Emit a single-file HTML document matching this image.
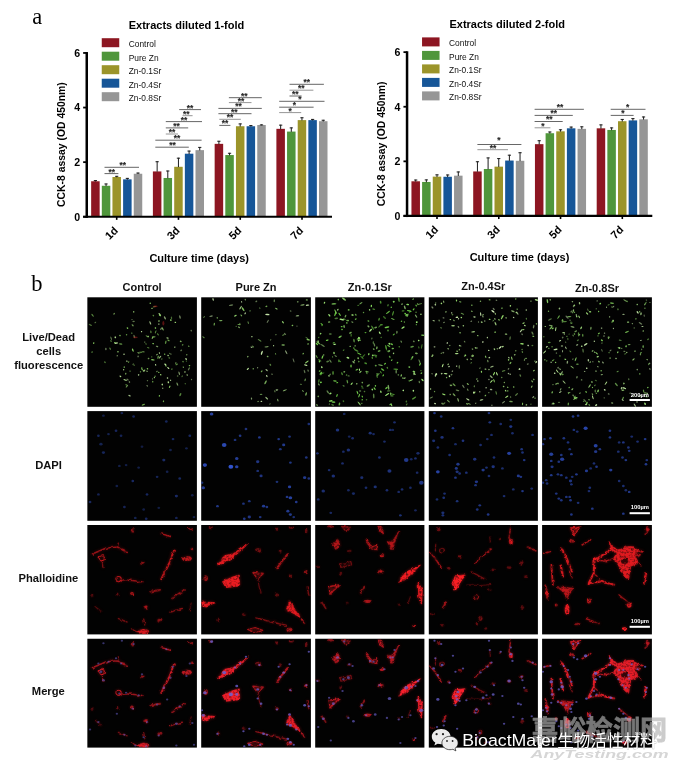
<!DOCTYPE html>
<html lang="en"><head><meta charset="utf-8"><title>Figure</title>
<style>html,body{margin:0;padding:0;background:#fff;}body{width:680px;height:771px;overflow:hidden;}svg{display:block;}</style>
</head><body>
<svg width="680" height="771" viewBox="0 0 680 771">
<defs><filter id="soft" x="-5%" y="-5%" width="110%" height="110%"><feGaussianBlur stdDeviation="0.45"/></filter>
<filter id="cell" x="-5%" y="-5%" width="110%" height="110%" color-interpolation-filters="sRGB"><feTurbulence type="fractalNoise" baseFrequency="0.22" numOctaves="2" seed="7" result="n"/><feDisplacementMap in="SourceGraphic" in2="n" scale="3.2" xChannelSelector="R" yChannelSelector="G" result="d"/><feGaussianBlur in="d" stdDeviation="0.45" result="b"/><feTurbulence type="fractalNoise" baseFrequency="0.45" numOctaves="2" seed="11" result="n2"/><feColorMatrix in="n2" type="matrix" values="0 0 0 0 1  0 0 0 0 1  0 0 0 0 1  2.7 0 0 0 -0.42" result="na"/><feComposite in="b" in2="na" operator="in" result="tex"/><feGaussianBlur in="d" stdDeviation="1.4" result="g0"/><feComponentTransfer in="g0" result="g"><feFuncA type="linear" slope="0.5"/></feComponentTransfer><feMerge><feMergeNode in="g"/><feMergeNode in="tex"/></feMerge></filter>
<filter id="soft3" x="-5%" y="-5%" width="110%" height="110%"><feGaussianBlur stdDeviation="0.75"/></filter>
<filter id="soft2" x="-5%" y="-5%" width="110%" height="110%"><feGaussianBlur stdDeviation="0.35"/></filter>
<clipPath id="cp00"><rect x="0" y="0" width="109.55" height="109.5"/></clipPath>
<clipPath id="cp01"><rect x="0" y="0" width="109.7" height="109.5"/></clipPath>
<clipPath id="cp02"><rect x="0" y="0" width="109.2" height="109.5"/></clipPath>
<clipPath id="cp03"><rect x="0" y="0" width="109.1" height="109.5"/></clipPath>
<clipPath id="cp04"><rect x="0" y="0" width="109.8" height="109.5"/></clipPath>
<clipPath id="cp10"><rect x="0" y="0" width="109.55" height="109.7"/></clipPath>
<clipPath id="cp11"><rect x="0" y="0" width="109.7" height="109.7"/></clipPath>
<clipPath id="cp12"><rect x="0" y="0" width="109.2" height="109.7"/></clipPath>
<clipPath id="cp13"><rect x="0" y="0" width="109.1" height="109.7"/></clipPath>
<clipPath id="cp14"><rect x="0" y="0" width="109.8" height="109.7"/></clipPath>
<clipPath id="cp20"><rect x="0" y="0" width="109.55" height="109.4"/></clipPath>
<clipPath id="cp21"><rect x="0" y="0" width="109.7" height="109.4"/></clipPath>
<clipPath id="cp22"><rect x="0" y="0" width="109.2" height="109.4"/></clipPath>
<clipPath id="cp23"><rect x="0" y="0" width="109.1" height="109.4"/></clipPath>
<clipPath id="cp24"><rect x="0" y="0" width="109.8" height="109.4"/></clipPath>
<clipPath id="cp30"><rect x="0" y="0" width="109.55" height="108.85"/></clipPath>
<clipPath id="cp31"><rect x="0" y="0" width="109.7" height="108.85"/></clipPath>
<clipPath id="cp32"><rect x="0" y="0" width="109.2" height="108.85"/></clipPath>
<clipPath id="cp33"><rect x="0" y="0" width="109.1" height="108.85"/></clipPath>
<clipPath id="cp34"><rect x="0" y="0" width="109.8" height="108.85"/></clipPath>
</defs>
<rect width="680" height="771" fill="#fff"/>
<text x="32.3" y="23.8" font-family="'Liberation Serif','Noto Serif CJK SC',serif" font-size="22.4">a</text>
<text x="31.2" y="290.6" font-family="'Liberation Serif','Noto Serif CJK SC',serif" font-size="22.5">b</text>
<g filter="url(#soft2)">
<g>
<text x="128.75" y="28.9" font-family="'Liberation Sans','Noto Sans CJK SC',sans-serif" font-weight="bold" font-size="11">Extracts diluted 1-fold</text>
<rect x="101.75" y="38.2" width="17.5" height="9" fill="#8d1820"/>
<text x="128.75" y="47" font-family="'Liberation Sans','Noto Sans CJK SC',sans-serif" font-size="8.4" fill="#111">Control</text>
<rect x="101.75" y="51.7" width="17.5" height="9" fill="#4f963a"/>
<text x="128.75" y="60.5" font-family="'Liberation Sans','Noto Sans CJK SC',sans-serif" font-size="8.4" fill="#111">Pure Zn</text>
<rect x="101.75" y="65.2" width="17.5" height="9" fill="#9b942a"/>
<text x="128.75" y="74" font-family="'Liberation Sans','Noto Sans CJK SC',sans-serif" font-size="8.4" fill="#111">Zn-0.1Sr</text>
<rect x="101.75" y="78.7" width="17.5" height="9" fill="#175698"/>
<text x="128.75" y="87.5" font-family="'Liberation Sans','Noto Sans CJK SC',sans-serif" font-size="8.4" fill="#111">Zn-0.4Sr</text>
<rect x="101.75" y="92.2" width="17.5" height="9" fill="#969696"/>
<text x="128.75" y="101" font-family="'Liberation Sans','Noto Sans CJK SC',sans-serif" font-size="8.4" fill="#111">Zn-0.8Sr</text>
<rect x="91.15" y="181.26" width="8.5" height="35.49" fill="#8d1820"/>
<path d="M95.4 181.56V180.17M93.8 180.57H97" stroke="#1c1c1c" stroke-width="1" fill="none"/>
<rect x="101.8" y="185.76" width="8.5" height="30.99" fill="#4f963a"/>
<path d="M106.05 186.06V183.58M104.45 183.98H107.65" stroke="#1c1c1c" stroke-width="1" fill="none"/>
<rect x="112.45" y="177" width="8.5" height="39.75" fill="#9b942a"/>
<path d="M116.7 177.3V175.91M115.1 176.31H118.3" stroke="#1c1c1c" stroke-width="1" fill="none"/>
<rect x="123.1" y="179.35" width="8.5" height="37.4" fill="#175698"/>
<path d="M127.35 179.65V177.98M125.75 178.38H128.95" stroke="#1c1c1c" stroke-width="1" fill="none"/>
<rect x="133.75" y="173.75" width="8.5" height="43" fill="#969696"/>
<path d="M138 174.05V172.66M136.4 173.06H139.6" stroke="#1c1c1c" stroke-width="1" fill="none"/>
<rect x="152.9" y="171.43" width="8.5" height="45.32" fill="#8d1820"/>
<path d="M157.15 171.73V161.33M155.55 161.73H158.75" stroke="#1c1c1c" stroke-width="1" fill="none"/>
<rect x="163.55" y="177.98" width="8.5" height="38.77" fill="#4f963a"/>
<path d="M167.8 178.28V170.61M166.2 171.01H169.4" stroke="#1c1c1c" stroke-width="1" fill="none"/>
<rect x="174.2" y="166.79" width="8.5" height="49.96" fill="#9b942a"/>
<path d="M178.45 167.09V157.78M176.85 158.18H180.05" stroke="#1c1c1c" stroke-width="1" fill="none"/>
<rect x="184.85" y="153.69" width="8.5" height="63.06" fill="#175698"/>
<path d="M189.1 153.99V150.68M187.5 151.08H190.7" stroke="#1c1c1c" stroke-width="1" fill="none"/>
<rect x="195.5" y="150.14" width="8.5" height="66.61" fill="#969696"/>
<path d="M199.75 150.44V147M198.15 147.4H201.35" stroke="#1c1c1c" stroke-width="1" fill="none"/>
<rect x="214.65" y="143.86" width="8.5" height="72.89" fill="#8d1820"/>
<path d="M218.9 144.16V140.86M217.3 141.26H220.5" stroke="#1c1c1c" stroke-width="1" fill="none"/>
<rect x="225.3" y="155.05" width="8.5" height="61.7" fill="#4f963a"/>
<path d="M229.55 155.35V152.87M227.95 153.27H231.15" stroke="#1c1c1c" stroke-width="1" fill="none"/>
<rect x="235.95" y="126.25" width="8.5" height="90.5" fill="#9b942a"/>
<path d="M240.2 126.55V123.52M238.6 123.92H241.8" stroke="#1c1c1c" stroke-width="1" fill="none"/>
<rect x="246.6" y="126.25" width="8.5" height="90.5" fill="#175698"/>
<path d="M250.85 126.55V125.16M249.25 125.56H252.45" stroke="#1c1c1c" stroke-width="1" fill="none"/>
<rect x="257.25" y="125.02" width="8.5" height="91.73" fill="#969696"/>
<path d="M261.5 125.32V124.48M259.9 124.88H263.1" stroke="#1c1c1c" stroke-width="1" fill="none"/>
<rect x="276.4" y="128.84" width="8.5" height="87.91" fill="#8d1820"/>
<path d="M280.65 129.14V124.75M279.05 125.15H282.25" stroke="#1c1c1c" stroke-width="1" fill="none"/>
<rect x="287.05" y="131.57" width="8.5" height="85.18" fill="#4f963a"/>
<path d="M291.3 131.87V127.48M289.7 127.88H292.9" stroke="#1c1c1c" stroke-width="1" fill="none"/>
<rect x="297.7" y="120.11" width="8.5" height="96.64" fill="#9b942a"/>
<path d="M301.95 120.41V117.38M300.35 117.78H303.55" stroke="#1c1c1c" stroke-width="1" fill="none"/>
<rect x="308.35" y="120.11" width="8.5" height="96.64" fill="#175698"/>
<path d="M312.6 120.41V119.02M311 119.42H314.2" stroke="#1c1c1c" stroke-width="1" fill="none"/>
<rect x="319" y="121.2" width="8.5" height="95.55" fill="#969696"/>
<path d="M323.25 121.5V119.84M321.65 120.24H324.85" stroke="#1c1c1c" stroke-width="1" fill="none"/>
<path d="M86.75 52.05V217.85" stroke="#000" stroke-width="2.5" fill="none"/>
<path d="M83.15 216.75H332" stroke="#000" stroke-width="2.2" fill="none"/>
<path d="M83.15 216.75H86.75" stroke="#000" stroke-width="1.8" fill="none"/>
<text x="80.15" y="220.65" text-anchor="end" font-family="'Liberation Sans','Noto Sans CJK SC',sans-serif" font-weight="bold" font-size="10.6">0</text>
<path d="M83.15 162.15H86.75" stroke="#000" stroke-width="1.8" fill="none"/>
<text x="80.15" y="166.05" text-anchor="end" font-family="'Liberation Sans','Noto Sans CJK SC',sans-serif" font-weight="bold" font-size="10.6">2</text>
<path d="M83.15 107.55H86.75" stroke="#000" stroke-width="1.8" fill="none"/>
<text x="80.15" y="111.45" text-anchor="end" font-family="'Liberation Sans','Noto Sans CJK SC',sans-serif" font-weight="bold" font-size="10.6">4</text>
<path d="M83.15 52.95H86.75" stroke="#000" stroke-width="1.8" fill="none"/>
<text x="80.15" y="56.85" text-anchor="end" font-family="'Liberation Sans','Noto Sans CJK SC',sans-serif" font-weight="bold" font-size="10.6">6</text>
<path d="M116.7 216.75V219.85" stroke="#000" stroke-width="1.6" fill="none"/>
<text transform="translate(118.7 231.15) rotate(-45)" text-anchor="end" font-family="'Liberation Sans','Noto Sans CJK SC',sans-serif" font-weight="bold" font-size="11">1d</text>
<path d="M178.47 216.75V219.85" stroke="#000" stroke-width="1.6" fill="none"/>
<text transform="translate(180.47 231.15) rotate(-45)" text-anchor="end" font-family="'Liberation Sans','Noto Sans CJK SC',sans-serif" font-weight="bold" font-size="11">3d</text>
<path d="M240.24 216.75V219.85" stroke="#000" stroke-width="1.6" fill="none"/>
<text transform="translate(242.24 231.15) rotate(-45)" text-anchor="end" font-family="'Liberation Sans','Noto Sans CJK SC',sans-serif" font-weight="bold" font-size="11">5d</text>
<path d="M302.01 216.75V219.85" stroke="#000" stroke-width="1.6" fill="none"/>
<text transform="translate(304.01 231.15) rotate(-45)" text-anchor="end" font-family="'Liberation Sans','Noto Sans CJK SC',sans-serif" font-weight="bold" font-size="11">7d</text>
<text x="199.2" y="261.8" text-anchor="middle" font-family="'Liberation Sans','Noto Sans CJK SC',sans-serif" font-weight="bold" font-size="11">Culture time (days)</text>
<text transform="translate(64.6 144.6) rotate(-90)" text-anchor="middle" font-family="'Liberation Sans','Noto Sans CJK SC',sans-serif" font-weight="bold" font-size="10.4">CCK-8 assay (OD 450nm)</text>
<path d="M104.5 173.6H118.4" stroke="#555" stroke-width="0.9" fill="none"/>
<text x="111.7" y="174.5" text-anchor="middle" font-family="'Liberation Sans','Noto Sans CJK SC',sans-serif" font-weight="bold" font-size="8.4" fill="#222" stroke="#222" stroke-width="0.12">**</text>
<path d="M104.5 167.3H139" stroke="#555" stroke-width="0.9" fill="none"/>
<text x="122.8" y="168.2" text-anchor="middle" font-family="'Liberation Sans','Noto Sans CJK SC',sans-serif" font-weight="bold" font-size="8.4" fill="#222" stroke="#222" stroke-width="0.12">**</text>
<path d="M155.3 147.2H188.8" stroke="#555" stroke-width="0.9" fill="none"/>
<text x="172.4" y="148.1" text-anchor="middle" font-family="'Liberation Sans','Noto Sans CJK SC',sans-serif" font-weight="bold" font-size="8.4" fill="#222" stroke="#222" stroke-width="0.12">**</text>
<path d="M155.3 140.2H201.6" stroke="#555" stroke-width="0.9" fill="none"/>
<text x="177" y="141.1" text-anchor="middle" font-family="'Liberation Sans','Noto Sans CJK SC',sans-serif" font-weight="bold" font-size="8.4" fill="#222" stroke="#222" stroke-width="0.12">**</text>
<path d="M165.8 134H178" stroke="#8a8a8a" stroke-width="0.9" fill="none"/>
<text x="172" y="134.9" text-anchor="middle" font-family="'Liberation Sans','Noto Sans CJK SC',sans-serif" font-weight="bold" font-size="8.4" fill="#222" stroke="#222" stroke-width="0.12">**</text>
<path d="M165.8 127.9H188.2" stroke="#555" stroke-width="0.9" fill="none"/>
<text x="176.4" y="128.8" text-anchor="middle" font-family="'Liberation Sans','Noto Sans CJK SC',sans-serif" font-weight="bold" font-size="8.4" fill="#222" stroke="#222" stroke-width="0.12">**</text>
<path d="M165.8 121.6H202" stroke="#555" stroke-width="0.9" fill="none"/>
<text x="184" y="122.5" text-anchor="middle" font-family="'Liberation Sans','Noto Sans CJK SC',sans-serif" font-weight="bold" font-size="8.4" fill="#222" stroke="#222" stroke-width="0.12">**</text>
<path d="M182.5 115.7H192.6" stroke="#8a8a8a" stroke-width="0.9" fill="none"/>
<text x="186.3" y="116.6" text-anchor="middle" font-family="'Liberation Sans','Noto Sans CJK SC',sans-serif" font-weight="bold" font-size="8.4" fill="#222" stroke="#222" stroke-width="0.12">**</text>
<path d="M179.2 109.6H201" stroke="#555" stroke-width="0.9" fill="none"/>
<text x="190.1" y="110.5" text-anchor="middle" font-family="'Liberation Sans','Noto Sans CJK SC',sans-serif" font-weight="bold" font-size="8.4" fill="#222" stroke="#222" stroke-width="0.12">**</text>
<path d="M219.3 125.4H230.4" stroke="#555" stroke-width="0.9" fill="none"/>
<text x="225.1" y="126.3" text-anchor="middle" font-family="'Liberation Sans','Noto Sans CJK SC',sans-serif" font-weight="bold" font-size="8.4" fill="#222" stroke="#222" stroke-width="0.12">**</text>
<path d="M219.3 119.3H240.8" stroke="#8a8a8a" stroke-width="0.9" fill="none"/>
<text x="229.9" y="120.2" text-anchor="middle" font-family="'Liberation Sans','Noto Sans CJK SC',sans-serif" font-weight="bold" font-size="8.4" fill="#222" stroke="#222" stroke-width="0.12">**</text>
<path d="M218.4 113.7H251.5" stroke="#555" stroke-width="0.9" fill="none"/>
<text x="234.3" y="114.6" text-anchor="middle" font-family="'Liberation Sans','Noto Sans CJK SC',sans-serif" font-weight="bold" font-size="8.4" fill="#222" stroke="#222" stroke-width="0.12">**</text>
<path d="M218.4 108.4H261.8" stroke="#555" stroke-width="0.9" fill="none"/>
<text x="238.5" y="109.3" text-anchor="middle" font-family="'Liberation Sans','Noto Sans CJK SC',sans-serif" font-weight="bold" font-size="8.4" fill="#222" stroke="#222" stroke-width="0.12">**</text>
<path d="M228.9 102.6H251.5" stroke="#8a8a8a" stroke-width="0.9" fill="none"/>
<text x="241" y="103.5" text-anchor="middle" font-family="'Liberation Sans','Noto Sans CJK SC',sans-serif" font-weight="bold" font-size="8.4" fill="#222" stroke="#222" stroke-width="0.12">**</text>
<path d="M228.9 97.7H261.8" stroke="#555" stroke-width="0.9" fill="none"/>
<text x="244.2" y="98.6" text-anchor="middle" font-family="'Liberation Sans','Noto Sans CJK SC',sans-serif" font-weight="bold" font-size="8.4" fill="#222" stroke="#222" stroke-width="0.12">**</text>
<path d="M279.2 112.6H301.2" stroke="#8a8a8a" stroke-width="0.9" fill="none"/>
<text x="290.1" y="113.5" text-anchor="middle" font-family="'Liberation Sans','Noto Sans CJK SC',sans-serif" font-weight="bold" font-size="8.4" fill="#222" stroke="#222" stroke-width="0.12">*</text>
<path d="M279.2 107.2H313.6" stroke="#555" stroke-width="0.9" fill="none"/>
<text x="294.5" y="108.1" text-anchor="middle" font-family="'Liberation Sans','Noto Sans CJK SC',sans-serif" font-weight="bold" font-size="8.4" fill="#222" stroke="#222" stroke-width="0.12">*</text>
<path d="M279.2 101.3H324.5" stroke="#555" stroke-width="0.9" fill="none"/>
<text x="300" y="102.2" text-anchor="middle" font-family="'Liberation Sans','Noto Sans CJK SC',sans-serif" font-weight="bold" font-size="8.4" fill="#222" stroke="#222" stroke-width="0.12">*</text>
<path d="M289.5 96H301.6" stroke="#555" stroke-width="0.9" fill="none"/>
<text x="295.2" y="96.9" text-anchor="middle" font-family="'Liberation Sans','Noto Sans CJK SC',sans-serif" font-weight="bold" font-size="8.4" fill="#222" stroke="#222" stroke-width="0.12">**</text>
<path d="M289.5 90.2H313.4" stroke="#8a8a8a" stroke-width="0.9" fill="none"/>
<text x="301.2" y="91.1" text-anchor="middle" font-family="'Liberation Sans','Noto Sans CJK SC',sans-serif" font-weight="bold" font-size="8.4" fill="#222" stroke="#222" stroke-width="0.12">**</text>
<path d="M289.5 84.3H323.9" stroke="#555" stroke-width="0.9" fill="none"/>
<text x="306.7" y="85.2" text-anchor="middle" font-family="'Liberation Sans','Noto Sans CJK SC',sans-serif" font-weight="bold" font-size="8.4" fill="#222" stroke="#222" stroke-width="0.12">**</text>
</g>
<g>
<text x="449.45" y="27.5" font-family="'Liberation Sans','Noto Sans CJK SC',sans-serif" font-weight="bold" font-size="11">Extracts diluted 2-fold</text>
<rect x="422.05" y="37.4" width="17.5" height="9" fill="#8d1820"/>
<text x="449.05" y="46.2" font-family="'Liberation Sans','Noto Sans CJK SC',sans-serif" font-size="8.4" fill="#111">Control</text>
<rect x="422.05" y="50.9" width="17.5" height="9" fill="#4f963a"/>
<text x="449.05" y="59.7" font-family="'Liberation Sans','Noto Sans CJK SC',sans-serif" font-size="8.4" fill="#111">Pure Zn</text>
<rect x="422.05" y="64.4" width="17.5" height="9" fill="#9b942a"/>
<text x="449.05" y="73.2" font-family="'Liberation Sans','Noto Sans CJK SC',sans-serif" font-size="8.4" fill="#111">Zn-0.1Sr</text>
<rect x="422.05" y="77.9" width="17.5" height="9" fill="#175698"/>
<text x="449.05" y="86.7" font-family="'Liberation Sans','Noto Sans CJK SC',sans-serif" font-size="8.4" fill="#111">Zn-0.4Sr</text>
<rect x="422.05" y="91.4" width="17.5" height="9" fill="#969696"/>
<text x="449.05" y="100.2" font-family="'Liberation Sans','Noto Sans CJK SC',sans-serif" font-size="8.4" fill="#111">Zn-0.8Sr</text>
<rect x="411.45" y="181.28" width="8.5" height="34.67" fill="#8d1820"/>
<path d="M415.7 181.58V179.64M414.1 180.04H417.3" stroke="#1c1c1c" stroke-width="1" fill="none"/>
<rect x="422.1" y="181.96" width="8.5" height="33.99" fill="#4f963a"/>
<path d="M426.35 182.26V179.5M424.75 179.9H427.95" stroke="#1c1c1c" stroke-width="1" fill="none"/>
<rect x="432.75" y="176.64" width="8.5" height="39.31" fill="#9b942a"/>
<path d="M437 176.94V174.45M435.4 174.85H438.6" stroke="#1c1c1c" stroke-width="1" fill="none"/>
<rect x="443.4" y="176.77" width="8.5" height="39.18" fill="#175698"/>
<path d="M447.65 177.07V174.59M446.05 174.99H449.25" stroke="#1c1c1c" stroke-width="1" fill="none"/>
<rect x="454.05" y="175.66" width="8.5" height="40.29" fill="#969696"/>
<path d="M458.3 175.96V171.56M456.7 171.96H459.9" stroke="#1c1c1c" stroke-width="1" fill="none"/>
<rect x="473.2" y="171.45" width="8.5" height="44.5" fill="#8d1820"/>
<path d="M477.45 171.75V161.35M475.85 161.75H479.05" stroke="#1c1c1c" stroke-width="1" fill="none"/>
<rect x="483.85" y="168.99" width="8.5" height="46.96" fill="#4f963a"/>
<path d="M488.1 169.29V157.53M486.5 157.93H489.7" stroke="#1c1c1c" stroke-width="1" fill="none"/>
<rect x="494.5" y="166.65" width="8.5" height="49.3" fill="#9b942a"/>
<path d="M498.75 166.95V158.18M497.15 158.58H500.35" stroke="#1c1c1c" stroke-width="1" fill="none"/>
<rect x="505.15" y="160.53" width="8.5" height="55.42" fill="#175698"/>
<path d="M509.4 160.83V154.8M507.8 155.2H511" stroke="#1c1c1c" stroke-width="1" fill="none"/>
<rect x="515.8" y="160.8" width="8.5" height="55.15" fill="#969696"/>
<path d="M520.05 161.1V152.34M518.45 152.74H521.65" stroke="#1c1c1c" stroke-width="1" fill="none"/>
<rect x="534.95" y="144.15" width="8.5" height="71.8" fill="#8d1820"/>
<path d="M539.2 144.45V140.33M537.6 140.73H540.8" stroke="#1c1c1c" stroke-width="1" fill="none"/>
<rect x="545.6" y="133.23" width="8.5" height="82.72" fill="#4f963a"/>
<path d="M549.85 133.53V131.59M548.25 131.99H551.45" stroke="#1c1c1c" stroke-width="1" fill="none"/>
<rect x="556.25" y="131.32" width="8.5" height="84.63" fill="#9b942a"/>
<path d="M560.5 131.62V129.41M558.9 129.81H562.1" stroke="#1c1c1c" stroke-width="1" fill="none"/>
<rect x="566.9" y="128.32" width="8.5" height="87.63" fill="#175698"/>
<path d="M571.15 128.62V126.68M569.55 127.08H572.75" stroke="#1c1c1c" stroke-width="1" fill="none"/>
<rect x="577.55" y="128.86" width="8.5" height="87.09" fill="#969696"/>
<path d="M581.8 129.16V126.41M580.2 126.81H583.4" stroke="#1c1c1c" stroke-width="1" fill="none"/>
<rect x="596.7" y="128.32" width="8.5" height="87.63" fill="#8d1820"/>
<path d="M600.95 128.62V124.49M599.35 124.89H602.55" stroke="#1c1c1c" stroke-width="1" fill="none"/>
<rect x="607.35" y="129.95" width="8.5" height="86" fill="#4f963a"/>
<path d="M611.6 130.25V127.5M610 127.9H613.2" stroke="#1c1c1c" stroke-width="1" fill="none"/>
<rect x="618" y="121.22" width="8.5" height="94.73" fill="#9b942a"/>
<path d="M622.25 121.52V119.03M620.65 119.43H623.85" stroke="#1c1c1c" stroke-width="1" fill="none"/>
<rect x="628.65" y="120.4" width="8.5" height="95.55" fill="#175698"/>
<path d="M632.9 120.7V118.22M631.3 118.62H634.5" stroke="#1c1c1c" stroke-width="1" fill="none"/>
<rect x="639.3" y="119.31" width="8.5" height="96.64" fill="#969696"/>
<path d="M643.55 119.61V116.58M641.95 116.98H645.15" stroke="#1c1c1c" stroke-width="1" fill="none"/>
<path d="M407.05 51.25V217.05" stroke="#000" stroke-width="2.5" fill="none"/>
<path d="M403.45 215.95H652.3" stroke="#000" stroke-width="2.2" fill="none"/>
<path d="M403.45 215.95H407.05" stroke="#000" stroke-width="1.8" fill="none"/>
<text x="400.45" y="219.85" text-anchor="end" font-family="'Liberation Sans','Noto Sans CJK SC',sans-serif" font-weight="bold" font-size="10.6">0</text>
<path d="M403.45 161.35H407.05" stroke="#000" stroke-width="1.8" fill="none"/>
<text x="400.45" y="165.25" text-anchor="end" font-family="'Liberation Sans','Noto Sans CJK SC',sans-serif" font-weight="bold" font-size="10.6">2</text>
<path d="M403.45 106.75H407.05" stroke="#000" stroke-width="1.8" fill="none"/>
<text x="400.45" y="110.65" text-anchor="end" font-family="'Liberation Sans','Noto Sans CJK SC',sans-serif" font-weight="bold" font-size="10.6">4</text>
<path d="M403.45 52.15H407.05" stroke="#000" stroke-width="1.8" fill="none"/>
<text x="400.45" y="56.05" text-anchor="end" font-family="'Liberation Sans','Noto Sans CJK SC',sans-serif" font-weight="bold" font-size="10.6">6</text>
<path d="M437 215.95V219.05" stroke="#000" stroke-width="1.6" fill="none"/>
<text transform="translate(439 230.35) rotate(-45)" text-anchor="end" font-family="'Liberation Sans','Noto Sans CJK SC',sans-serif" font-weight="bold" font-size="11">1d</text>
<path d="M498.77 215.95V219.05" stroke="#000" stroke-width="1.6" fill="none"/>
<text transform="translate(500.77 230.35) rotate(-45)" text-anchor="end" font-family="'Liberation Sans','Noto Sans CJK SC',sans-serif" font-weight="bold" font-size="11">3d</text>
<path d="M560.54 215.95V219.05" stroke="#000" stroke-width="1.6" fill="none"/>
<text transform="translate(562.54 230.35) rotate(-45)" text-anchor="end" font-family="'Liberation Sans','Noto Sans CJK SC',sans-serif" font-weight="bold" font-size="11">5d</text>
<path d="M622.31 215.95V219.05" stroke="#000" stroke-width="1.6" fill="none"/>
<text transform="translate(624.31 230.35) rotate(-45)" text-anchor="end" font-family="'Liberation Sans','Noto Sans CJK SC',sans-serif" font-weight="bold" font-size="11">7d</text>
<text x="519.5" y="261" text-anchor="middle" font-family="'Liberation Sans','Noto Sans CJK SC',sans-serif" font-weight="bold" font-size="11">Culture time (days)</text>
<text transform="translate(384.9 143.8) rotate(-90)" text-anchor="middle" font-family="'Liberation Sans','Noto Sans CJK SC',sans-serif" font-weight="bold" font-size="10.4">CCK-8 assay (OD 450nm)</text>
<path d="M477.4 149.7H508" stroke="#8a8a8a" stroke-width="0.9" fill="none"/>
<text x="493.1" y="150.6" text-anchor="middle" font-family="'Liberation Sans','Noto Sans CJK SC',sans-serif" font-weight="bold" font-size="8.4" fill="#222" stroke="#222" stroke-width="0.12">**</text>
<path d="M477.4 144.5H521.4" stroke="#555" stroke-width="0.9" fill="none"/>
<text x="499" y="143.2" text-anchor="middle" font-family="'Liberation Sans','Noto Sans CJK SC',sans-serif" font-weight="bold" font-size="8.4" fill="#222" stroke="#222" stroke-width="0.12">*</text>
<path d="M534.6 127.8H550.4" stroke="#8a8a8a" stroke-width="0.9" fill="none"/>
<text x="542.8" y="128.7" text-anchor="middle" font-family="'Liberation Sans','Noto Sans CJK SC',sans-serif" font-weight="bold" font-size="8.4" fill="#222" stroke="#222" stroke-width="0.12">*</text>
<path d="M534.6 121.5H562.7" stroke="#555" stroke-width="0.9" fill="none"/>
<text x="549.3" y="122.4" text-anchor="middle" font-family="'Liberation Sans','Noto Sans CJK SC',sans-serif" font-weight="bold" font-size="8.4" fill="#222" stroke="#222" stroke-width="0.12">**</text>
<path d="M534.6 115.4H572.8" stroke="#555" stroke-width="0.9" fill="none"/>
<text x="553.7" y="116.3" text-anchor="middle" font-family="'Liberation Sans','Noto Sans CJK SC',sans-serif" font-weight="bold" font-size="8.4" fill="#222" stroke="#222" stroke-width="0.12">**</text>
<path d="M534.6 109.3H583.9" stroke="#555" stroke-width="0.9" fill="none"/>
<text x="560" y="110.2" text-anchor="middle" font-family="'Liberation Sans','Noto Sans CJK SC',sans-serif" font-weight="bold" font-size="8.4" fill="#222" stroke="#222" stroke-width="0.12">**</text>
<path d="M610.7 115.4H633.6" stroke="#555" stroke-width="0.9" fill="none"/>
<text x="622.9" y="116.3" text-anchor="middle" font-family="'Liberation Sans','Noto Sans CJK SC',sans-serif" font-weight="bold" font-size="8.4" fill="#222" stroke="#222" stroke-width="0.12">*</text>
<path d="M610.7 109.3H645.5" stroke="#555" stroke-width="0.9" fill="none"/>
<text x="627.7" y="110.2" text-anchor="middle" font-family="'Liberation Sans','Noto Sans CJK SC',sans-serif" font-weight="bold" font-size="8.4" fill="#222" stroke="#222" stroke-width="0.12">*</text>
</g>
</g>
<g font-family="'Liberation Sans','Noto Sans CJK SC',sans-serif" font-weight="bold" font-size="11" text-anchor="middle" fill="#111">
<text x="142.12" y="291">Control</text>
<text x="256.05" y="291">Pure Zn</text>
<text x="369.8" y="291">Zn-0.1Sr</text>
<text x="483.35" y="290.4">Zn-0.4Sr</text>
<text x="597" y="292">Zn-0.8Sr</text>
<g font-size="11.2">
<text x="48.7" y="341.3">Live/Dead</text>
<text x="48.7" y="355">cells</text>
<text x="48.7" y="368.8">fluorescence</text>
<text x="48.5" y="468.6">DAPI</text>
<text x="48.4" y="582.4">Phalloidine</text>
<text x="48.3" y="695.2">Merge</text>
</g>
</g>
<g transform="translate(87.35 297.3)">
<rect x="0" y="0" width="109.55" height="109.5" fill="#020202"/>
<g clip-path="url(#cp00)" filter="url(#soft)">
<ellipse cx="51.09" cy="55.59" rx="1.3" ry="0.65" fill="#a0dc78" opacity="0.65" transform="rotate(33 51.09 55.59)"/>
<ellipse cx="65.36" cy="84.37" rx="0.8" ry="0.75" fill="#8cd464" opacity="0.65" transform="rotate(106 65.36 84.37)"/>
<ellipse cx="54.73" cy="72.05" rx="1.3" ry="0.6" fill="#8cd464" opacity="0.8" transform="rotate(50 54.73 72.05)"/>
<ellipse cx="82.23" cy="56.12" rx="0.7" ry="0.65" fill="#8cd464" opacity="0.5" transform="rotate(101 82.23 56.12)"/>
<ellipse cx="104.17" cy="82.23" rx="0.7" ry="0.6" fill="#c4eaa4" opacity="0.5" transform="rotate(44 104.17 82.23)"/>
<ellipse cx="46.31" cy="24.17" rx="1.3" ry="0.65" fill="#b6e492" opacity="0.5" transform="rotate(174 46.31 24.17)"/>
<ellipse cx="62.95" cy="5.98" rx="0.7" ry="0.75" fill="#8cd464" opacity="0.8" transform="rotate(79 62.95 5.98)"/>
<ellipse cx="68.3" cy="34.6" rx="1.8" ry="0.6" fill="#84cc5c" opacity="0.65" transform="rotate(109 68.3 34.6)"/>
<ellipse cx="65.78" cy="46.39" rx="0.9" ry="0.6" fill="#8cd464" opacity="0.95" transform="rotate(6 65.78 46.39)"/>
<ellipse cx="67.09" cy="9.4" rx="1.8" ry="0.6" fill="#8cd464" opacity="0.5" transform="rotate(164 67.09 9.4)"/>
<ellipse cx="45.32" cy="28.03" rx="1.3" ry="0.75" fill="#a0dc78" opacity="0.65" transform="rotate(50 45.32 28.03)"/>
<ellipse cx="71.46" cy="75.12" rx="0.7" ry="0.6" fill="#8cd464" opacity="0.95" transform="rotate(25 71.46 75.12)"/>
<ellipse cx="76.15" cy="104.04" rx="1" ry="0.6" fill="#8cd464" opacity="0.8" transform="rotate(114 76.15 104.04)"/>
<ellipse cx="4.72" cy="54.74" rx="1" ry="0.75" fill="#84cc5c" opacity="0.5" transform="rotate(119 4.72 54.74)"/>
<ellipse cx="28.89" cy="45.83" rx="1.8" ry="0.75" fill="#c4eaa4" opacity="0.95" transform="rotate(168 28.89 45.83)"/>
<ellipse cx="50.77" cy="59.14" rx="0.9" ry="0.75" fill="#c4eaa4" opacity="0.5" transform="rotate(92 50.77 59.14)"/>
<ellipse cx="84.56" cy="71.8" rx="0.9" ry="0.65" fill="#84cc5c" opacity="0.65" transform="rotate(161 84.56 71.8)"/>
<ellipse cx="36.32" cy="72.42" rx="0.8" ry="0.6" fill="#b6e492" opacity="0.95" transform="rotate(77 36.32 72.42)"/>
<ellipse cx="63.6" cy="35.21" rx="0.7" ry="0.75" fill="#8cd464" opacity="0.5" transform="rotate(89 63.6 35.21)"/>
<ellipse cx="56.88" cy="73.08" rx="1.3" ry="0.65" fill="#a0dc78" opacity="0.8" transform="rotate(151 56.88 73.08)"/>
<ellipse cx="73.73" cy="31.43" rx="1.3" ry="0.6" fill="#c4eaa4" opacity="0.65" transform="rotate(116 73.73 31.43)"/>
<ellipse cx="26.78" cy="16.5" rx="1" ry="0.6" fill="#a0dc78" opacity="0.8" transform="rotate(113 26.78 16.5)"/>
<ellipse cx="77.56" cy="20.57" rx="1.8" ry="0.75" fill="#c4eaa4" opacity="0.65" transform="rotate(62 77.56 20.57)"/>
<ellipse cx="91.89" cy="76.03" rx="1.8" ry="0.65" fill="#c4eaa4" opacity="0.65" transform="rotate(73 91.89 76.03)"/>
<ellipse cx="60.11" cy="83.32" rx="0.7" ry="0.65" fill="#b6e492" opacity="0.5" transform="rotate(5 60.11 83.32)"/>
<ellipse cx="56.69" cy="73.69" rx="1.3" ry="0.75" fill="#b6e492" opacity="0.5" transform="rotate(158 56.69 73.69)"/>
<ellipse cx="30.57" cy="54.5" rx="0.7" ry="0.75" fill="#a0dc78" opacity="0.95" transform="rotate(20 30.57 54.5)"/>
<ellipse cx="99.48" cy="57.41" rx="0.7" ry="0.65" fill="#a0dc78" opacity="0.65" transform="rotate(75 99.48 57.41)"/>
<ellipse cx="5.29" cy="18.06" rx="1.8" ry="0.65" fill="#84cc5c" opacity="0.65" transform="rotate(51 5.29 18.06)"/>
<ellipse cx="54.62" cy="54.72" rx="1.3" ry="0.65" fill="#84cc5c" opacity="0.65" transform="rotate(153 54.62 54.72)"/>
<ellipse cx="89.38" cy="67.08" rx="1.3" ry="0.75" fill="#84cc5c" opacity="0.65" transform="rotate(155 89.38 67.08)"/>
<ellipse cx="39.58" cy="88.93" rx="1.8" ry="0.65" fill="#a0dc78" opacity="0.65" transform="rotate(126 39.58 88.93)"/>
<ellipse cx="46.92" cy="39.26" rx="1.8" ry="0.75" fill="#b6e492" opacity="0.5" transform="rotate(67 46.92 39.26)"/>
<ellipse cx="44.66" cy="22.28" rx="0.7" ry="0.65" fill="#c4eaa4" opacity="0.5" transform="rotate(92 44.66 22.28)"/>
<ellipse cx="37.81" cy="82.7" rx="1.8" ry="0.6" fill="#b6e492" opacity="0.95" transform="rotate(20 37.81 82.7)"/>
<ellipse cx="83.21" cy="83" rx="0.7" ry="0.65" fill="#c4eaa4" opacity="0.8" transform="rotate(130 83.21 83)"/>
<ellipse cx="103.89" cy="33.33" rx="0.8" ry="0.75" fill="#c4eaa4" opacity="0.5" transform="rotate(73 103.89 33.33)"/>
<ellipse cx="56.32" cy="54.49" rx="1" ry="0.75" fill="#a0dc78" opacity="0.5" transform="rotate(21 56.32 54.49)"/>
<ellipse cx="67.04" cy="80.18" rx="0.7" ry="0.6" fill="#a0dc78" opacity="0.95" transform="rotate(72 67.04 80.18)"/>
<ellipse cx="18.53" cy="51.74" rx="1.3" ry="0.75" fill="#c4eaa4" opacity="0.5" transform="rotate(89 18.53 51.74)"/>
<ellipse cx="65.17" cy="40.43" rx="1.3" ry="0.65" fill="#a0dc78" opacity="0.8" transform="rotate(117 65.17 40.43)"/>
<ellipse cx="2.99" cy="27.59" rx="1.8" ry="0.65" fill="#8cd464" opacity="0.5" transform="rotate(28 2.99 27.59)"/>
<ellipse cx="88.48" cy="65.79" rx="1" ry="0.6" fill="#a0dc78" opacity="0.65" transform="rotate(112 88.48 65.79)"/>
<ellipse cx="69.62" cy="74.13" rx="0.8" ry="0.65" fill="#b6e492" opacity="0.65" transform="rotate(133 69.62 74.13)"/>
<ellipse cx="52.74" cy="55.06" rx="0.9" ry="0.65" fill="#84cc5c" opacity="0.8" transform="rotate(91 52.74 55.06)"/>
<ellipse cx="74.46" cy="61.66" rx="0.8" ry="0.6" fill="#84cc5c" opacity="0.65" transform="rotate(113 74.46 61.66)"/>
<ellipse cx="46.78" cy="67.89" rx="0.7" ry="0.6" fill="#84cc5c" opacity="0.65" transform="rotate(97 46.78 67.89)"/>
<ellipse cx="39.21" cy="37.52" rx="0.7" ry="0.6" fill="#84cc5c" opacity="0.95" transform="rotate(24 39.21 37.52)"/>
<ellipse cx="81.09" cy="43.05" rx="1.3" ry="0.65" fill="#84cc5c" opacity="0.8" transform="rotate(27 81.09 43.05)"/>
<ellipse cx="82.33" cy="89.49" rx="1.3" ry="0.6" fill="#8cd464" opacity="0.95" transform="rotate(117 82.33 89.49)"/>
<ellipse cx="53.14" cy="74.49" rx="0.7" ry="0.65" fill="#84cc5c" opacity="0.65" transform="rotate(139 53.14 74.49)"/>
<ellipse cx="75.41" cy="31.63" rx="1.8" ry="0.65" fill="#a0dc78" opacity="0.8" transform="rotate(64 75.41 31.63)"/>
<ellipse cx="97.6" cy="74.67" rx="0.9" ry="0.65" fill="#b6e492" opacity="0.8" transform="rotate(95 97.6 74.67)"/>
<ellipse cx="27.94" cy="40.02" rx="1" ry="0.75" fill="#b6e492" opacity="0.95" transform="rotate(65 27.94 40.02)"/>
<ellipse cx="80.19" cy="40.72" rx="1.3" ry="0.75" fill="#b6e492" opacity="0.65" transform="rotate(27 80.19 40.72)"/>
<ellipse cx="87.96" cy="25.06" rx="0.9" ry="0.6" fill="#a0dc78" opacity="0.95" transform="rotate(28 87.96 25.06)"/>
<ellipse cx="63.48" cy="34.03" rx="0.9" ry="0.75" fill="#8cd464" opacity="0.5" transform="rotate(60 63.48 34.03)"/>
<ellipse cx="80.93" cy="70.62" rx="1.3" ry="0.65" fill="#c4eaa4" opacity="0.95" transform="rotate(39 80.93 70.62)"/>
<ellipse cx="38.82" cy="87.47" rx="1" ry="0.75" fill="#84cc5c" opacity="0.5" transform="rotate(24 38.82 87.47)"/>
<ellipse cx="69.69" cy="57.29" rx="1" ry="0.65" fill="#b6e492" opacity="0.65" transform="rotate(144 69.69 57.29)"/>
<ellipse cx="84.14" cy="20.61" rx="1.3" ry="0.65" fill="#8cd464" opacity="0.5" transform="rotate(82 84.14 20.61)"/>
<ellipse cx="59.89" cy="88.52" rx="1" ry="0.65" fill="#c4eaa4" opacity="0.5" transform="rotate(46 59.89 88.52)"/>
<ellipse cx="93.36" cy="44.04" rx="1" ry="0.75" fill="#a0dc78" opacity="0.8" transform="rotate(24 93.36 44.04)"/>
<ellipse cx="71.53" cy="26.81" rx="0.9" ry="0.65" fill="#c4eaa4" opacity="0.65" transform="rotate(85 71.53 26.81)"/>
<ellipse cx="66.05" cy="18.25" rx="0.9" ry="0.75" fill="#84cc5c" opacity="0.65" transform="rotate(57 66.05 18.25)"/>
<ellipse cx="29.88" cy="58.43" rx="0.7" ry="0.6" fill="#b6e492" opacity="0.65" transform="rotate(138 29.88 58.43)"/>
<ellipse cx="51.26" cy="77.66" rx="0.7" ry="0.75" fill="#c4eaa4" opacity="0.95" transform="rotate(123 51.26 77.66)"/>
<ellipse cx="81.02" cy="85.04" rx="1" ry="0.75" fill="#b6e492" opacity="0.95" transform="rotate(80 81.02 85.04)"/>
<ellipse cx="81.9" cy="60.67" rx="1" ry="0.75" fill="#8cd464" opacity="0.5" transform="rotate(33 81.9 60.67)"/>
<ellipse cx="69.69" cy="49.09" rx="1.3" ry="0.6" fill="#b6e492" opacity="0.65" transform="rotate(18 69.69 49.09)"/>
<ellipse cx="64.63" cy="11.1" rx="0.7" ry="0.65" fill="#a0dc78" opacity="0.95" transform="rotate(28 64.63 11.1)"/>
<ellipse cx="67.85" cy="78.92" rx="0.8" ry="0.75" fill="#8cd464" opacity="0.5" transform="rotate(57 67.85 78.92)"/>
<ellipse cx="59.89" cy="39.05" rx="1.8" ry="0.6" fill="#84cc5c" opacity="0.65" transform="rotate(25 59.89 39.05)"/>
<ellipse cx="102.13" cy="68.29" rx="0.8" ry="0.65" fill="#8cd464" opacity="0.95" transform="rotate(14 102.13 68.29)"/>
<ellipse cx="61.22" cy="61.18" rx="0.9" ry="0.75" fill="#a0dc78" opacity="0.65" transform="rotate(163 61.22 61.18)"/>
<ellipse cx="40.23" cy="82.26" rx="1.3" ry="0.75" fill="#c4eaa4" opacity="0.5" transform="rotate(29 40.23 82.26)"/>
<ellipse cx="101.55" cy="71.62" rx="1.8" ry="0.65" fill="#b6e492" opacity="0.5" transform="rotate(120 101.55 71.62)"/>
<ellipse cx="22.75" cy="51.34" rx="1.3" ry="0.65" fill="#8cd464" opacity="0.65" transform="rotate(69 22.75 51.34)"/>
<ellipse cx="36.87" cy="69.84" rx="0.8" ry="0.65" fill="#84cc5c" opacity="0.95" transform="rotate(120 36.87 69.84)"/>
<ellipse cx="98.74" cy="61.65" rx="1" ry="0.75" fill="#c4eaa4" opacity="0.95" transform="rotate(50 98.74 61.65)"/>
<ellipse cx="36.68" cy="56.95" rx="0.7" ry="0.65" fill="#c4eaa4" opacity="0.95" transform="rotate(4 36.68 56.95)"/>
<ellipse cx="65.14" cy="81.58" rx="0.7" ry="0.6" fill="#c4eaa4" opacity="0.5" transform="rotate(106 65.14 81.58)"/>
<ellipse cx="46.4" cy="14.57" rx="0.8" ry="0.6" fill="#a0dc78" opacity="0.95" transform="rotate(93 46.4 14.57)"/>
<ellipse cx="33.04" cy="79.05" rx="1" ry="0.65" fill="#b6e492" opacity="0.95" transform="rotate(30 33.04 79.05)"/>
<ellipse cx="39.47" cy="63.86" rx="0.9" ry="0.65" fill="#c4eaa4" opacity="0.8" transform="rotate(5 39.47 63.86)"/>
<ellipse cx="93" cy="97.28" rx="1.8" ry="0.75" fill="#84cc5c" opacity="0.65" transform="rotate(114 93 97.28)"/>
<ellipse cx="101.38" cy="48.91" rx="0.9" ry="0.6" fill="#8cd464" opacity="0.65" transform="rotate(40 101.38 48.91)"/>
<ellipse cx="95.69" cy="64.32" rx="0.8" ry="0.75" fill="#8cd464" opacity="0.65" transform="rotate(54 95.69 64.32)"/>
<ellipse cx="58.72" cy="46.6" rx="0.8" ry="0.6" fill="#8cd464" opacity="0.65" transform="rotate(29 58.72 46.6)"/>
<ellipse cx="99.1" cy="63.79" rx="0.7" ry="0.6" fill="#84cc5c" opacity="0.5" transform="rotate(160 99.1 63.79)"/>
<ellipse cx="80.77" cy="58.12" rx="0.7" ry="0.75" fill="#b6e492" opacity="0.95" transform="rotate(138 80.77 58.12)"/>
<ellipse cx="72.69" cy="59.84" rx="1.8" ry="0.6" fill="#c4eaa4" opacity="0.8" transform="rotate(128 72.69 59.84)"/>
<ellipse cx="78.42" cy="67.87" rx="1.8" ry="0.65" fill="#84cc5c" opacity="0.8" transform="rotate(76 78.42 67.87)"/>
<ellipse cx="54.57" cy="70.73" rx="0.8" ry="0.6" fill="#84cc5c" opacity="0.95" transform="rotate(68 54.57 70.73)"/>
<ellipse cx="33.24" cy="46.7" rx="1.8" ry="0.75" fill="#8cd464" opacity="0.65" transform="rotate(6 33.24 46.7)"/>
<ellipse cx="42.09" cy="84.71" rx="0.8" ry="0.75" fill="#c4eaa4" opacity="0.65" transform="rotate(62 42.09 84.71)"/>
<ellipse cx="40.14" cy="30.74" rx="0.9" ry="0.75" fill="#84cc5c" opacity="0.95" transform="rotate(32 40.14 30.74)"/>
<ellipse cx="99.86" cy="77.67" rx="0.8" ry="0.75" fill="#b6e492" opacity="0.8" transform="rotate(64 99.86 77.67)"/>
<ellipse cx="83.58" cy="56.81" rx="0.8" ry="0.65" fill="#b6e492" opacity="0.5" transform="rotate(70 83.58 56.81)"/>
<ellipse cx="17.57" cy="64.91" rx="1" ry="0.65" fill="#84cc5c" opacity="0.65" transform="rotate(56 17.57 64.91)"/>
<ellipse cx="72.45" cy="17.18" rx="1.8" ry="0.65" fill="#b6e492" opacity="0.95" transform="rotate(50 72.45 17.18)"/>
<ellipse cx="32.61" cy="38.24" rx="0.7" ry="0.75" fill="#84cc5c" opacity="0.95" transform="rotate(7 32.61 38.24)"/>
<ellipse cx="60.94" cy="39.13" rx="0.9" ry="0.6" fill="#a0dc78" opacity="0.8" transform="rotate(139 60.94 39.13)"/>
<ellipse cx="77.36" cy="56.93" rx="0.8" ry="0.65" fill="#84cc5c" opacity="0.8" transform="rotate(163 77.36 56.93)"/>
<ellipse cx="95.97" cy="69.91" rx="0.9" ry="0.6" fill="#a0dc78" opacity="0.65" transform="rotate(61 95.97 69.91)"/>
<ellipse cx="68.31" cy="67.62" rx="0.9" ry="0.6" fill="#c4eaa4" opacity="0.95" transform="rotate(74 68.31 67.62)"/>
<ellipse cx="42.17" cy="98.37" rx="1.3" ry="0.65" fill="#c4eaa4" opacity="0.8" transform="rotate(24 42.17 98.37)"/>
<ellipse cx="70.74" cy="59.88" rx="1.8" ry="0.65" fill="#8cd464" opacity="0.8" transform="rotate(100 70.74 59.88)"/>
<ellipse cx="23.65" cy="43.7" rx="0.8" ry="0.6" fill="#84cc5c" opacity="0.8" transform="rotate(34 23.65 43.7)"/>
<ellipse cx="74.91" cy="87.23" rx="0.9" ry="0.75" fill="#b6e492" opacity="0.95" transform="rotate(74 74.91 87.23)"/>
<ellipse cx="45.45" cy="52.83" rx="1.8" ry="0.75" fill="#8cd464" opacity="0.95" transform="rotate(71 45.45 52.83)"/>
<ellipse cx="90" cy="86.83" rx="1.8" ry="0.65" fill="#b6e492" opacity="0.65" transform="rotate(67 90 86.83)"/>
<ellipse cx="42.68" cy="73.85" rx="0.7" ry="0.6" fill="#8cd464" opacity="0.65" transform="rotate(28 42.68 73.85)"/>
<ellipse cx="92.62" cy="19.74" rx="1.8" ry="0.65" fill="#c4eaa4" opacity="0.65" transform="rotate(78 92.62 19.74)"/>
<ellipse cx="78.38" cy="44.97" rx="1.8" ry="0.75" fill="#84cc5c" opacity="0.65" transform="rotate(103 78.38 44.97)"/>
<ellipse cx="95.28" cy="47.57" rx="0.9" ry="0.75" fill="#8cd464" opacity="0.65" transform="rotate(159 95.28 47.57)"/>
<ellipse cx="68.09" cy="30.68" rx="0.9" ry="0.75" fill="#84cc5c" opacity="0.8" transform="rotate(86 68.09 30.68)"/>
<ellipse cx="93.86" cy="53.07" rx="1" ry="0.75" fill="#b6e492" opacity="0.5" transform="rotate(145 93.86 53.07)"/>
<ellipse cx="60.13" cy="71.46" rx="0.9" ry="0.6" fill="#84cc5c" opacity="0.95" transform="rotate(49 60.13 71.46)"/>
<ellipse cx="90.29" cy="78.71" rx="0.8" ry="0.75" fill="#a0dc78" opacity="0.5" transform="rotate(4 90.29 78.71)"/>
<ellipse cx="54.22" cy="34.3" rx="0.7" ry="0.65" fill="#c4eaa4" opacity="0.95" transform="rotate(119 54.22 34.3)"/>
<ellipse cx="62.93" cy="25.7" rx="1.8" ry="0.65" fill="#c4eaa4" opacity="0.8" transform="rotate(66 62.93 25.7)"/>
<ellipse cx="59.67" cy="73.94" rx="0.8" ry="0.65" fill="#b6e492" opacity="0.8" transform="rotate(19 59.67 73.94)"/>
<ellipse cx="44.46" cy="35.74" rx="0.8" ry="0.6" fill="#8cd464" opacity="0.65" transform="rotate(171 44.46 35.74)"/>
<ellipse cx="72.06" cy="98.53" rx="0.9" ry="0.65" fill="#84cc5c" opacity="0.95" transform="rotate(110 72.06 98.53)"/>
<ellipse cx="80.17" cy="80.75" rx="1" ry="0.75" fill="#c4eaa4" opacity="0.65" transform="rotate(84 80.17 80.75)"/>
<ellipse cx="65.47" cy="62.5" rx="1.8" ry="0.65" fill="#8cd464" opacity="0.95" transform="rotate(5 65.47 62.5)"/>
<ellipse cx="55.99" cy="107.33" rx="1.8" ry="0.65" fill="#84cc5c" opacity="0.8" transform="rotate(156 55.99 107.33)"/>
<ellipse cx="87.46" cy="49.86" rx="0.8" ry="0.65" fill="#b6e492" opacity="0.8" transform="rotate(155 87.46 49.86)"/>
<ellipse cx="97.96" cy="86.36" rx="0.7" ry="0.65" fill="#8cd464" opacity="0.5" transform="rotate(65 97.96 86.36)"/>
<ellipse cx="45.81" cy="66.93" rx="1" ry="0.65" fill="#a0dc78" opacity="0.5" transform="rotate(122 45.81 66.93)"/>
<ellipse cx="94.85" cy="79" rx="1" ry="0.65" fill="#8cd464" opacity="0.5" transform="rotate(120 94.85 79)"/>
<ellipse cx="71.61" cy="23.71" rx="0.8" ry="0.75" fill="#a0dc78" opacity="0.95" transform="rotate(137 71.61 23.71)"/>
<ellipse cx="66.47" cy="39.58" rx="1.8" ry="0.6" fill="#8cd464" opacity="0.8" transform="rotate(179 66.47 39.58)"/>
<ellipse cx="83.48" cy="22.82" rx="0.9" ry="0.75" fill="#8cd464" opacity="0.95" transform="rotate(47 83.48 22.82)"/>
<ellipse cx="38.39" cy="76.44" rx="0.9" ry="0.6" fill="#a0dc78" opacity="0.8" transform="rotate(104 38.39 76.44)"/>
<ellipse cx="27.56" cy="45.33" rx="0.9" ry="0.65" fill="#8cd464" opacity="0.95" transform="rotate(161 27.56 45.33)"/>
<ellipse cx="64.41" cy="59.64" rx="0.7" ry="0.65" fill="#8cd464" opacity="0.5" transform="rotate(161 64.41 59.64)"/>
<ellipse cx="72.64" cy="18.08" rx="1.3" ry="0.65" fill="#84cc5c" opacity="0.95" transform="rotate(30 72.64 18.08)"/>
<ellipse cx="7.99" cy="25.17" rx="1" ry="0.6" fill="#a0dc78" opacity="0.5" transform="rotate(142 7.99 25.17)"/>
<ellipse cx="23.8" cy="40.9" rx="1.8" ry="0.6" fill="#b6e492" opacity="0.5" transform="rotate(71 23.8 40.9)"/>
<ellipse cx="72.08" cy="55.78" rx="0.8" ry="0.6" fill="#c4eaa4" opacity="0.95" transform="rotate(63 72.08 55.78)"/>
<ellipse cx="60.94" cy="50.42" rx="1.3" ry="0.6" fill="#84cc5c" opacity="0.65" transform="rotate(18 60.94 50.42)"/>
<ellipse cx="57.41" cy="44.79" rx="0.7" ry="0.65" fill="#b6e492" opacity="0.5" transform="rotate(155 57.41 44.79)"/>
<ellipse cx="6.41" cy="45.82" rx="0.7" ry="0.75" fill="#8cd464" opacity="0.95" transform="rotate(46 6.41 45.82)"/>
<ellipse cx="70.59" cy="37.06" rx="1.3" ry="0.6" fill="#84cc5c" opacity="0.65" transform="rotate(56 70.59 37.06)"/>
<ellipse cx="73.39" cy="77.45" rx="0.8" ry="0.75" fill="#a0dc78" opacity="0.95" transform="rotate(64 73.39 77.45)"/>
<ellipse cx="41.27" cy="64.69" rx="0.9" ry="0.6" fill="#84cc5c" opacity="0.8" transform="rotate(123 41.27 64.69)"/>
<ellipse cx="75.39" cy="90.97" rx="0.7" ry="0.65" fill="#c4eaa4" opacity="0.65" transform="rotate(137 75.39 90.97)"/>
<ellipse cx="77.93" cy="67.21" rx="1.3" ry="0.6" fill="#c4eaa4" opacity="0.95" transform="rotate(38 77.93 67.21)"/>
<ellipse cx="68" cy="9" rx="2.2" ry="0.9" fill="#c02020" opacity="0.5"/>
<ellipse cx="76" cy="26" rx="1" ry="2.2" fill="#c02020" opacity="0.45"/>
<ellipse cx="48" cy="40" rx="2.4" ry="0.9" fill="#c02020" opacity="0.45"/>
</g></g>
<g transform="translate(201.2 297.3)">
<rect x="0" y="0" width="109.7" height="109.5" fill="#020202"/>
<g clip-path="url(#cp01)" filter="url(#soft)">
<ellipse cx="52.04" cy="71.52" rx="0.7" ry="0.65" fill="#94d470" opacity="0.95" transform="rotate(25 52.04 71.52)"/>
<ellipse cx="105.66" cy="40.66" rx="1.8" ry="0.55" fill="#88cc62" opacity="0.5" transform="rotate(37 105.66 40.66)"/>
<ellipse cx="74.66" cy="37.39" rx="0.7" ry="0.55" fill="#a8dc84" opacity="0.65" transform="rotate(151 74.66 37.39)"/>
<ellipse cx="106.88" cy="46.64" rx="0.9" ry="0.75" fill="#88cc62" opacity="0.8" transform="rotate(118 106.88 46.64)"/>
<ellipse cx="60.62" cy="55.52" rx="2.2" ry="0.75" fill="#cdeeb0" opacity="0.95" transform="rotate(109 60.62 55.52)"/>
<ellipse cx="66.39" cy="59.13" rx="0.9" ry="0.75" fill="#94d470" opacity="0.8" transform="rotate(14 66.39 59.13)"/>
<ellipse cx="101.73" cy="93.74" rx="1.1" ry="0.55" fill="#94d470" opacity="0.8" transform="rotate(55 101.73 93.74)"/>
<ellipse cx="81.73" cy="25" rx="1.4" ry="0.65" fill="#94d470" opacity="0.95" transform="rotate(49 81.73 25)"/>
<ellipse cx="65.62" cy="78.81" rx="1.1" ry="0.65" fill="#cdeeb0" opacity="0.95" transform="rotate(66 65.62 78.81)"/>
<ellipse cx="75.72" cy="92.61" rx="1.4" ry="0.75" fill="#bce69c" opacity="0.8" transform="rotate(177 75.72 92.61)"/>
<ellipse cx="37.9" cy="27.23" rx="1.8" ry="0.55" fill="#88cc62" opacity="0.8" transform="rotate(7 37.9 27.23)"/>
<ellipse cx="55.13" cy="4.05" rx="1.1" ry="0.75" fill="#bce69c" opacity="0.5" transform="rotate(141 55.13 4.05)"/>
<ellipse cx="85.01" cy="54.98" rx="2.2" ry="0.65" fill="#cdeeb0" opacity="0.65" transform="rotate(63 85.01 54.98)"/>
<ellipse cx="102.03" cy="56.37" rx="0.9" ry="0.75" fill="#88cc62" opacity="0.8" transform="rotate(126 102.03 56.37)"/>
<ellipse cx="103.95" cy="82.49" rx="1.4" ry="0.55" fill="#94d470" opacity="0.8" transform="rotate(105 103.95 82.49)"/>
<ellipse cx="69.45" cy="42.51" rx="0.9" ry="0.55" fill="#a8dc84" opacity="0.5" transform="rotate(123 69.45 42.51)"/>
<ellipse cx="41.91" cy="11.97" rx="2.2" ry="0.75" fill="#88cc62" opacity="0.95" transform="rotate(56 41.91 11.97)"/>
<ellipse cx="66.59" cy="24.07" rx="1.8" ry="0.55" fill="#cdeeb0" opacity="0.5" transform="rotate(122 66.59 24.07)"/>
<ellipse cx="39.39" cy="10.27" rx="2.2" ry="0.65" fill="#bce69c" opacity="0.8" transform="rotate(123 39.39 10.27)"/>
<ellipse cx="40.44" cy="4.67" rx="0.9" ry="0.55" fill="#cdeeb0" opacity="0.8" transform="rotate(79 40.44 4.67)"/>
<ellipse cx="2.32" cy="39.87" rx="1.4" ry="0.65" fill="#88cc62" opacity="0.65" transform="rotate(36 2.32 39.87)"/>
<ellipse cx="91.27" cy="28.11" rx="0.9" ry="0.65" fill="#88cc62" opacity="0.95" transform="rotate(153 91.27 28.11)"/>
<ellipse cx="60.49" cy="74" rx="1.1" ry="0.65" fill="#94d470" opacity="0.8" transform="rotate(131 60.49 74)"/>
<ellipse cx="66.17" cy="17.28" rx="2.2" ry="0.75" fill="#cdeeb0" opacity="0.95" transform="rotate(5 66.17 17.28)"/>
<ellipse cx="46.64" cy="71.63" rx="1.4" ry="0.65" fill="#bce69c" opacity="0.95" transform="rotate(138 46.64 71.63)"/>
<ellipse cx="19.59" cy="23.34" rx="1.8" ry="0.55" fill="#94d470" opacity="0.8" transform="rotate(174 19.59 23.34)"/>
<ellipse cx="83.59" cy="92.98" rx="2.2" ry="0.55" fill="#a8dc84" opacity="0.8" transform="rotate(157 83.59 92.98)"/>
<ellipse cx="2.88" cy="19.72" rx="1.1" ry="0.55" fill="#94d470" opacity="0.65" transform="rotate(128 2.88 19.72)"/>
<ellipse cx="11.95" cy="2.16" rx="1.4" ry="0.75" fill="#cdeeb0" opacity="0.8" transform="rotate(70 11.95 2.16)"/>
<ellipse cx="96.58" cy="4.5" rx="0.9" ry="0.65" fill="#a8dc84" opacity="0.8" transform="rotate(3 96.58 4.5)"/>
<ellipse cx="103.35" cy="74.18" rx="1.8" ry="0.65" fill="#bce69c" opacity="0.5" transform="rotate(73 103.35 74.18)"/>
<ellipse cx="38.61" cy="26.18" rx="0.7" ry="0.55" fill="#a8dc84" opacity="0.5" transform="rotate(145 38.61 26.18)"/>
<ellipse cx="105.62" cy="64.67" rx="2.2" ry="0.55" fill="#94d470" opacity="0.95" transform="rotate(144 105.62 64.67)"/>
<ellipse cx="46.61" cy="59.34" rx="0.7" ry="0.75" fill="#a8dc84" opacity="0.8" transform="rotate(43 46.61 59.34)"/>
<ellipse cx="65.41" cy="72.76" rx="1.4" ry="0.65" fill="#cdeeb0" opacity="0.8" transform="rotate(41 65.41 72.76)"/>
<ellipse cx="82.15" cy="37.68" rx="1.4" ry="0.65" fill="#88cc62" opacity="0.65" transform="rotate(155 82.15 37.68)"/>
<ellipse cx="69.18" cy="67.48" rx="1.1" ry="0.75" fill="#88cc62" opacity="0.65" transform="rotate(61 69.18 67.48)"/>
<ellipse cx="72.45" cy="48.4" rx="0.7" ry="0.55" fill="#bce69c" opacity="0.95" transform="rotate(61 72.45 48.4)"/>
<ellipse cx="40.12" cy="18.12" rx="1.1" ry="0.65" fill="#94d470" opacity="0.8" transform="rotate(49 40.12 18.12)"/>
<ellipse cx="65.22" cy="9.08" rx="1.1" ry="0.75" fill="#88cc62" opacity="0.8" transform="rotate(160 65.22 9.08)"/>
<ellipse cx="56.43" cy="70.46" rx="0.7" ry="0.65" fill="#cdeeb0" opacity="0.65" transform="rotate(120 56.43 70.46)"/>
<ellipse cx="106.89" cy="73.25" rx="1.1" ry="0.55" fill="#bce69c" opacity="0.65" transform="rotate(78 106.89 73.25)"/>
<ellipse cx="50.32" cy="101.29" rx="1.1" ry="0.65" fill="#bce69c" opacity="0.65" transform="rotate(83 50.32 101.29)"/>
<ellipse cx="64.36" cy="85.04" rx="2.2" ry="0.75" fill="#94d470" opacity="0.8" transform="rotate(118 64.36 85.04)"/>
<ellipse cx="43.99" cy="16.06" rx="1.1" ry="0.65" fill="#cdeeb0" opacity="0.8" transform="rotate(120 43.99 16.06)"/>
<ellipse cx="34.97" cy="29.1" rx="0.7" ry="0.65" fill="#88cc62" opacity="0.5" transform="rotate(9 34.97 29.1)"/>
<ellipse cx="34.23" cy="18.38" rx="1.4" ry="0.75" fill="#94d470" opacity="0.95" transform="rotate(149 34.23 18.38)"/>
<ellipse cx="65.53" cy="100.86" rx="1.8" ry="0.65" fill="#bce69c" opacity="0.8" transform="rotate(41 65.53 100.86)"/>
<ellipse cx="13.03" cy="26.96" rx="1.4" ry="0.55" fill="#88cc62" opacity="0.95" transform="rotate(98 13.03 26.96)"/>
<ellipse cx="56.86" cy="104.19" rx="0.7" ry="0.65" fill="#a8dc84" opacity="0.8" transform="rotate(152 56.86 104.19)"/>
<ellipse cx="107.05" cy="42.4" rx="1.8" ry="0.75" fill="#88cc62" opacity="0.95" transform="rotate(15 107.05 42.4)"/>
<ellipse cx="44.06" cy="2.36" rx="0.9" ry="0.55" fill="#a8dc84" opacity="0.8" transform="rotate(74 44.06 2.36)"/>
<ellipse cx="73.63" cy="94.07" rx="1.1" ry="0.65" fill="#a8dc84" opacity="0.5" transform="rotate(65 73.63 94.07)"/>
<ellipse cx="89.38" cy="13.73" rx="0.9" ry="0.55" fill="#bce69c" opacity="0.65" transform="rotate(11 89.38 13.73)"/>
<ellipse cx="59.89" cy="97.06" rx="1.4" ry="0.55" fill="#94d470" opacity="0.65" transform="rotate(177 59.89 97.06)"/>
<ellipse cx="50.29" cy="50.03" rx="1.1" ry="0.55" fill="#cdeeb0" opacity="0.8" transform="rotate(30 50.29 50.03)"/>
<ellipse cx="81.97" cy="47.69" rx="1.8" ry="0.65" fill="#94d470" opacity="0.8" transform="rotate(3 81.97 47.69)"/>
<ellipse cx="101.29" cy="7.63" rx="2.2" ry="0.75" fill="#a8dc84" opacity="0.65" transform="rotate(167 101.29 7.63)"/>
<ellipse cx="37.76" cy="30" rx="1.1" ry="0.65" fill="#a8dc84" opacity="0.8" transform="rotate(39 37.76 30)"/>
<ellipse cx="68.74" cy="106.66" rx="0.9" ry="0.55" fill="#a8dc84" opacity="0.5" transform="rotate(124 68.74 106.66)"/>
<ellipse cx="58.36" cy="43.02" rx="2.2" ry="0.55" fill="#88cc62" opacity="0.65" transform="rotate(34 58.36 43.02)"/>
<ellipse cx="51.72" cy="49.17" rx="1.4" ry="0.55" fill="#94d470" opacity="0.65" transform="rotate(36 51.72 49.17)"/>
<ellipse cx="74.36" cy="56.52" rx="0.9" ry="0.55" fill="#88cc62" opacity="0.65" transform="rotate(70 74.36 56.52)"/>
<ellipse cx="96.25" cy="18.46" rx="1.8" ry="0.75" fill="#bce69c" opacity="0.65" transform="rotate(168 96.25 18.46)"/>
<ellipse cx="104.89" cy="96.67" rx="1.8" ry="0.75" fill="#94d470" opacity="0.8" transform="rotate(107 104.89 96.67)"/>
<ellipse cx="9.92" cy="18.86" rx="1.8" ry="0.75" fill="#cdeeb0" opacity="0.5" transform="rotate(170 9.92 18.86)"/>
<ellipse cx="65.43" cy="49.49" rx="2.2" ry="0.65" fill="#a8dc84" opacity="0.65" transform="rotate(173 65.43 49.49)"/>
<ellipse cx="73.1" cy="3.47" rx="1.4" ry="0.65" fill="#a8dc84" opacity="0.65" transform="rotate(95 73.1 3.47)"/>
<ellipse cx="58.58" cy="10.84" rx="0.9" ry="0.65" fill="#94d470" opacity="0.5" transform="rotate(53 58.58 10.84)"/>
<ellipse cx="105.63" cy="2.64" rx="1.1" ry="0.65" fill="#94d470" opacity="0.8" transform="rotate(1 105.63 2.64)"/>
<ellipse cx="95.8" cy="28.84" rx="0.7" ry="0.55" fill="#cdeeb0" opacity="0.5" transform="rotate(85 95.8 28.84)"/>
<ellipse cx="75.19" cy="11.36" rx="1.4" ry="0.55" fill="#94d470" opacity="0.95" transform="rotate(28 75.19 11.36)"/>
<ellipse cx="60.18" cy="104.01" rx="0.9" ry="0.65" fill="#cdeeb0" opacity="0.95" transform="rotate(0 60.18 104.01)"/>
<ellipse cx="99.67" cy="87.06" rx="1.1" ry="0.65" fill="#94d470" opacity="0.5" transform="rotate(14 99.67 87.06)"/>
<ellipse cx="50.73" cy="39.36" rx="0.7" ry="0.65" fill="#bce69c" opacity="0.95" transform="rotate(61 50.73 39.36)"/>
<ellipse cx="29.86" cy="7.85" rx="2.2" ry="0.75" fill="#bce69c" opacity="0.5" transform="rotate(167 29.86 7.85)"/>
<ellipse cx="70.86" cy="76.87" rx="0.7" ry="0.65" fill="#bce69c" opacity="0.65" transform="rotate(66 70.86 76.87)"/>
<ellipse cx="104.55" cy="67.82" rx="1.8" ry="0.65" fill="#bce69c" opacity="0.95" transform="rotate(14 104.55 67.82)"/>
<ellipse cx="16.1" cy="20.48" rx="0.9" ry="0.75" fill="#94d470" opacity="0.65" transform="rotate(76 16.1 20.48)"/>
<ellipse cx="48.87" cy="13.58" rx="0.7" ry="0.75" fill="#94d470" opacity="0.65" transform="rotate(85 48.87 13.58)"/>
<ellipse cx="76.62" cy="102.83" rx="1.4" ry="0.55" fill="#a8dc84" opacity="0.8" transform="rotate(75 76.62 102.83)"/>
<ellipse cx="106.37" cy="7.9" rx="1.8" ry="0.65" fill="#cdeeb0" opacity="0.95" transform="rotate(173 106.37 7.9)"/>
<ellipse cx="92.37" cy="63.09" rx="2.2" ry="0.55" fill="#cdeeb0" opacity="0.5" transform="rotate(72 92.37 63.09)"/>
<ellipse cx="83.81" cy="36.63" rx="1.4" ry="0.65" fill="#bce69c" opacity="0.5" transform="rotate(42 83.81 36.63)"/>
<ellipse cx="47.03" cy="25.3" rx="1.4" ry="0.55" fill="#94d470" opacity="0.65" transform="rotate(74 47.03 25.3)"/>
</g></g>
<g transform="translate(315.2 297.3)">
<rect x="0" y="0" width="109.2" height="109.5" fill="#020202"/>
<g clip-path="url(#cp02)" filter="url(#soft)">
<ellipse cx="29.08" cy="74.48" rx="1" ry="0.8" fill="#98e072" opacity="0.7" transform="rotate(152 29.08 74.48)"/>
<ellipse cx="94.07" cy="69.76" rx="1" ry="0.8" fill="#84d65e" opacity="0.85" transform="rotate(12 94.07 69.76)"/>
<ellipse cx="47.46" cy="90.71" rx="1.2" ry="0.6" fill="#72cc4c" opacity="0.55" transform="rotate(2 47.46 90.71)"/>
<ellipse cx="89.51" cy="80.82" rx="1.2" ry="0.7" fill="#aae886" opacity="0.7" transform="rotate(142 89.51 80.82)"/>
<ellipse cx="97.16" cy="60.04" rx="1.5" ry="0.8" fill="#84d65e" opacity="0.85" transform="rotate(120 97.16 60.04)"/>
<ellipse cx="38.35" cy="64.83" rx="1.5" ry="0.8" fill="#aae886" opacity="0.7" transform="rotate(47 38.35 64.83)"/>
<ellipse cx="73.58" cy="48.72" rx="1.9" ry="0.7" fill="#72cc4c" opacity="0.85" transform="rotate(36 73.58 48.72)"/>
<ellipse cx="50.43" cy="65.99" rx="1.5" ry="0.8" fill="#66c440" opacity="0.7" transform="rotate(23 50.43 65.99)"/>
<ellipse cx="26.6" cy="22.21" rx="2.5" ry="0.8" fill="#aae886" opacity="1" transform="rotate(13 26.6 22.21)"/>
<ellipse cx="1.73" cy="46.69" rx="1.5" ry="0.8" fill="#72cc4c" opacity="1" transform="rotate(40 1.73 46.69)"/>
<ellipse cx="18.51" cy="45.54" rx="1.2" ry="0.6" fill="#66c440" opacity="0.85" transform="rotate(159 18.51 45.54)"/>
<ellipse cx="77.81" cy="16.09" rx="2.5" ry="0.7" fill="#66c440" opacity="0.7" transform="rotate(108 77.81 16.09)"/>
<ellipse cx="6.03" cy="76.24" rx="1.9" ry="0.7" fill="#72cc4c" opacity="0.7" transform="rotate(104 6.03 76.24)"/>
<ellipse cx="22.04" cy="85.36" rx="1" ry="0.6" fill="#66c440" opacity="1" transform="rotate(162 22.04 85.36)"/>
<ellipse cx="60.73" cy="59.36" rx="1.2" ry="0.8" fill="#66c440" opacity="0.55" transform="rotate(79 60.73 59.36)"/>
<ellipse cx="1.82" cy="107.78" rx="1.2" ry="0.8" fill="#aae886" opacity="0.55" transform="rotate(54 1.82 107.78)"/>
<ellipse cx="57.09" cy="92.2" rx="1" ry="0.7" fill="#98e072" opacity="1" transform="rotate(57 57.09 92.2)"/>
<ellipse cx="72.8" cy="33.08" rx="1" ry="0.8" fill="#72cc4c" opacity="0.7" transform="rotate(90 72.8 33.08)"/>
<ellipse cx="46.8" cy="89.28" rx="1" ry="0.7" fill="#66c440" opacity="0.7" transform="rotate(76 46.8 89.28)"/>
<ellipse cx="32.1" cy="23.21" rx="1.5" ry="0.7" fill="#84d65e" opacity="0.55" transform="rotate(6 32.1 23.21)"/>
<ellipse cx="82.24" cy="65.38" rx="1" ry="0.7" fill="#66c440" opacity="1" transform="rotate(139 82.24 65.38)"/>
<ellipse cx="43" cy="8.03" rx="1" ry="0.6" fill="#72cc4c" opacity="0.55" transform="rotate(171 43 8.03)"/>
<ellipse cx="89.2" cy="24.75" rx="0.8" ry="0.7" fill="#84d65e" opacity="0.7" transform="rotate(69 89.2 24.75)"/>
<ellipse cx="39.95" cy="48.56" rx="0.8" ry="0.7" fill="#98e072" opacity="0.85" transform="rotate(178 39.95 48.56)"/>
<ellipse cx="104.55" cy="6.74" rx="2.5" ry="0.6" fill="#98e072" opacity="0.55" transform="rotate(159 104.55 6.74)"/>
<ellipse cx="98.67" cy="74.09" rx="0.8" ry="0.7" fill="#98e072" opacity="0.85" transform="rotate(167 98.67 74.09)"/>
<ellipse cx="6.5" cy="26.83" rx="1.5" ry="0.6" fill="#66c440" opacity="1" transform="rotate(42 6.5 26.83)"/>
<ellipse cx="7.27" cy="59.77" rx="1.9" ry="0.7" fill="#72cc4c" opacity="1" transform="rotate(110 7.27 59.77)"/>
<ellipse cx="17.37" cy="59.59" rx="0.8" ry="0.6" fill="#84d65e" opacity="0.55" transform="rotate(67 17.37 59.59)"/>
<ellipse cx="57.32" cy="30.39" rx="2.5" ry="0.7" fill="#66c440" opacity="0.7" transform="rotate(60 57.32 30.39)"/>
<ellipse cx="105.78" cy="73.31" rx="0.8" ry="0.6" fill="#72cc4c" opacity="0.55" transform="rotate(165 105.78 73.31)"/>
<ellipse cx="44.71" cy="42.79" rx="1" ry="0.7" fill="#84d65e" opacity="0.85" transform="rotate(27 44.71 42.79)"/>
<ellipse cx="57.55" cy="58.18" rx="1" ry="0.7" fill="#98e072" opacity="1" transform="rotate(40 57.55 58.18)"/>
<ellipse cx="107.28" cy="82.64" rx="1.5" ry="0.8" fill="#98e072" opacity="1" transform="rotate(47 107.28 82.64)"/>
<ellipse cx="83.11" cy="77.55" rx="0.8" ry="0.7" fill="#98e072" opacity="0.7" transform="rotate(5 83.11 77.55)"/>
<ellipse cx="12.46" cy="64.21" rx="1.5" ry="0.8" fill="#98e072" opacity="0.55" transform="rotate(159 12.46 64.21)"/>
<ellipse cx="76.63" cy="98.53" rx="1.9" ry="0.6" fill="#72cc4c" opacity="0.7" transform="rotate(4 76.63 98.53)"/>
<ellipse cx="90.93" cy="17.87" rx="1.2" ry="0.6" fill="#84d65e" opacity="1" transform="rotate(90 90.93 17.87)"/>
<ellipse cx="66.26" cy="27.45" rx="1.5" ry="0.7" fill="#66c440" opacity="0.7" transform="rotate(1 66.26 27.45)"/>
<ellipse cx="6.91" cy="76.11" rx="2.5" ry="0.6" fill="#72cc4c" opacity="0.55" transform="rotate(164 6.91 76.11)"/>
<ellipse cx="98.86" cy="100.74" rx="2.5" ry="0.7" fill="#72cc4c" opacity="0.7" transform="rotate(149 98.86 100.74)"/>
<ellipse cx="64.41" cy="28.89" rx="1.9" ry="0.6" fill="#66c440" opacity="0.55" transform="rotate(130 64.41 28.89)"/>
<ellipse cx="69.84" cy="66.47" rx="1.2" ry="0.7" fill="#66c440" opacity="1" transform="rotate(139 69.84 66.47)"/>
<ellipse cx="56.16" cy="8.68" rx="1.2" ry="0.7" fill="#84d65e" opacity="1" transform="rotate(94 56.16 8.68)"/>
<ellipse cx="98.7" cy="74.31" rx="1.5" ry="0.7" fill="#84d65e" opacity="0.85" transform="rotate(13 98.7 74.31)"/>
<ellipse cx="106.53" cy="49.18" rx="2.5" ry="0.6" fill="#72cc4c" opacity="0.55" transform="rotate(101 106.53 49.18)"/>
<ellipse cx="24.45" cy="17.03" rx="1.9" ry="0.6" fill="#66c440" opacity="1" transform="rotate(53 24.45 17.03)"/>
<ellipse cx="32.87" cy="23.21" rx="0.8" ry="0.8" fill="#84d65e" opacity="0.7" transform="rotate(16 32.87 23.21)"/>
<ellipse cx="60.56" cy="68.37" rx="1" ry="0.8" fill="#84d65e" opacity="0.7" transform="rotate(178 60.56 68.37)"/>
<ellipse cx="7.42" cy="48.09" rx="2.5" ry="0.7" fill="#aae886" opacity="0.55" transform="rotate(32 7.42 48.09)"/>
<ellipse cx="92.35" cy="18.01" rx="1.9" ry="0.8" fill="#84d65e" opacity="0.7" transform="rotate(111 92.35 18.01)"/>
<ellipse cx="76.7" cy="46.92" rx="1.2" ry="0.8" fill="#72cc4c" opacity="1" transform="rotate(44 76.7 46.92)"/>
<ellipse cx="31.34" cy="77.71" rx="1" ry="0.6" fill="#72cc4c" opacity="0.55" transform="rotate(117 31.34 77.71)"/>
<ellipse cx="17.43" cy="107.66" rx="1.5" ry="0.7" fill="#84d65e" opacity="0.55" transform="rotate(18 17.43 107.66)"/>
<ellipse cx="76.52" cy="62.79" rx="1" ry="0.7" fill="#72cc4c" opacity="0.85" transform="rotate(127 76.52 62.79)"/>
<ellipse cx="14.8" cy="77.38" rx="1.2" ry="0.7" fill="#aae886" opacity="0.55" transform="rotate(125 14.8 77.38)"/>
<ellipse cx="99.51" cy="76.71" rx="1.2" ry="0.6" fill="#aae886" opacity="1" transform="rotate(25 99.51 76.71)"/>
<ellipse cx="3.55" cy="40.09" rx="0.8" ry="0.6" fill="#66c440" opacity="0.7" transform="rotate(134 3.55 40.09)"/>
<ellipse cx="19.53" cy="47.01" rx="1.5" ry="0.6" fill="#aae886" opacity="1" transform="rotate(172 19.53 47.01)"/>
<ellipse cx="60.25" cy="88.56" rx="0.8" ry="0.7" fill="#72cc4c" opacity="1" transform="rotate(67 60.25 88.56)"/>
<ellipse cx="98.6" cy="44.12" rx="1" ry="0.8" fill="#aae886" opacity="0.55" transform="rotate(43 98.6 44.12)"/>
<ellipse cx="48.41" cy="58.63" rx="2.5" ry="0.6" fill="#66c440" opacity="0.55" transform="rotate(130 48.41 58.63)"/>
<ellipse cx="78.47" cy="4.36" rx="1.2" ry="0.7" fill="#72cc4c" opacity="0.55" transform="rotate(8 78.47 4.36)"/>
<ellipse cx="21.81" cy="98.23" rx="1.5" ry="0.6" fill="#66c440" opacity="1" transform="rotate(110 21.81 98.23)"/>
<ellipse cx="43.38" cy="43.12" rx="1" ry="0.8" fill="#98e072" opacity="1" transform="rotate(119 43.38 43.12)"/>
<ellipse cx="5.65" cy="75.96" rx="1.9" ry="0.7" fill="#66c440" opacity="1" transform="rotate(130 5.65 75.96)"/>
<ellipse cx="15.57" cy="103.64" rx="1.9" ry="0.8" fill="#84d65e" opacity="1" transform="rotate(174 15.57 103.64)"/>
<ellipse cx="101.16" cy="56.06" rx="1.5" ry="0.8" fill="#98e072" opacity="0.7" transform="rotate(10 101.16 56.06)"/>
<ellipse cx="78.56" cy="4.42" rx="1" ry="0.7" fill="#84d65e" opacity="1" transform="rotate(100 78.56 4.42)"/>
<ellipse cx="45.65" cy="5.94" rx="1.9" ry="0.6" fill="#98e072" opacity="0.7" transform="rotate(144 45.65 5.94)"/>
<ellipse cx="86.03" cy="78.21" rx="1.2" ry="0.6" fill="#98e072" opacity="1" transform="rotate(101 86.03 78.21)"/>
<ellipse cx="72.44" cy="54.11" rx="1.5" ry="0.6" fill="#66c440" opacity="0.55" transform="rotate(44 72.44 54.11)"/>
<ellipse cx="8.5" cy="57.62" rx="0.8" ry="0.8" fill="#aae886" opacity="0.55" transform="rotate(101 8.5 57.62)"/>
<ellipse cx="68.05" cy="78.13" rx="1.2" ry="0.6" fill="#66c440" opacity="1" transform="rotate(121 68.05 78.13)"/>
<ellipse cx="69.27" cy="20.18" rx="1.9" ry="0.8" fill="#66c440" opacity="0.55" transform="rotate(43 69.27 20.18)"/>
<ellipse cx="78.38" cy="56.07" rx="1" ry="0.7" fill="#aae886" opacity="0.85" transform="rotate(111 78.38 56.07)"/>
<ellipse cx="83.66" cy="2.19" rx="2.5" ry="0.8" fill="#72cc4c" opacity="0.7" transform="rotate(82 83.66 2.19)"/>
<ellipse cx="3.67" cy="83.55" rx="1.9" ry="0.8" fill="#66c440" opacity="0.55" transform="rotate(100 3.67 83.55)"/>
<ellipse cx="15.11" cy="36.66" rx="1.5" ry="0.7" fill="#98e072" opacity="0.55" transform="rotate(3 15.11 36.66)"/>
<ellipse cx="5.29" cy="36.46" rx="0.8" ry="0.6" fill="#84d65e" opacity="0.85" transform="rotate(152 5.29 36.46)"/>
<ellipse cx="67.43" cy="72.25" rx="1.9" ry="0.7" fill="#66c440" opacity="1" transform="rotate(31 67.43 72.25)"/>
<ellipse cx="77.61" cy="51.19" rx="1.2" ry="0.8" fill="#84d65e" opacity="0.85" transform="rotate(172 77.61 51.19)"/>
<ellipse cx="96.03" cy="82.87" rx="1.9" ry="0.6" fill="#98e072" opacity="0.85" transform="rotate(157 96.03 82.87)"/>
<ellipse cx="14.13" cy="17.95" rx="1.5" ry="0.7" fill="#98e072" opacity="1" transform="rotate(52 14.13 17.95)"/>
<ellipse cx="54.42" cy="12.52" rx="0.8" ry="0.7" fill="#98e072" opacity="1" transform="rotate(54 54.42 12.52)"/>
<ellipse cx="51.81" cy="74.26" rx="1.9" ry="0.7" fill="#84d65e" opacity="0.7" transform="rotate(12 51.81 74.26)"/>
<ellipse cx="65.62" cy="74.94" rx="1.5" ry="0.6" fill="#66c440" opacity="0.7" transform="rotate(54 65.62 74.94)"/>
<ellipse cx="36.51" cy="86.42" rx="1.5" ry="0.6" fill="#98e072" opacity="1" transform="rotate(133 36.51 86.42)"/>
<ellipse cx="74.29" cy="46.45" rx="1.2" ry="0.8" fill="#98e072" opacity="1" transform="rotate(29 74.29 46.45)"/>
<ellipse cx="33.37" cy="78.51" rx="1.2" ry="0.6" fill="#98e072" opacity="0.55" transform="rotate(4 33.37 78.51)"/>
<ellipse cx="24.9" cy="39.45" rx="1.9" ry="0.8" fill="#84d65e" opacity="0.85" transform="rotate(149 24.9 39.45)"/>
<ellipse cx="3.03" cy="99.07" rx="0.8" ry="0.8" fill="#98e072" opacity="0.7" transform="rotate(46 3.03 99.07)"/>
<ellipse cx="12.62" cy="94.67" rx="1.9" ry="0.7" fill="#aae886" opacity="0.55" transform="rotate(53 12.62 94.67)"/>
<ellipse cx="31.69" cy="25.72" rx="1" ry="0.6" fill="#98e072" opacity="0.55" transform="rotate(86 31.69 25.72)"/>
<ellipse cx="13.97" cy="24.75" rx="1.2" ry="0.7" fill="#98e072" opacity="0.7" transform="rotate(174 13.97 24.75)"/>
<ellipse cx="64.58" cy="35.48" rx="1.5" ry="0.7" fill="#aae886" opacity="1" transform="rotate(58 64.58 35.48)"/>
<ellipse cx="43.95" cy="40.54" rx="1.2" ry="0.8" fill="#aae886" opacity="1" transform="rotate(32 43.95 40.54)"/>
<ellipse cx="59.66" cy="58.1" rx="2.5" ry="0.8" fill="#72cc4c" opacity="0.55" transform="rotate(11 59.66 58.1)"/>
<ellipse cx="39.38" cy="63.24" rx="1" ry="0.6" fill="#aae886" opacity="0.7" transform="rotate(92 39.38 63.24)"/>
<ellipse cx="88.06" cy="93.14" rx="0.8" ry="0.8" fill="#aae886" opacity="1" transform="rotate(129 88.06 93.14)"/>
<ellipse cx="53.6" cy="56.88" rx="1.2" ry="0.7" fill="#84d65e" opacity="1" transform="rotate(101 53.6 56.88)"/>
<ellipse cx="40.54" cy="21.8" rx="1" ry="0.7" fill="#72cc4c" opacity="0.85" transform="rotate(150 40.54 21.8)"/>
<ellipse cx="93.99" cy="83.57" rx="0.8" ry="0.6" fill="#72cc4c" opacity="0.7" transform="rotate(7 93.99 83.57)"/>
<ellipse cx="98.18" cy="93.34" rx="1" ry="0.8" fill="#aae886" opacity="1" transform="rotate(86 98.18 93.34)"/>
<ellipse cx="46.58" cy="105.99" rx="1" ry="0.6" fill="#84d65e" opacity="0.55" transform="rotate(170 46.58 105.99)"/>
<ellipse cx="3.23" cy="45.64" rx="2.5" ry="0.6" fill="#84d65e" opacity="0.85" transform="rotate(36 3.23 45.64)"/>
<ellipse cx="59.18" cy="47.48" rx="1.9" ry="0.7" fill="#aae886" opacity="0.55" transform="rotate(76 59.18 47.48)"/>
<ellipse cx="100.97" cy="8.25" rx="1" ry="0.6" fill="#66c440" opacity="1" transform="rotate(56 100.97 8.25)"/>
<ellipse cx="9.28" cy="5.42" rx="1" ry="0.7" fill="#98e072" opacity="1" transform="rotate(115 9.28 5.42)"/>
<ellipse cx="65.65" cy="94.46" rx="1.2" ry="0.7" fill="#98e072" opacity="1" transform="rotate(74 65.65 94.46)"/>
<ellipse cx="35.83" cy="68.8" rx="1.5" ry="0.8" fill="#72cc4c" opacity="0.85" transform="rotate(88 35.83 68.8)"/>
<ellipse cx="46.99" cy="102.4" rx="0.8" ry="0.7" fill="#66c440" opacity="1" transform="rotate(116 46.99 102.4)"/>
<ellipse cx="96.17" cy="61.88" rx="1.2" ry="0.7" fill="#66c440" opacity="0.55" transform="rotate(127 96.17 61.88)"/>
<ellipse cx="46.73" cy="60.2" rx="2.5" ry="0.6" fill="#66c440" opacity="0.55" transform="rotate(43 46.73 60.2)"/>
<ellipse cx="48.33" cy="15.14" rx="0.8" ry="0.6" fill="#84d65e" opacity="0.7" transform="rotate(37 48.33 15.14)"/>
<ellipse cx="55.38" cy="32.92" rx="1.9" ry="0.8" fill="#aae886" opacity="1" transform="rotate(132 55.38 32.92)"/>
<ellipse cx="12.07" cy="42.93" rx="1.5" ry="0.7" fill="#66c440" opacity="1" transform="rotate(164 12.07 42.93)"/>
<ellipse cx="21.11" cy="21.1" rx="1.9" ry="0.8" fill="#84d65e" opacity="0.55" transform="rotate(166 21.11 21.1)"/>
<ellipse cx="30.26" cy="18.94" rx="1.5" ry="0.7" fill="#98e072" opacity="0.7" transform="rotate(114 30.26 18.94)"/>
<ellipse cx="31.65" cy="25.48" rx="0.8" ry="0.6" fill="#66c440" opacity="0.7" transform="rotate(68 31.65 25.48)"/>
<ellipse cx="51.33" cy="102.42" rx="0.8" ry="0.8" fill="#72cc4c" opacity="0.55" transform="rotate(8 51.33 102.42)"/>
<ellipse cx="98.4" cy="11.99" rx="1.2" ry="0.7" fill="#66c440" opacity="1" transform="rotate(126 98.4 11.99)"/>
<ellipse cx="4.23" cy="64.23" rx="1" ry="0.7" fill="#72cc4c" opacity="1" transform="rotate(93 4.23 64.23)"/>
<ellipse cx="38.65" cy="50.86" rx="1" ry="0.7" fill="#66c440" opacity="0.7" transform="rotate(39 38.65 50.86)"/>
<ellipse cx="91.85" cy="17.45" rx="1.2" ry="0.6" fill="#84d65e" opacity="0.85" transform="rotate(26 91.85 17.45)"/>
<ellipse cx="75.51" cy="96.46" rx="1.2" ry="0.8" fill="#84d65e" opacity="0.85" transform="rotate(80 75.51 96.46)"/>
<ellipse cx="23.7" cy="63.41" rx="1.5" ry="0.6" fill="#66c440" opacity="0.85" transform="rotate(90 23.7 63.41)"/>
<ellipse cx="91.52" cy="107.12" rx="1.2" ry="0.6" fill="#84d65e" opacity="0.55" transform="rotate(127 91.52 107.12)"/>
<ellipse cx="13.68" cy="78.64" rx="1" ry="0.7" fill="#aae886" opacity="0.7" transform="rotate(31 13.68 78.64)"/>
<ellipse cx="63.04" cy="77.11" rx="1.9" ry="0.8" fill="#84d65e" opacity="0.55" transform="rotate(134 63.04 77.11)"/>
<ellipse cx="45.25" cy="74.61" rx="1.5" ry="0.7" fill="#98e072" opacity="0.85" transform="rotate(130 45.25 74.61)"/>
<ellipse cx="72.8" cy="7.93" rx="1.2" ry="0.8" fill="#72cc4c" opacity="0.55" transform="rotate(114 72.8 7.93)"/>
<ellipse cx="72.19" cy="70.48" rx="1" ry="0.7" fill="#72cc4c" opacity="0.7" transform="rotate(57 72.19 70.48)"/>
<ellipse cx="81.7" cy="34.99" rx="1.5" ry="0.8" fill="#aae886" opacity="0.55" transform="rotate(95 81.7 34.99)"/>
<ellipse cx="43.28" cy="41.3" rx="1.9" ry="0.6" fill="#84d65e" opacity="1" transform="rotate(158 43.28 41.3)"/>
<ellipse cx="14.22" cy="106.78" rx="0.8" ry="0.6" fill="#84d65e" opacity="0.55" transform="rotate(125 14.22 106.78)"/>
<ellipse cx="103.61" cy="50.16" rx="1.2" ry="0.6" fill="#66c440" opacity="0.55" transform="rotate(76 103.61 50.16)"/>
<ellipse cx="107.56" cy="37.89" rx="1.9" ry="0.7" fill="#84d65e" opacity="0.85" transform="rotate(7 107.56 37.89)"/>
<ellipse cx="87.79" cy="30.31" rx="1.9" ry="0.8" fill="#98e072" opacity="1" transform="rotate(150 87.79 30.31)"/>
<ellipse cx="15.2" cy="96.19" rx="1.2" ry="0.8" fill="#98e072" opacity="1" transform="rotate(160 15.2 96.19)"/>
<ellipse cx="34.97" cy="49.08" rx="0.8" ry="0.6" fill="#98e072" opacity="0.85" transform="rotate(17 34.97 49.08)"/>
<ellipse cx="4.55" cy="63.09" rx="1.9" ry="0.8" fill="#72cc4c" opacity="0.55" transform="rotate(37 4.55 63.09)"/>
<ellipse cx="6.9" cy="28.04" rx="1" ry="0.7" fill="#66c440" opacity="0.55" transform="rotate(155 6.9 28.04)"/>
<ellipse cx="76.27" cy="107.5" rx="1.9" ry="0.6" fill="#aae886" opacity="0.85" transform="rotate(69 76.27 107.5)"/>
<ellipse cx="18.73" cy="6.65" rx="2.5" ry="0.6" fill="#84d65e" opacity="1" transform="rotate(178 18.73 6.65)"/>
<ellipse cx="102.4" cy="6.67" rx="0.8" ry="0.6" fill="#98e072" opacity="0.85" transform="rotate(19 102.4 6.67)"/>
<ellipse cx="41" cy="53.07" rx="2.5" ry="0.8" fill="#72cc4c" opacity="0.7" transform="rotate(26 41 53.07)"/>
<ellipse cx="58.54" cy="11.86" rx="1.5" ry="0.8" fill="#72cc4c" opacity="0.55" transform="rotate(19 58.54 11.86)"/>
<ellipse cx="58.5" cy="98.65" rx="2.5" ry="0.8" fill="#98e072" opacity="0.55" transform="rotate(87 58.5 98.65)"/>
<ellipse cx="28.42" cy="52.78" rx="1" ry="0.7" fill="#72cc4c" opacity="0.55" transform="rotate(127 28.42 52.78)"/>
<ellipse cx="50.3" cy="35.29" rx="1" ry="0.6" fill="#66c440" opacity="0.85" transform="rotate(178 50.3 35.29)"/>
<ellipse cx="100.86" cy="14.91" rx="0.8" ry="0.7" fill="#84d65e" opacity="0.7" transform="rotate(91 100.86 14.91)"/>
<ellipse cx="59.42" cy="91.32" rx="1.5" ry="0.7" fill="#72cc4c" opacity="1" transform="rotate(53 59.42 91.32)"/>
<ellipse cx="90" cy="16.31" rx="1" ry="0.8" fill="#66c440" opacity="1" transform="rotate(46 90 16.31)"/>
<ellipse cx="58.53" cy="51.79" rx="1" ry="0.7" fill="#98e072" opacity="0.7" transform="rotate(38 58.53 51.79)"/>
<ellipse cx="87.91" cy="13.53" rx="1.5" ry="0.7" fill="#66c440" opacity="0.7" transform="rotate(178 87.91 13.53)"/>
<ellipse cx="26.49" cy="29.27" rx="1" ry="0.6" fill="#66c440" opacity="1" transform="rotate(8 26.49 29.27)"/>
<ellipse cx="73.27" cy="89.99" rx="2.5" ry="0.8" fill="#aae886" opacity="0.7" transform="rotate(81 73.27 89.99)"/>
<ellipse cx="28.43" cy="88.54" rx="1.2" ry="0.7" fill="#84d65e" opacity="0.55" transform="rotate(25 28.43 88.54)"/>
<ellipse cx="20.08" cy="16.69" rx="2.5" ry="0.7" fill="#66c440" opacity="1" transform="rotate(109 20.08 16.69)"/>
<ellipse cx="41.54" cy="86.49" rx="0.8" ry="0.7" fill="#aae886" opacity="0.85" transform="rotate(159 41.54 86.49)"/>
<ellipse cx="15.2" cy="63.76" rx="1.9" ry="0.7" fill="#aae886" opacity="0.55" transform="rotate(56 15.2 63.76)"/>
<ellipse cx="32.15" cy="84.33" rx="1.9" ry="0.7" fill="#84d65e" opacity="0.7" transform="rotate(78 32.15 84.33)"/>
<ellipse cx="65.26" cy="67.83" rx="2.5" ry="0.6" fill="#98e072" opacity="0.7" transform="rotate(11 65.26 67.83)"/>
<ellipse cx="19.65" cy="83.73" rx="1.9" ry="0.7" fill="#72cc4c" opacity="0.85" transform="rotate(8 19.65 83.73)"/>
<ellipse cx="42.25" cy="95.26" rx="1.9" ry="0.6" fill="#72cc4c" opacity="1" transform="rotate(71 42.25 95.26)"/>
<ellipse cx="94.1" cy="13.64" rx="2.5" ry="0.7" fill="#66c440" opacity="1" transform="rotate(15 94.1 13.64)"/>
<ellipse cx="43.68" cy="64.28" rx="0.8" ry="0.6" fill="#84d65e" opacity="0.85" transform="rotate(77 43.68 64.28)"/>
<ellipse cx="24.92" cy="64.1" rx="1.2" ry="0.6" fill="#66c440" opacity="0.7" transform="rotate(38 24.92 64.1)"/>
<ellipse cx="41.64" cy="72.37" rx="1.5" ry="0.7" fill="#72cc4c" opacity="0.85" transform="rotate(152 41.64 72.37)"/>
<ellipse cx="49.32" cy="94.24" rx="0.8" ry="0.8" fill="#84d65e" opacity="0.55" transform="rotate(108 49.32 94.24)"/>
<ellipse cx="73.56" cy="93.54" rx="1.9" ry="0.7" fill="#84d65e" opacity="0.55" transform="rotate(177 73.56 93.54)"/>
<ellipse cx="78.61" cy="37.15" rx="1.2" ry="0.7" fill="#66c440" opacity="0.85" transform="rotate(144 78.61 37.15)"/>
<ellipse cx="84.07" cy="49.43" rx="0.8" ry="0.7" fill="#66c440" opacity="0.7" transform="rotate(67 84.07 49.43)"/>
<ellipse cx="35.99" cy="38.06" rx="1.5" ry="0.7" fill="#66c440" opacity="0.55" transform="rotate(91 35.99 38.06)"/>
<ellipse cx="37.12" cy="24.76" rx="1.2" ry="0.7" fill="#aae886" opacity="0.55" transform="rotate(28 37.12 24.76)"/>
<ellipse cx="17.84" cy="75.64" rx="1.9" ry="0.8" fill="#72cc4c" opacity="0.7" transform="rotate(90 17.84 75.64)"/>
<ellipse cx="81" cy="74.34" rx="1.9" ry="0.8" fill="#aae886" opacity="0.55" transform="rotate(90 81 74.34)"/>
<ellipse cx="71.76" cy="29.91" rx="2.5" ry="0.7" fill="#72cc4c" opacity="1" transform="rotate(167 71.76 29.91)"/>
<ellipse cx="89.62" cy="10.12" rx="1.9" ry="0.8" fill="#aae886" opacity="0.7" transform="rotate(72 89.62 10.12)"/>
<ellipse cx="56.68" cy="41.22" rx="1" ry="0.6" fill="#aae886" opacity="0.55" transform="rotate(100 56.68 41.22)"/>
<ellipse cx="28.24" cy="103.86" rx="1" ry="0.8" fill="#72cc4c" opacity="0.55" transform="rotate(66 28.24 103.86)"/>
<ellipse cx="32.71" cy="60.46" rx="1.5" ry="0.8" fill="#aae886" opacity="1" transform="rotate(21 32.71 60.46)"/>
<ellipse cx="77.59" cy="21.72" rx="1.9" ry="0.6" fill="#84d65e" opacity="0.85" transform="rotate(20 77.59 21.72)"/>
<ellipse cx="60.45" cy="30.17" rx="1.5" ry="0.8" fill="#98e072" opacity="0.7" transform="rotate(160 60.45 30.17)"/>
<ellipse cx="53.06" cy="88.17" rx="1.9" ry="0.8" fill="#98e072" opacity="0.7" transform="rotate(149 53.06 88.17)"/>
<ellipse cx="86.05" cy="44.39" rx="1.2" ry="0.7" fill="#aae886" opacity="0.55" transform="rotate(63 86.05 44.39)"/>
<ellipse cx="53.2" cy="23.71" rx="1" ry="0.6" fill="#72cc4c" opacity="1" transform="rotate(16 53.2 23.71)"/>
<ellipse cx="40.57" cy="17.39" rx="1.2" ry="0.7" fill="#84d65e" opacity="0.7" transform="rotate(49 40.57 17.39)"/>
<ellipse cx="1.54" cy="59.39" rx="1.9" ry="0.6" fill="#84d65e" opacity="0.7" transform="rotate(59 1.54 59.39)"/>
<ellipse cx="33.49" cy="12.58" rx="1" ry="0.8" fill="#72cc4c" opacity="0.85" transform="rotate(0 33.49 12.58)"/>
<ellipse cx="44.26" cy="72.42" rx="1.2" ry="0.6" fill="#aae886" opacity="1" transform="rotate(86 44.26 72.42)"/>
<ellipse cx="71.91" cy="97.24" rx="2.5" ry="0.7" fill="#98e072" opacity="1" transform="rotate(146 71.91 97.24)"/>
<ellipse cx="3.68" cy="87.2" rx="1.2" ry="0.7" fill="#aae886" opacity="0.7" transform="rotate(60 3.68 87.2)"/>
<ellipse cx="97.93" cy="1.82" rx="1" ry="0.6" fill="#84d65e" opacity="0.85" transform="rotate(125 97.93 1.82)"/>
<ellipse cx="35.27" cy="35.48" rx="1.5" ry="0.8" fill="#98e072" opacity="0.7" transform="rotate(147 35.27 35.48)"/>
<ellipse cx="92.42" cy="7.22" rx="1.5" ry="0.7" fill="#84d65e" opacity="1" transform="rotate(9 92.42 7.22)"/>
<ellipse cx="101.15" cy="27.32" rx="0.8" ry="0.6" fill="#72cc4c" opacity="0.7" transform="rotate(125 101.15 27.32)"/>
<ellipse cx="20.45" cy="58.71" rx="1.5" ry="0.6" fill="#aae886" opacity="0.55" transform="rotate(40 20.45 58.71)"/>
<ellipse cx="61.86" cy="78.75" rx="1.9" ry="0.8" fill="#72cc4c" opacity="0.55" transform="rotate(79 61.86 78.75)"/>
<ellipse cx="91.15" cy="104.23" rx="1" ry="0.8" fill="#72cc4c" opacity="0.55" transform="rotate(98 91.15 104.23)"/>
<ellipse cx="26.84" cy="32.18" rx="0.8" ry="0.8" fill="#66c440" opacity="1" transform="rotate(53 26.84 32.18)"/>
<ellipse cx="63.86" cy="21.96" rx="1.5" ry="0.6" fill="#66c440" opacity="0.85" transform="rotate(103 63.86 21.96)"/>
<ellipse cx="58.1" cy="45.12" rx="1.5" ry="0.6" fill="#98e072" opacity="0.55" transform="rotate(90 58.1 45.12)"/>
<ellipse cx="63.97" cy="53.79" rx="1.5" ry="0.8" fill="#84d65e" opacity="0.7" transform="rotate(157 63.97 53.79)"/>
<ellipse cx="71.21" cy="90.73" rx="1.5" ry="0.8" fill="#66c440" opacity="1" transform="rotate(136 71.21 90.73)"/>
<ellipse cx="106.19" cy="75.91" rx="1" ry="0.7" fill="#84d65e" opacity="0.85" transform="rotate(139 106.19 75.91)"/>
<ellipse cx="28.69" cy="1.68" rx="2.5" ry="0.8" fill="#98e072" opacity="0.85" transform="rotate(36 28.69 1.68)"/>
<ellipse cx="104.13" cy="84.72" rx="1.2" ry="0.7" fill="#aae886" opacity="0.55" transform="rotate(75 104.13 84.72)"/>
<ellipse cx="47.12" cy="85.24" rx="0.8" ry="0.8" fill="#98e072" opacity="0.7" transform="rotate(147 47.12 85.24)"/>
<ellipse cx="87.76" cy="80.8" rx="0.8" ry="0.8" fill="#98e072" opacity="0.7" transform="rotate(76 87.76 80.8)"/>
<ellipse cx="5.72" cy="85.07" rx="1" ry="0.8" fill="#72cc4c" opacity="1" transform="rotate(177 5.72 85.07)"/>
<ellipse cx="96.87" cy="49.43" rx="1.9" ry="0.8" fill="#84d65e" opacity="0.7" transform="rotate(169 96.87 49.43)"/>
<ellipse cx="6.61" cy="69.84" rx="1" ry="0.8" fill="#aae886" opacity="1" transform="rotate(59 6.61 69.84)"/>
<ellipse cx="29.1" cy="21.78" rx="1.5" ry="0.7" fill="#84d65e" opacity="0.55" transform="rotate(18 29.1 21.78)"/>
<ellipse cx="20.4" cy="14.33" rx="2.5" ry="0.6" fill="#84d65e" opacity="0.85" transform="rotate(63 20.4 14.33)"/>
<ellipse cx="66.02" cy="40.11" rx="0.8" ry="0.7" fill="#72cc4c" opacity="0.55" transform="rotate(153 66.02 40.11)"/>
<ellipse cx="4.49" cy="73.69" rx="1" ry="0.7" fill="#72cc4c" opacity="1" transform="rotate(147 4.49 73.69)"/>
<ellipse cx="28.87" cy="29.25" rx="1.5" ry="0.7" fill="#98e072" opacity="0.85" transform="rotate(85 28.87 29.25)"/>
<ellipse cx="75.37" cy="107.21" rx="1.5" ry="0.6" fill="#72cc4c" opacity="1" transform="rotate(168 75.37 107.21)"/>
<ellipse cx="80.45" cy="71.93" rx="2.5" ry="0.7" fill="#66c440" opacity="0.7" transform="rotate(6 80.45 71.93)"/>
<ellipse cx="73.92" cy="53.72" rx="1.2" ry="0.7" fill="#98e072" opacity="1" transform="rotate(166 73.92 53.72)"/>
<ellipse cx="74.58" cy="59.54" rx="1.2" ry="0.8" fill="#72cc4c" opacity="0.7" transform="rotate(59 74.58 59.54)"/>
<ellipse cx="98.87" cy="76" rx="1.9" ry="0.8" fill="#aae886" opacity="0.7" transform="rotate(94 98.87 76)"/>
<ellipse cx="18.83" cy="55.72" rx="1.2" ry="0.8" fill="#98e072" opacity="0.85" transform="rotate(79 18.83 55.72)"/>
<ellipse cx="43.99" cy="56.48" rx="2.5" ry="0.6" fill="#66c440" opacity="1" transform="rotate(28 43.99 56.48)"/>
<ellipse cx="43.97" cy="106.13" rx="2.5" ry="0.6" fill="#98e072" opacity="0.85" transform="rotate(53 43.97 106.13)"/>
<ellipse cx="76.06" cy="9.98" rx="0.8" ry="0.7" fill="#72cc4c" opacity="0.85" transform="rotate(54 76.06 9.98)"/>
<ellipse cx="100.86" cy="18.88" rx="1.9" ry="0.6" fill="#aae886" opacity="0.7" transform="rotate(56 100.86 18.88)"/>
<ellipse cx="22.63" cy="12.38" rx="1" ry="0.7" fill="#aae886" opacity="0.85" transform="rotate(122 22.63 12.38)"/>
<ellipse cx="53.22" cy="29.02" rx="1.2" ry="0.8" fill="#aae886" opacity="0.7" transform="rotate(43 53.22 29.02)"/>
<ellipse cx="101.81" cy="24.76" rx="0.8" ry="0.8" fill="#66c440" opacity="1" transform="rotate(96 101.81 24.76)"/>
<ellipse cx="65.44" cy="4.95" rx="1.5" ry="0.8" fill="#66c440" opacity="0.7" transform="rotate(77 65.44 4.95)"/>
<ellipse cx="104.79" cy="67.1" rx="1.5" ry="0.8" fill="#66c440" opacity="0.85" transform="rotate(121 104.79 67.1)"/>
<ellipse cx="104.35" cy="64.23" rx="2.5" ry="0.6" fill="#aae886" opacity="0.55" transform="rotate(70 104.35 64.23)"/>
<ellipse cx="61.66" cy="50.54" rx="1.5" ry="0.8" fill="#98e072" opacity="0.7" transform="rotate(104 61.66 50.54)"/>
<ellipse cx="101.34" cy="24.91" rx="0.8" ry="0.6" fill="#aae886" opacity="1" transform="rotate(40 101.34 24.91)"/>
<ellipse cx="43.96" cy="98.33" rx="1.9" ry="0.6" fill="#72cc4c" opacity="1" transform="rotate(110 43.96 98.33)"/>
<ellipse cx="103.51" cy="43.23" rx="0.8" ry="0.8" fill="#98e072" opacity="1" transform="rotate(163 103.51 43.23)"/>
<ellipse cx="23.07" cy="2.33" rx="0.8" ry="0.7" fill="#84d65e" opacity="0.85" transform="rotate(98 23.07 2.33)"/>
<ellipse cx="2.96" cy="44.18" rx="1.2" ry="0.6" fill="#aae886" opacity="1" transform="rotate(83 2.96 44.18)"/>
<ellipse cx="18.33" cy="104.8" rx="1.9" ry="0.8" fill="#72cc4c" opacity="0.85" transform="rotate(6 18.33 104.8)"/>
<ellipse cx="37.27" cy="17.7" rx="1.2" ry="0.8" fill="#98e072" opacity="1" transform="rotate(6 37.27 17.7)"/>
<ellipse cx="61.88" cy="76.53" rx="0.8" ry="0.6" fill="#84d65e" opacity="0.85" transform="rotate(31 61.88 76.53)"/>
<ellipse cx="5.47" cy="36.27" rx="0.8" ry="0.7" fill="#98e072" opacity="0.7" transform="rotate(175 5.47 36.27)"/>
<ellipse cx="94.86" cy="14.42" rx="1.5" ry="0.6" fill="#66c440" opacity="0.55" transform="rotate(134 94.86 14.42)"/>
<ellipse cx="77.79" cy="96.94" rx="1.9" ry="0.6" fill="#66c440" opacity="0.7" transform="rotate(15 77.79 96.94)"/>
<ellipse cx="24.2" cy="106.76" rx="1.5" ry="0.8" fill="#72cc4c" opacity="0.85" transform="rotate(103 24.2 106.76)"/>
<ellipse cx="38.82" cy="43.33" rx="1.9" ry="0.7" fill="#84d65e" opacity="0.7" transform="rotate(83 38.82 43.33)"/>
<ellipse cx="72.73" cy="15.19" rx="2.5" ry="0.7" fill="#72cc4c" opacity="0.85" transform="rotate(144 72.73 15.19)"/>
<ellipse cx="57.07" cy="60.47" rx="1.2" ry="0.7" fill="#66c440" opacity="0.7" transform="rotate(78 57.07 60.47)"/>
<ellipse cx="86.32" cy="23.91" rx="0.8" ry="0.7" fill="#72cc4c" opacity="0.85" transform="rotate(146 86.32 23.91)"/>
<ellipse cx="42.94" cy="60.85" rx="1" ry="0.7" fill="#98e072" opacity="1" transform="rotate(82 42.94 60.85)"/>
<ellipse cx="105.72" cy="16.99" rx="0.8" ry="0.8" fill="#aae886" opacity="0.85" transform="rotate(21 105.72 16.99)"/>
<ellipse cx="70.86" cy="50.18" rx="2.5" ry="0.7" fill="#66c440" opacity="0.85" transform="rotate(78 70.86 50.18)"/>
<ellipse cx="51.51" cy="75.62" rx="1.5" ry="0.7" fill="#84d65e" opacity="0.55" transform="rotate(66 51.51 75.62)"/>
<ellipse cx="26.82" cy="76.41" rx="1.5" ry="0.7" fill="#72cc4c" opacity="0.7" transform="rotate(69 26.82 76.41)"/>
<ellipse cx="44.87" cy="93.69" rx="1.2" ry="0.8" fill="#aae886" opacity="0.55" transform="rotate(2 44.87 93.69)"/>
<ellipse cx="86.83" cy="6.83" rx="0.8" ry="0.7" fill="#aae886" opacity="0.85" transform="rotate(129 86.83 6.83)"/>
<ellipse cx="47.14" cy="99.21" rx="1" ry="0.6" fill="#66c440" opacity="1" transform="rotate(52 47.14 99.21)"/>
</g></g>
<g transform="translate(428.8 297.3)">
<rect x="0" y="0" width="109.1" height="109.5" fill="#020202"/>
<g clip-path="url(#cp03)" filter="url(#soft)">
<ellipse cx="12.88" cy="76.33" rx="0.9" ry="0.75" fill="#c8eca8" opacity="0.85" transform="rotate(169 12.88 76.33)"/>
<ellipse cx="79.68" cy="71.62" rx="1" ry="0.65" fill="#c8eca8" opacity="0.55" transform="rotate(123 79.68 71.62)"/>
<ellipse cx="25.28" cy="97.51" rx="1.9" ry="0.75" fill="#a0dc78" opacity="0.7" transform="rotate(46 25.28 97.51)"/>
<ellipse cx="60.22" cy="72.22" rx="0.7" ry="0.75" fill="#b0e28c" opacity="0.85" transform="rotate(117 60.22 72.22)"/>
<ellipse cx="10.36" cy="23.27" rx="1" ry="0.75" fill="#b0e28c" opacity="0.55" transform="rotate(72 10.36 23.27)"/>
<ellipse cx="63.14" cy="69.38" rx="1.9" ry="0.65" fill="#c8eca8" opacity="0.7" transform="rotate(155 63.14 69.38)"/>
<ellipse cx="49.7" cy="24.74" rx="0.7" ry="0.6" fill="#c8eca8" opacity="0.55" transform="rotate(90 49.7 24.74)"/>
<ellipse cx="31.39" cy="4.48" rx="1.3" ry="0.75" fill="#90d468" opacity="0.55" transform="rotate(20 31.39 4.48)"/>
<ellipse cx="52.67" cy="74.49" rx="1" ry="0.65" fill="#90d468" opacity="1" transform="rotate(81 52.67 74.49)"/>
<ellipse cx="64.92" cy="11.6" rx="1.3" ry="0.65" fill="#d4f0b8" opacity="0.55" transform="rotate(42 64.92 11.6)"/>
<ellipse cx="16.76" cy="76.42" rx="1.9" ry="0.65" fill="#b0e28c" opacity="1" transform="rotate(3 16.76 76.42)"/>
<ellipse cx="38.51" cy="62.14" rx="0.9" ry="0.75" fill="#b0e28c" opacity="0.7" transform="rotate(47 38.51 62.14)"/>
<ellipse cx="68.43" cy="51.48" rx="0.7" ry="0.6" fill="#b0e28c" opacity="0.85" transform="rotate(69 68.43 51.48)"/>
<ellipse cx="106.18" cy="63.91" rx="0.9" ry="0.65" fill="#b0e28c" opacity="0.55" transform="rotate(168 106.18 63.91)"/>
<ellipse cx="103.36" cy="84.03" rx="1.3" ry="0.65" fill="#a0dc78" opacity="0.7" transform="rotate(45 103.36 84.03)"/>
<ellipse cx="23.64" cy="73.93" rx="0.9" ry="0.6" fill="#d4f0b8" opacity="0.7" transform="rotate(129 23.64 73.93)"/>
<ellipse cx="70.15" cy="22.52" rx="1" ry="0.75" fill="#90d468" opacity="0.85" transform="rotate(44 70.15 22.52)"/>
<ellipse cx="98.98" cy="66.76" rx="1" ry="0.65" fill="#c8eca8" opacity="0.55" transform="rotate(168 98.98 66.76)"/>
<ellipse cx="87.46" cy="15.33" rx="0.8" ry="0.65" fill="#90d468" opacity="1" transform="rotate(167 87.46 15.33)"/>
<ellipse cx="14.88" cy="97.02" rx="1.9" ry="0.65" fill="#90d468" opacity="1" transform="rotate(19 14.88 97.02)"/>
<ellipse cx="15.22" cy="25.18" rx="0.8" ry="0.6" fill="#c8eca8" opacity="0.7" transform="rotate(130 15.22 25.18)"/>
<ellipse cx="107.43" cy="64.92" rx="1.3" ry="0.65" fill="#c8eca8" opacity="1" transform="rotate(126 107.43 64.92)"/>
<ellipse cx="103.66" cy="35.87" rx="1.9" ry="0.75" fill="#b0e28c" opacity="0.55" transform="rotate(65 103.66 35.87)"/>
<ellipse cx="46.91" cy="105.93" rx="0.8" ry="0.6" fill="#c8eca8" opacity="0.55" transform="rotate(149 46.91 105.93)"/>
<ellipse cx="6.28" cy="106.3" rx="1" ry="0.65" fill="#d4f0b8" opacity="1" transform="rotate(26 6.28 106.3)"/>
<ellipse cx="3.62" cy="10.15" rx="1.3" ry="0.75" fill="#d4f0b8" opacity="0.55" transform="rotate(50 3.62 10.15)"/>
<ellipse cx="107.63" cy="26.58" rx="0.7" ry="0.6" fill="#90d468" opacity="1" transform="rotate(167 107.63 26.58)"/>
<ellipse cx="48.94" cy="38.32" rx="0.8" ry="0.65" fill="#a0dc78" opacity="0.85" transform="rotate(5 48.94 38.32)"/>
<ellipse cx="57.27" cy="90.46" rx="0.7" ry="0.65" fill="#d4f0b8" opacity="0.85" transform="rotate(162 57.27 90.46)"/>
<ellipse cx="42.46" cy="65.56" rx="1" ry="0.6" fill="#90d468" opacity="0.55" transform="rotate(137 42.46 65.56)"/>
<ellipse cx="93.28" cy="52.2" rx="0.7" ry="0.6" fill="#a0dc78" opacity="0.7" transform="rotate(93 93.28 52.2)"/>
<ellipse cx="28.67" cy="93.05" rx="1.9" ry="0.75" fill="#b0e28c" opacity="0.55" transform="rotate(16 28.67 93.05)"/>
<ellipse cx="21.7" cy="87.99" rx="1" ry="0.65" fill="#b0e28c" opacity="0.7" transform="rotate(50 21.7 87.99)"/>
<ellipse cx="68.07" cy="76.45" rx="1.9" ry="0.6" fill="#b0e28c" opacity="1" transform="rotate(67 68.07 76.45)"/>
<ellipse cx="65.66" cy="51.87" rx="1" ry="0.75" fill="#b0e28c" opacity="0.85" transform="rotate(62 65.66 51.87)"/>
<ellipse cx="20.22" cy="69.3" rx="0.9" ry="0.65" fill="#d4f0b8" opacity="0.85" transform="rotate(154 20.22 69.3)"/>
<ellipse cx="6.58" cy="7.42" rx="0.9" ry="0.75" fill="#c8eca8" opacity="0.85" transform="rotate(55 6.58 7.42)"/>
<ellipse cx="72.94" cy="80.23" rx="0.8" ry="0.75" fill="#a0dc78" opacity="0.55" transform="rotate(179 72.94 80.23)"/>
<ellipse cx="94.79" cy="25.79" rx="1.3" ry="0.65" fill="#a0dc78" opacity="0.85" transform="rotate(152 94.79 25.79)"/>
<ellipse cx="38.93" cy="92.39" rx="1.3" ry="0.65" fill="#b0e28c" opacity="0.55" transform="rotate(63 38.93 92.39)"/>
<ellipse cx="5.78" cy="94.24" rx="0.8" ry="0.6" fill="#90d468" opacity="0.7" transform="rotate(54 5.78 94.24)"/>
<ellipse cx="31.46" cy="48.54" rx="1.3" ry="0.6" fill="#b0e28c" opacity="0.7" transform="rotate(20 31.46 48.54)"/>
<ellipse cx="64.47" cy="23.39" rx="1" ry="0.6" fill="#a0dc78" opacity="0.55" transform="rotate(135 64.47 23.39)"/>
<ellipse cx="40.23" cy="106.51" rx="1.9" ry="0.6" fill="#a0dc78" opacity="0.7" transform="rotate(21 40.23 106.51)"/>
<ellipse cx="97.51" cy="12.81" rx="1" ry="0.75" fill="#c8eca8" opacity="0.55" transform="rotate(84 97.51 12.81)"/>
<ellipse cx="14.5" cy="55.32" rx="1" ry="0.75" fill="#c8eca8" opacity="0.55" transform="rotate(29 14.5 55.32)"/>
<ellipse cx="5.72" cy="49.57" rx="1" ry="0.6" fill="#d4f0b8" opacity="0.7" transform="rotate(11 5.72 49.57)"/>
<ellipse cx="12.58" cy="55.99" rx="0.9" ry="0.65" fill="#a0dc78" opacity="0.55" transform="rotate(166 12.58 55.99)"/>
<ellipse cx="81.62" cy="8.6" rx="0.8" ry="0.75" fill="#a0dc78" opacity="1" transform="rotate(86 81.62 8.6)"/>
<ellipse cx="82.99" cy="60.96" rx="1.9" ry="0.6" fill="#a0dc78" opacity="0.85" transform="rotate(75 82.99 60.96)"/>
<ellipse cx="19.6" cy="103.81" rx="1.9" ry="0.6" fill="#a0dc78" opacity="0.7" transform="rotate(43 19.6 103.81)"/>
<ellipse cx="24.26" cy="28.44" rx="1.9" ry="0.75" fill="#b0e28c" opacity="0.85" transform="rotate(1 24.26 28.44)"/>
<ellipse cx="97.27" cy="61.07" rx="0.8" ry="0.6" fill="#a0dc78" opacity="0.85" transform="rotate(173 97.27 61.07)"/>
<ellipse cx="1.81" cy="91.71" rx="1" ry="0.65" fill="#b0e28c" opacity="0.7" transform="rotate(90 1.81 91.71)"/>
<ellipse cx="54.19" cy="17.59" rx="0.9" ry="0.6" fill="#b0e28c" opacity="0.85" transform="rotate(131 54.19 17.59)"/>
<ellipse cx="54.08" cy="44.72" rx="1" ry="0.65" fill="#d4f0b8" opacity="0.85" transform="rotate(95 54.08 44.72)"/>
<ellipse cx="35.89" cy="58.74" rx="0.9" ry="0.6" fill="#a0dc78" opacity="0.7" transform="rotate(2 35.89 58.74)"/>
<ellipse cx="103.58" cy="48.25" rx="1" ry="0.65" fill="#90d468" opacity="0.55" transform="rotate(168 103.58 48.25)"/>
<ellipse cx="62.28" cy="92.22" rx="1.3" ry="0.75" fill="#d4f0b8" opacity="0.7" transform="rotate(16 62.28 92.22)"/>
<ellipse cx="52.75" cy="102.66" rx="1.9" ry="0.65" fill="#c8eca8" opacity="0.85" transform="rotate(168 52.75 102.66)"/>
<ellipse cx="42.23" cy="61.93" rx="0.9" ry="0.65" fill="#b0e28c" opacity="0.7" transform="rotate(47 42.23 61.93)"/>
<ellipse cx="15.01" cy="106.31" rx="1.9" ry="0.65" fill="#a0dc78" opacity="0.55" transform="rotate(146 15.01 106.31)"/>
<ellipse cx="51.66" cy="3.91" rx="0.8" ry="0.75" fill="#a0dc78" opacity="0.7" transform="rotate(115 51.66 3.91)"/>
<ellipse cx="42.49" cy="23.9" rx="0.9" ry="0.65" fill="#d4f0b8" opacity="0.55" transform="rotate(150 42.49 23.9)"/>
<ellipse cx="104.45" cy="99.78" rx="1.3" ry="0.6" fill="#d4f0b8" opacity="0.7" transform="rotate(130 104.45 99.78)"/>
<ellipse cx="44.99" cy="95.25" rx="1" ry="0.75" fill="#d4f0b8" opacity="1" transform="rotate(102 44.99 95.25)"/>
<ellipse cx="3.24" cy="59.17" rx="0.7" ry="0.6" fill="#a0dc78" opacity="1" transform="rotate(153 3.24 59.17)"/>
<ellipse cx="67.63" cy="2.98" rx="0.9" ry="0.6" fill="#d4f0b8" opacity="0.55" transform="rotate(18 67.63 2.98)"/>
<ellipse cx="78.93" cy="90.03" rx="0.8" ry="0.65" fill="#90d468" opacity="0.85" transform="rotate(58 78.93 90.03)"/>
<ellipse cx="45.69" cy="95.19" rx="1.3" ry="0.6" fill="#a0dc78" opacity="1" transform="rotate(141 45.69 95.19)"/>
<ellipse cx="30.56" cy="52.37" rx="0.9" ry="0.65" fill="#a0dc78" opacity="0.7" transform="rotate(121 30.56 52.37)"/>
<ellipse cx="85.93" cy="57.51" rx="0.9" ry="0.65" fill="#b0e28c" opacity="0.85" transform="rotate(166 85.93 57.51)"/>
<ellipse cx="6.85" cy="5.66" rx="0.8" ry="0.6" fill="#b0e28c" opacity="0.55" transform="rotate(141 6.85 5.66)"/>
<ellipse cx="36.56" cy="57.95" rx="0.9" ry="0.75" fill="#90d468" opacity="1" transform="rotate(29 36.56 57.95)"/>
<ellipse cx="79.8" cy="62.53" rx="0.8" ry="0.75" fill="#90d468" opacity="1" transform="rotate(34 79.8 62.53)"/>
<ellipse cx="92.22" cy="33.46" rx="1.9" ry="0.6" fill="#d4f0b8" opacity="0.85" transform="rotate(129 92.22 33.46)"/>
<ellipse cx="97.64" cy="107.52" rx="0.8" ry="0.6" fill="#b0e28c" opacity="1" transform="rotate(172 97.64 107.52)"/>
<ellipse cx="43.05" cy="13.91" rx="0.9" ry="0.6" fill="#a0dc78" opacity="0.85" transform="rotate(21 43.05 13.91)"/>
<ellipse cx="34.58" cy="89.2" rx="1.9" ry="0.65" fill="#c8eca8" opacity="0.55" transform="rotate(57 34.58 89.2)"/>
<ellipse cx="60.54" cy="60.33" rx="0.9" ry="0.75" fill="#c8eca8" opacity="0.85" transform="rotate(165 60.54 60.33)"/>
<ellipse cx="73.19" cy="10.92" rx="0.9" ry="0.6" fill="#90d468" opacity="0.85" transform="rotate(173 73.19 10.92)"/>
<ellipse cx="31.27" cy="35.43" rx="0.9" ry="0.75" fill="#a0dc78" opacity="0.7" transform="rotate(28 31.27 35.43)"/>
<ellipse cx="81.66" cy="65.7" rx="1.3" ry="0.65" fill="#90d468" opacity="0.85" transform="rotate(127 81.66 65.7)"/>
<ellipse cx="45.51" cy="88.99" rx="1" ry="0.65" fill="#a0dc78" opacity="0.55" transform="rotate(98 45.51 88.99)"/>
<ellipse cx="45.63" cy="19.64" rx="1.3" ry="0.75" fill="#c8eca8" opacity="0.85" transform="rotate(5 45.63 19.64)"/>
<ellipse cx="66.38" cy="34.74" rx="0.9" ry="0.65" fill="#90d468" opacity="1" transform="rotate(172 66.38 34.74)"/>
<ellipse cx="20.67" cy="79.02" rx="1" ry="0.75" fill="#c8eca8" opacity="1" transform="rotate(73 20.67 79.02)"/>
<ellipse cx="21.41" cy="97.11" rx="0.7" ry="0.75" fill="#b0e28c" opacity="0.7" transform="rotate(51 21.41 97.11)"/>
<ellipse cx="102.13" cy="3.83" rx="0.7" ry="0.75" fill="#b0e28c" opacity="0.7" transform="rotate(104 102.13 3.83)"/>
<ellipse cx="59.99" cy="53.1" rx="0.8" ry="0.6" fill="#c8eca8" opacity="1" transform="rotate(30 59.99 53.1)"/>
<ellipse cx="14.87" cy="4.43" rx="1.3" ry="0.6" fill="#b0e28c" opacity="0.7" transform="rotate(74 14.87 4.43)"/>
<ellipse cx="54.14" cy="19.29" rx="0.9" ry="0.6" fill="#c8eca8" opacity="0.7" transform="rotate(56 54.14 19.29)"/>
<ellipse cx="29.65" cy="29.61" rx="0.9" ry="0.6" fill="#c8eca8" opacity="0.85" transform="rotate(40 29.65 29.61)"/>
<ellipse cx="56.65" cy="71.75" rx="1" ry="0.65" fill="#b0e28c" opacity="0.85" transform="rotate(6 56.65 71.75)"/>
<ellipse cx="65.21" cy="76.42" rx="1.9" ry="0.65" fill="#90d468" opacity="1" transform="rotate(119 65.21 76.42)"/>
<ellipse cx="91.51" cy="78.24" rx="1.3" ry="0.75" fill="#a0dc78" opacity="0.55" transform="rotate(66 91.51 78.24)"/>
<ellipse cx="35.82" cy="44.3" rx="1" ry="0.6" fill="#b0e28c" opacity="0.55" transform="rotate(53 35.82 44.3)"/>
<ellipse cx="43.04" cy="7.92" rx="0.7" ry="0.75" fill="#90d468" opacity="0.85" transform="rotate(98 43.04 7.92)"/>
<ellipse cx="17.15" cy="14.66" rx="0.9" ry="0.6" fill="#b0e28c" opacity="0.85" transform="rotate(99 17.15 14.66)"/>
<ellipse cx="18.44" cy="45.74" rx="1" ry="0.6" fill="#d4f0b8" opacity="0.85" transform="rotate(98 18.44 45.74)"/>
<ellipse cx="95.71" cy="62.52" rx="1.3" ry="0.65" fill="#b0e28c" opacity="0.55" transform="rotate(103 95.71 62.52)"/>
<ellipse cx="19.34" cy="67.08" rx="1" ry="0.6" fill="#b0e28c" opacity="1" transform="rotate(107 19.34 67.08)"/>
<ellipse cx="59" cy="63.81" rx="1.3" ry="0.75" fill="#b0e28c" opacity="0.55" transform="rotate(74 59 63.81)"/>
<ellipse cx="102.13" cy="106.93" rx="0.8" ry="0.6" fill="#a0dc78" opacity="0.55" transform="rotate(101 102.13 106.93)"/>
<ellipse cx="25.14" cy="23.16" rx="1" ry="0.6" fill="#b0e28c" opacity="0.7" transform="rotate(51 25.14 23.16)"/>
<ellipse cx="7.6" cy="76.82" rx="0.9" ry="0.75" fill="#b0e28c" opacity="1" transform="rotate(147 7.6 76.82)"/>
<ellipse cx="86.99" cy="53.44" rx="0.8" ry="0.75" fill="#a0dc78" opacity="0.55" transform="rotate(164 86.99 53.44)"/>
<ellipse cx="38.21" cy="106.63" rx="1" ry="0.6" fill="#a0dc78" opacity="0.85" transform="rotate(37 38.21 106.63)"/>
<ellipse cx="4.87" cy="23.37" rx="1.3" ry="0.6" fill="#c8eca8" opacity="0.7" transform="rotate(17 4.87 23.37)"/>
<ellipse cx="13.9" cy="68.15" rx="1.9" ry="0.6" fill="#b0e28c" opacity="1" transform="rotate(111 13.9 68.15)"/>
<ellipse cx="51.15" cy="70.78" rx="0.9" ry="0.6" fill="#b0e28c" opacity="0.55" transform="rotate(132 51.15 70.78)"/>
<ellipse cx="60.8" cy="2.53" rx="1" ry="0.75" fill="#90d468" opacity="0.7" transform="rotate(8 60.8 2.53)"/>
<ellipse cx="77.92" cy="99.43" rx="1.9" ry="0.6" fill="#a0dc78" opacity="1" transform="rotate(146 77.92 99.43)"/>
<ellipse cx="28.51" cy="19.42" rx="0.9" ry="0.75" fill="#90d468" opacity="0.55" transform="rotate(64 28.51 19.42)"/>
<ellipse cx="88.39" cy="11.9" rx="0.7" ry="0.75" fill="#90d468" opacity="0.7" transform="rotate(57 88.39 11.9)"/>
<ellipse cx="56.84" cy="59.54" rx="1.3" ry="0.6" fill="#90d468" opacity="0.85" transform="rotate(69 56.84 59.54)"/>
<ellipse cx="94.48" cy="32.34" rx="1.3" ry="0.6" fill="#90d468" opacity="0.85" transform="rotate(169 94.48 32.34)"/>
<ellipse cx="74.71" cy="104.92" rx="1.9" ry="0.65" fill="#d4f0b8" opacity="0.55" transform="rotate(144 74.71 104.92)"/>
<ellipse cx="74.78" cy="89.17" rx="0.8" ry="0.75" fill="#a0dc78" opacity="0.85" transform="rotate(16 74.78 89.17)"/>
<ellipse cx="50.98" cy="94.41" rx="0.7" ry="0.65" fill="#d4f0b8" opacity="0.7" transform="rotate(38 50.98 94.41)"/>
<ellipse cx="76.85" cy="93.44" rx="1" ry="0.6" fill="#a0dc78" opacity="1" transform="rotate(52 76.85 93.44)"/>
<ellipse cx="73.67" cy="19.38" rx="1.9" ry="0.75" fill="#90d468" opacity="1" transform="rotate(120 73.67 19.38)"/>
<ellipse cx="28.32" cy="53.97" rx="0.8" ry="0.65" fill="#a0dc78" opacity="1" transform="rotate(68 28.32 53.97)"/>
<ellipse cx="64.15" cy="14.03" rx="1.9" ry="0.75" fill="#d4f0b8" opacity="1" transform="rotate(38 64.15 14.03)"/>
<ellipse cx="84.85" cy="20.2" rx="0.8" ry="0.6" fill="#d4f0b8" opacity="0.85" transform="rotate(29 84.85 20.2)"/>
<ellipse cx="66.72" cy="26.32" rx="1.9" ry="0.65" fill="#b0e28c" opacity="0.85" transform="rotate(66 66.72 26.32)"/>
<ellipse cx="79.65" cy="76.15" rx="0.8" ry="0.65" fill="#d4f0b8" opacity="0.7" transform="rotate(139 79.65 76.15)"/>
<ellipse cx="66.53" cy="16.49" rx="1" ry="0.6" fill="#b0e28c" opacity="0.85" transform="rotate(66 66.53 16.49)"/>
<ellipse cx="22.9" cy="15.53" rx="0.7" ry="0.6" fill="#d4f0b8" opacity="1" transform="rotate(103 22.9 15.53)"/>
<ellipse cx="90.31" cy="72.05" rx="0.7" ry="0.6" fill="#a0dc78" opacity="0.85" transform="rotate(21 90.31 72.05)"/>
<ellipse cx="60.83" cy="22.06" rx="1" ry="0.65" fill="#90d468" opacity="1" transform="rotate(15 60.83 22.06)"/>
<ellipse cx="55.98" cy="23.8" rx="0.8" ry="0.75" fill="#c8eca8" opacity="0.55" transform="rotate(172 55.98 23.8)"/>
<ellipse cx="17.79" cy="80.3" rx="0.7" ry="0.75" fill="#90d468" opacity="0.85" transform="rotate(155 17.79 80.3)"/>
<ellipse cx="75.58" cy="85.2" rx="0.8" ry="0.75" fill="#a0dc78" opacity="0.7" transform="rotate(94 75.58 85.2)"/>
<ellipse cx="105" cy="82.17" rx="0.9" ry="0.75" fill="#a0dc78" opacity="0.7" transform="rotate(46 105 82.17)"/>
<ellipse cx="34.55" cy="28.42" rx="0.8" ry="0.75" fill="#b0e28c" opacity="0.85" transform="rotate(48 34.55 28.42)"/>
<ellipse cx="38.96" cy="86.66" rx="1.3" ry="0.6" fill="#a0dc78" opacity="0.85" transform="rotate(45 38.96 86.66)"/>
<ellipse cx="62.59" cy="84.12" rx="1.9" ry="0.6" fill="#a0dc78" opacity="1" transform="rotate(131 62.59 84.12)"/>
<ellipse cx="66.09" cy="21.68" rx="0.9" ry="0.65" fill="#b0e28c" opacity="0.85" transform="rotate(60 66.09 21.68)"/>
<ellipse cx="93.74" cy="106.61" rx="1.3" ry="0.6" fill="#90d468" opacity="0.85" transform="rotate(99 93.74 106.61)"/>
<ellipse cx="104.84" cy="29.39" rx="1.9" ry="0.75" fill="#c8eca8" opacity="0.55" transform="rotate(99 104.84 29.39)"/>
<ellipse cx="23.68" cy="17.3" rx="0.9" ry="0.75" fill="#90d468" opacity="0.55" transform="rotate(134 23.68 17.3)"/>
<ellipse cx="80.09" cy="60.37" rx="0.9" ry="0.65" fill="#c8eca8" opacity="0.85" transform="rotate(53 80.09 60.37)"/>
<ellipse cx="48.24" cy="50.71" rx="0.7" ry="0.75" fill="#c8eca8" opacity="0.55" transform="rotate(80 48.24 50.71)"/>
<ellipse cx="73.98" cy="49.31" rx="1" ry="0.75" fill="#b0e28c" opacity="1" transform="rotate(158 73.98 49.31)"/>
<ellipse cx="67.42" cy="95.63" rx="1.9" ry="0.65" fill="#90d468" opacity="0.55" transform="rotate(77 67.42 95.63)"/>
<ellipse cx="43.68" cy="51.85" rx="0.9" ry="0.75" fill="#b0e28c" opacity="0.55" transform="rotate(37 43.68 51.85)"/>
<ellipse cx="56.6" cy="98.24" rx="1" ry="0.6" fill="#90d468" opacity="0.85" transform="rotate(134 56.6 98.24)"/>
<ellipse cx="58.58" cy="40.31" rx="0.8" ry="0.65" fill="#c8eca8" opacity="0.85" transform="rotate(88 58.58 40.31)"/>
<ellipse cx="43.52" cy="58.84" rx="1.3" ry="0.75" fill="#a0dc78" opacity="0.85" transform="rotate(15 43.52 58.84)"/>
<ellipse cx="12.65" cy="6.15" rx="0.8" ry="0.75" fill="#a0dc78" opacity="1" transform="rotate(55 12.65 6.15)"/>
<ellipse cx="60.17" cy="82.27" rx="0.7" ry="0.65" fill="#d4f0b8" opacity="0.7" transform="rotate(91 60.17 82.27)"/>
<ellipse cx="14.68" cy="20.6" rx="1" ry="0.6" fill="#d4f0b8" opacity="0.55" transform="rotate(3 14.68 20.6)"/>
<ellipse cx="2.61" cy="100.17" rx="1.9" ry="0.6" fill="#b0e28c" opacity="0.55" transform="rotate(154 2.61 100.17)"/>
<ellipse cx="102.92" cy="89.34" rx="1.3" ry="0.65" fill="#b0e28c" opacity="0.7" transform="rotate(119 102.92 89.34)"/>
<ellipse cx="62.44" cy="79.52" rx="1.9" ry="0.75" fill="#c8eca8" opacity="0.7" transform="rotate(43 62.44 79.52)"/>
<ellipse cx="86.96" cy="1.6" rx="0.7" ry="0.75" fill="#90d468" opacity="0.85" transform="rotate(12 86.96 1.6)"/>
<ellipse cx="51.86" cy="16.9" rx="1.9" ry="0.65" fill="#d4f0b8" opacity="0.85" transform="rotate(84 51.86 16.9)"/>
<ellipse cx="49.05" cy="83.68" rx="0.8" ry="0.65" fill="#c8eca8" opacity="0.85" transform="rotate(76 49.05 83.68)"/>
<ellipse cx="90.92" cy="71.68" rx="1" ry="0.75" fill="#d4f0b8" opacity="0.85" transform="rotate(55 90.92 71.68)"/>
<ellipse cx="81.74" cy="99.78" rx="0.7" ry="0.75" fill="#b0e28c" opacity="0.55" transform="rotate(4 81.74 99.78)"/>
<ellipse cx="33.6" cy="16.45" rx="1.9" ry="0.6" fill="#90d468" opacity="0.7" transform="rotate(25 33.6 16.45)"/>
<ellipse cx="88.51" cy="15.86" rx="1.9" ry="0.65" fill="#c8eca8" opacity="0.7" transform="rotate(58 88.51 15.86)"/>
<ellipse cx="38.97" cy="102.07" rx="1.9" ry="0.6" fill="#c8eca8" opacity="0.85" transform="rotate(28 38.97 102.07)"/>
<ellipse cx="96.03" cy="28.18" rx="1" ry="0.65" fill="#b0e28c" opacity="1" transform="rotate(34 96.03 28.18)"/>
<ellipse cx="81.29" cy="40.78" rx="1.9" ry="0.65" fill="#a0dc78" opacity="0.55" transform="rotate(97 81.29 40.78)"/>
<ellipse cx="65.25" cy="83.33" rx="1.9" ry="0.65" fill="#90d468" opacity="0.7" transform="rotate(66 65.25 83.33)"/>
<ellipse cx="30.45" cy="69.56" rx="1.9" ry="0.65" fill="#b0e28c" opacity="0.55" transform="rotate(92 30.45 69.56)"/>
<ellipse cx="82.23" cy="104.18" rx="1.9" ry="0.75" fill="#a0dc78" opacity="0.7" transform="rotate(10 82.23 104.18)"/>
<ellipse cx="93.26" cy="37.02" rx="1" ry="0.6" fill="#d4f0b8" opacity="0.55" transform="rotate(68 93.26 37.02)"/>
<ellipse cx="84.9" cy="89.67" rx="0.8" ry="0.75" fill="#90d468" opacity="0.85" transform="rotate(79 84.9 89.67)"/>
<ellipse cx="106.24" cy="100.91" rx="0.9" ry="0.6" fill="#90d468" opacity="0.7" transform="rotate(91 106.24 100.91)"/>
<ellipse cx="97.58" cy="21.42" rx="1" ry="0.65" fill="#90d468" opacity="0.55" transform="rotate(79 97.58 21.42)"/>
<ellipse cx="6.94" cy="77.56" rx="1.9" ry="0.75" fill="#c8eca8" opacity="0.85" transform="rotate(111 6.94 77.56)"/>
<ellipse cx="81.39" cy="76.93" rx="0.7" ry="0.75" fill="#d4f0b8" opacity="0.7" transform="rotate(68 81.39 76.93)"/>
<ellipse cx="29.31" cy="102.61" rx="1.9" ry="0.6" fill="#b0e28c" opacity="0.85" transform="rotate(76 29.31 102.61)"/>
<ellipse cx="48.09" cy="81.7" rx="0.9" ry="0.65" fill="#a0dc78" opacity="0.7" transform="rotate(119 48.09 81.7)"/>
<ellipse cx="84.05" cy="13.97" rx="1.9" ry="0.75" fill="#b0e28c" opacity="0.7" transform="rotate(22 84.05 13.97)"/>
<ellipse cx="27.92" cy="56.32" rx="1.9" ry="0.6" fill="#b0e28c" opacity="1" transform="rotate(174 27.92 56.32)"/>
<ellipse cx="71.34" cy="50.13" rx="1.9" ry="0.65" fill="#d4f0b8" opacity="1" transform="rotate(137 71.34 50.13)"/>
<ellipse cx="13.28" cy="106.11" rx="0.8" ry="0.6" fill="#b0e28c" opacity="0.85" transform="rotate(68 13.28 106.11)"/>
<ellipse cx="22.78" cy="87.98" rx="0.9" ry="0.65" fill="#90d468" opacity="0.7" transform="rotate(92 22.78 87.98)"/>
<ellipse cx="93.13" cy="46.57" rx="1.9" ry="0.75" fill="#90d468" opacity="1" transform="rotate(3 93.13 46.57)"/>
<ellipse cx="30.74" cy="48.31" rx="0.7" ry="0.75" fill="#c8eca8" opacity="0.55" transform="rotate(50 30.74 48.31)"/>
<ellipse cx="27.72" cy="3.21" rx="1" ry="0.65" fill="#90d468" opacity="1" transform="rotate(77 27.72 3.21)"/>
<ellipse cx="27.86" cy="68.82" rx="0.7" ry="0.75" fill="#c8eca8" opacity="0.85" transform="rotate(65 27.86 68.82)"/>
<ellipse cx="29.72" cy="21.41" rx="1" ry="0.6" fill="#d4f0b8" opacity="0.7" transform="rotate(105 29.72 21.41)"/>
<ellipse cx="44.38" cy="34.48" rx="1.9" ry="0.65" fill="#b0e28c" opacity="0.85" transform="rotate(176 44.38 34.48)"/>
<ellipse cx="19.35" cy="51.49" rx="0.8" ry="0.65" fill="#b0e28c" opacity="0.85" transform="rotate(36 19.35 51.49)"/>
<ellipse cx="72.73" cy="21.33" rx="0.7" ry="0.6" fill="#90d468" opacity="1" transform="rotate(18 72.73 21.33)"/>
<ellipse cx="27.97" cy="20.09" rx="1.3" ry="0.6" fill="#d4f0b8" opacity="1" transform="rotate(5 27.97 20.09)"/>
<ellipse cx="3.3" cy="76.42" rx="0.8" ry="0.65" fill="#c8eca8" opacity="0.55" transform="rotate(25 3.3 76.42)"/>
<ellipse cx="12.3" cy="30.56" rx="0.8" ry="0.6" fill="#a0dc78" opacity="0.7" transform="rotate(42 12.3 30.56)"/>
<ellipse cx="87.73" cy="97.24" rx="1.9" ry="0.65" fill="#a0dc78" opacity="0.55" transform="rotate(137 87.73 97.24)"/>
<ellipse cx="4.07" cy="57.61" rx="0.7" ry="0.65" fill="#a0dc78" opacity="0.7" transform="rotate(35 4.07 57.61)"/>
<ellipse cx="78.96" cy="93.64" rx="0.7" ry="0.65" fill="#90d468" opacity="0.85" transform="rotate(28 78.96 93.64)"/>
<ellipse cx="32.55" cy="20.24" rx="0.8" ry="0.75" fill="#a0dc78" opacity="1" transform="rotate(38 32.55 20.24)"/>
<ellipse cx="93.6" cy="54.64" rx="0.8" ry="0.6" fill="#90d468" opacity="0.85" transform="rotate(29 93.6 54.64)"/>
<ellipse cx="20.93" cy="48.2" rx="0.9" ry="0.65" fill="#b0e28c" opacity="0.55" transform="rotate(164 20.93 48.2)"/>
<ellipse cx="44.19" cy="58.09" rx="1" ry="0.65" fill="#a0dc78" opacity="1" transform="rotate(44 44.19 58.09)"/>
<ellipse cx="105.17" cy="73.28" rx="1" ry="0.65" fill="#a0dc78" opacity="0.85" transform="rotate(139 105.17 73.28)"/>
<ellipse cx="77.31" cy="20.66" rx="1" ry="0.6" fill="#b0e28c" opacity="0.7" transform="rotate(6 77.31 20.66)"/>
<ellipse cx="74.85" cy="73.69" rx="1.9" ry="0.65" fill="#90d468" opacity="0.55" transform="rotate(162 74.85 73.69)"/>
<ellipse cx="25.25" cy="87.39" rx="1.9" ry="0.75" fill="#90d468" opacity="0.7" transform="rotate(42 25.25 87.39)"/>
<ellipse cx="104.5" cy="38.97" rx="1" ry="0.65" fill="#90d468" opacity="0.85" transform="rotate(8 104.5 38.97)"/>
<ellipse cx="21.57" cy="22.21" rx="0.8" ry="0.6" fill="#a0dc78" opacity="1" transform="rotate(165 21.57 22.21)"/>
<ellipse cx="60.01" cy="95.32" rx="0.7" ry="0.65" fill="#b0e28c" opacity="0.55" transform="rotate(115 60.01 95.32)"/>
<ellipse cx="46.82" cy="50.64" rx="1" ry="0.75" fill="#a0dc78" opacity="0.85" transform="rotate(38 46.82 50.64)"/>
<ellipse cx="22.68" cy="77.38" rx="1" ry="0.75" fill="#b0e28c" opacity="0.55" transform="rotate(159 22.68 77.38)"/>
<ellipse cx="52.96" cy="24.83" rx="1" ry="0.75" fill="#b0e28c" opacity="0.85" transform="rotate(6 52.96 24.83)"/>
<ellipse cx="63.09" cy="107.99" rx="0.8" ry="0.65" fill="#d4f0b8" opacity="0.55" transform="rotate(98 63.09 107.99)"/>
<ellipse cx="99.36" cy="48.16" rx="0.9" ry="0.75" fill="#d4f0b8" opacity="0.85" transform="rotate(40 99.36 48.16)"/>
<ellipse cx="77.21" cy="36.88" rx="1.3" ry="0.6" fill="#b0e28c" opacity="0.85" transform="rotate(11 77.21 36.88)"/>
<ellipse cx="107.78" cy="2.67" rx="1.9" ry="0.75" fill="#b0e28c" opacity="1" transform="rotate(16 107.78 2.67)"/>
<ellipse cx="3.7" cy="58.22" rx="0.9" ry="0.65" fill="#b0e28c" opacity="0.7" transform="rotate(177 3.7 58.22)"/>
</g></g>
<g transform="translate(542.1 297.3)">
<rect x="0" y="0" width="109.8" height="109.5" fill="#020202"/>
<g clip-path="url(#cp04)" filter="url(#soft)">
<ellipse cx="104.3" cy="2.74" rx="0.8" ry="0.55" fill="#b4e494" opacity="0.5" transform="rotate(28 104.3 2.74)"/>
<ellipse cx="92.81" cy="107.98" rx="2.1" ry="0.65" fill="#c8ecac" opacity="0.8" transform="rotate(60 92.81 107.98)"/>
<ellipse cx="29.54" cy="25.85" rx="1" ry="0.55" fill="#80cc5a" opacity="0.8" transform="rotate(157 29.54 25.85)"/>
<ellipse cx="46.28" cy="62.97" rx="1.2" ry="0.75" fill="#c8ecac" opacity="0.8" transform="rotate(88 46.28 62.97)"/>
<ellipse cx="62.16" cy="100.57" rx="0.7" ry="0.65" fill="#b4e494" opacity="0.5" transform="rotate(72 62.16 100.57)"/>
<ellipse cx="16.44" cy="19.84" rx="2.1" ry="0.55" fill="#80cc5a" opacity="0.8" transform="rotate(124 16.44 19.84)"/>
<ellipse cx="54.22" cy="95.97" rx="0.7" ry="0.55" fill="#80cc5a" opacity="0.95" transform="rotate(20 54.22 95.97)"/>
<ellipse cx="33" cy="99.76" rx="1.5" ry="0.65" fill="#b4e494" opacity="0.5" transform="rotate(97 33 99.76)"/>
<ellipse cx="34.53" cy="19.02" rx="1.2" ry="0.65" fill="#a0dc7c" opacity="0.95" transform="rotate(69 34.53 19.02)"/>
<ellipse cx="82.15" cy="90.71" rx="2.1" ry="0.65" fill="#c8ecac" opacity="0.95" transform="rotate(25 82.15 90.71)"/>
<ellipse cx="3.14" cy="29.19" rx="0.7" ry="0.55" fill="#a0dc7c" opacity="0.95" transform="rotate(16 3.14 29.19)"/>
<ellipse cx="102.09" cy="18.37" rx="1.2" ry="0.55" fill="#c8ecac" opacity="0.5" transform="rotate(86 102.09 18.37)"/>
<ellipse cx="91.36" cy="62.16" rx="1.5" ry="0.65" fill="#a0dc7c" opacity="0.8" transform="rotate(139 91.36 62.16)"/>
<ellipse cx="66.55" cy="7.51" rx="1.2" ry="0.65" fill="#80cc5a" opacity="0.5" transform="rotate(150 66.55 7.51)"/>
<ellipse cx="101.09" cy="33.7" rx="0.7" ry="0.65" fill="#a0dc7c" opacity="0.95" transform="rotate(98 101.09 33.7)"/>
<ellipse cx="96.67" cy="98.91" rx="0.7" ry="0.55" fill="#b4e494" opacity="0.8" transform="rotate(163 96.67 98.91)"/>
<ellipse cx="54.65" cy="56.09" rx="1.5" ry="0.65" fill="#8cd468" opacity="0.95" transform="rotate(43 54.65 56.09)"/>
<ellipse cx="1.77" cy="39.35" rx="0.8" ry="0.75" fill="#80cc5a" opacity="0.5" transform="rotate(166 1.77 39.35)"/>
<ellipse cx="44.01" cy="94.64" rx="1" ry="0.65" fill="#80cc5a" opacity="0.95" transform="rotate(60 44.01 94.64)"/>
<ellipse cx="59.84" cy="53.07" rx="1.5" ry="0.55" fill="#b4e494" opacity="0.5" transform="rotate(70 59.84 53.07)"/>
<ellipse cx="76.94" cy="50.7" rx="1.5" ry="0.75" fill="#8cd468" opacity="0.8" transform="rotate(35 76.94 50.7)"/>
<ellipse cx="44.71" cy="105.89" rx="1.5" ry="0.75" fill="#80cc5a" opacity="0.95" transform="rotate(113 44.71 105.89)"/>
<ellipse cx="18.16" cy="76.86" rx="1.5" ry="0.75" fill="#a0dc7c" opacity="0.95" transform="rotate(60 18.16 76.86)"/>
<ellipse cx="30.51" cy="15.34" rx="0.7" ry="0.65" fill="#a0dc7c" opacity="0.65" transform="rotate(179 30.51 15.34)"/>
<ellipse cx="8.66" cy="28.33" rx="2.1" ry="0.65" fill="#b4e494" opacity="0.65" transform="rotate(12 8.66 28.33)"/>
<ellipse cx="35.81" cy="66.86" rx="0.8" ry="0.65" fill="#8cd468" opacity="0.65" transform="rotate(66 35.81 66.86)"/>
<ellipse cx="81.39" cy="17.12" rx="1.2" ry="0.65" fill="#c8ecac" opacity="0.65" transform="rotate(179 81.39 17.12)"/>
<ellipse cx="8.78" cy="30.68" rx="2.1" ry="0.55" fill="#8cd468" opacity="0.95" transform="rotate(133 8.78 30.68)"/>
<ellipse cx="44.6" cy="70.93" rx="0.7" ry="0.75" fill="#c8ecac" opacity="0.95" transform="rotate(105 44.6 70.93)"/>
<ellipse cx="4.75" cy="49.54" rx="1.2" ry="0.65" fill="#c8ecac" opacity="0.95" transform="rotate(141 4.75 49.54)"/>
<ellipse cx="75.69" cy="54.97" rx="1" ry="0.65" fill="#8cd468" opacity="0.95" transform="rotate(120 75.69 54.97)"/>
<ellipse cx="105.08" cy="62.33" rx="0.8" ry="0.55" fill="#a0dc7c" opacity="0.95" transform="rotate(38 105.08 62.33)"/>
<ellipse cx="75.56" cy="74.17" rx="1.2" ry="0.65" fill="#8cd468" opacity="0.65" transform="rotate(155 75.56 74.17)"/>
<ellipse cx="97.5" cy="14.33" rx="1" ry="0.55" fill="#8cd468" opacity="0.8" transform="rotate(123 97.5 14.33)"/>
<ellipse cx="17.67" cy="71.79" rx="1.5" ry="0.55" fill="#b4e494" opacity="0.65" transform="rotate(26 17.67 71.79)"/>
<ellipse cx="43.57" cy="47.12" rx="2.1" ry="0.75" fill="#c8ecac" opacity="0.95" transform="rotate(146 43.57 47.12)"/>
<ellipse cx="80.6" cy="102.77" rx="1.2" ry="0.65" fill="#c8ecac" opacity="0.8" transform="rotate(40 80.6 102.77)"/>
<ellipse cx="36.5" cy="37.11" rx="2.1" ry="0.75" fill="#80cc5a" opacity="0.65" transform="rotate(89 36.5 37.11)"/>
<ellipse cx="71.46" cy="9.25" rx="1" ry="0.55" fill="#c8ecac" opacity="0.65" transform="rotate(126 71.46 9.25)"/>
<ellipse cx="28.23" cy="54.09" rx="1.2" ry="0.65" fill="#80cc5a" opacity="0.65" transform="rotate(42 28.23 54.09)"/>
<ellipse cx="70.52" cy="24.37" rx="1.5" ry="0.75" fill="#80cc5a" opacity="0.8" transform="rotate(153 70.52 24.37)"/>
<ellipse cx="13.51" cy="65.17" rx="0.7" ry="0.65" fill="#8cd468" opacity="0.95" transform="rotate(10 13.51 65.17)"/>
<ellipse cx="56.87" cy="64.34" rx="1" ry="0.65" fill="#a0dc7c" opacity="0.95" transform="rotate(56 56.87 64.34)"/>
<ellipse cx="99.57" cy="52.11" rx="0.8" ry="0.65" fill="#b4e494" opacity="0.5" transform="rotate(102 99.57 52.11)"/>
<ellipse cx="47.98" cy="14.55" rx="1.2" ry="0.75" fill="#8cd468" opacity="0.95" transform="rotate(7 47.98 14.55)"/>
<ellipse cx="17.84" cy="58.59" rx="0.8" ry="0.55" fill="#80cc5a" opacity="0.8" transform="rotate(179 17.84 58.59)"/>
<ellipse cx="102.89" cy="95.57" rx="1.5" ry="0.55" fill="#a0dc7c" opacity="0.65" transform="rotate(8 102.89 95.57)"/>
<ellipse cx="63.85" cy="85.95" rx="2.1" ry="0.55" fill="#b4e494" opacity="0.95" transform="rotate(124 63.85 85.95)"/>
<ellipse cx="85.98" cy="24.83" rx="1.2" ry="0.65" fill="#a0dc7c" opacity="0.95" transform="rotate(171 85.98 24.83)"/>
<ellipse cx="14.35" cy="86.56" rx="1.5" ry="0.65" fill="#a0dc7c" opacity="0.8" transform="rotate(167 14.35 86.56)"/>
<ellipse cx="94.91" cy="104.65" rx="1" ry="0.65" fill="#c8ecac" opacity="0.65" transform="rotate(2 94.91 104.65)"/>
<ellipse cx="31.47" cy="9.22" rx="0.8" ry="0.75" fill="#c8ecac" opacity="0.5" transform="rotate(177 31.47 9.22)"/>
<ellipse cx="67.51" cy="19.54" rx="0.7" ry="0.65" fill="#b4e494" opacity="0.8" transform="rotate(169 67.51 19.54)"/>
<ellipse cx="27" cy="95.3" rx="1.5" ry="0.65" fill="#a0dc7c" opacity="0.65" transform="rotate(170 27 95.3)"/>
<ellipse cx="15.97" cy="70.3" rx="1" ry="0.65" fill="#c8ecac" opacity="0.5" transform="rotate(149 15.97 70.3)"/>
<ellipse cx="37.01" cy="19.51" rx="1.5" ry="0.55" fill="#a0dc7c" opacity="0.95" transform="rotate(65 37.01 19.51)"/>
<ellipse cx="107.79" cy="71.68" rx="0.8" ry="0.65" fill="#c8ecac" opacity="0.8" transform="rotate(29 107.79 71.68)"/>
<ellipse cx="103.11" cy="106.26" rx="1" ry="0.65" fill="#b4e494" opacity="0.5" transform="rotate(139 103.11 106.26)"/>
<ellipse cx="31.02" cy="97.89" rx="0.7" ry="0.55" fill="#b4e494" opacity="0.95" transform="rotate(22 31.02 97.89)"/>
<ellipse cx="35.02" cy="47.58" rx="1.2" ry="0.75" fill="#c8ecac" opacity="0.65" transform="rotate(148 35.02 47.58)"/>
<ellipse cx="59.93" cy="45.81" rx="0.7" ry="0.55" fill="#a0dc7c" opacity="0.65" transform="rotate(154 59.93 45.81)"/>
<ellipse cx="102.91" cy="106.47" rx="1.5" ry="0.65" fill="#80cc5a" opacity="0.95" transform="rotate(57 102.91 106.47)"/>
<ellipse cx="6.39" cy="13.93" rx="0.7" ry="0.55" fill="#8cd468" opacity="0.95" transform="rotate(27 6.39 13.93)"/>
<ellipse cx="33.59" cy="33.99" rx="1.5" ry="0.75" fill="#a0dc7c" opacity="0.65" transform="rotate(150 33.59 33.99)"/>
<ellipse cx="84.86" cy="34.57" rx="2.1" ry="0.65" fill="#80cc5a" opacity="0.8" transform="rotate(156 84.86 34.57)"/>
<ellipse cx="19.86" cy="48.74" rx="1.2" ry="0.75" fill="#c8ecac" opacity="0.65" transform="rotate(0 19.86 48.74)"/>
<ellipse cx="41.44" cy="104.07" rx="0.7" ry="0.65" fill="#8cd468" opacity="0.5" transform="rotate(35 41.44 104.07)"/>
<ellipse cx="90.3" cy="26.34" rx="0.7" ry="0.55" fill="#b4e494" opacity="0.65" transform="rotate(162 90.3 26.34)"/>
<ellipse cx="80.93" cy="100.87" rx="1.5" ry="0.65" fill="#8cd468" opacity="0.65" transform="rotate(120 80.93 100.87)"/>
<ellipse cx="10.2" cy="106.63" rx="0.8" ry="0.75" fill="#b4e494" opacity="0.5" transform="rotate(161 10.2 106.63)"/>
<ellipse cx="66.63" cy="96.66" rx="1" ry="0.55" fill="#c8ecac" opacity="0.65" transform="rotate(18 66.63 96.66)"/>
<ellipse cx="32.34" cy="15.03" rx="0.7" ry="0.75" fill="#80cc5a" opacity="0.8" transform="rotate(112 32.34 15.03)"/>
<ellipse cx="84.66" cy="55.2" rx="0.7" ry="0.75" fill="#b4e494" opacity="0.8" transform="rotate(23 84.66 55.2)"/>
<ellipse cx="102.79" cy="10.88" rx="0.8" ry="0.75" fill="#8cd468" opacity="0.65" transform="rotate(96 102.79 10.88)"/>
<ellipse cx="78.08" cy="42.9" rx="1.5" ry="0.55" fill="#8cd468" opacity="0.65" transform="rotate(9 78.08 42.9)"/>
<ellipse cx="83" cy="56.57" rx="0.8" ry="0.65" fill="#80cc5a" opacity="0.65" transform="rotate(135 83 56.57)"/>
<ellipse cx="95.13" cy="7.21" rx="0.8" ry="0.65" fill="#a0dc7c" opacity="0.95" transform="rotate(75 95.13 7.21)"/>
<ellipse cx="77.67" cy="50.52" rx="0.8" ry="0.55" fill="#b4e494" opacity="0.95" transform="rotate(85 77.67 50.52)"/>
<ellipse cx="33.58" cy="61.9" rx="2.1" ry="0.55" fill="#8cd468" opacity="0.95" transform="rotate(111 33.58 61.9)"/>
<ellipse cx="54.04" cy="107.78" rx="1.2" ry="0.75" fill="#c8ecac" opacity="0.95" transform="rotate(146 54.04 107.78)"/>
<ellipse cx="101.05" cy="49.28" rx="1.5" ry="0.65" fill="#8cd468" opacity="0.8" transform="rotate(90 101.05 49.28)"/>
<ellipse cx="32.38" cy="36.66" rx="1" ry="0.75" fill="#80cc5a" opacity="0.65" transform="rotate(73 32.38 36.66)"/>
<ellipse cx="50.72" cy="100.03" rx="2.1" ry="0.55" fill="#b4e494" opacity="0.95" transform="rotate(72 50.72 100.03)"/>
<ellipse cx="73.95" cy="61.2" rx="0.8" ry="0.65" fill="#b4e494" opacity="0.8" transform="rotate(165 73.95 61.2)"/>
<ellipse cx="27.07" cy="90.22" rx="0.8" ry="0.75" fill="#80cc5a" opacity="0.8" transform="rotate(120 27.07 90.22)"/>
<ellipse cx="37.44" cy="6" rx="1.2" ry="0.75" fill="#b4e494" opacity="0.8" transform="rotate(86 37.44 6)"/>
<ellipse cx="84.96" cy="4.01" rx="1" ry="0.65" fill="#80cc5a" opacity="0.65" transform="rotate(41 84.96 4.01)"/>
<ellipse cx="18.53" cy="92.11" rx="1.5" ry="0.55" fill="#b4e494" opacity="0.65" transform="rotate(112 18.53 92.11)"/>
<ellipse cx="45.81" cy="12.56" rx="1.5" ry="0.55" fill="#a0dc7c" opacity="0.5" transform="rotate(67 45.81 12.56)"/>
<ellipse cx="50.38" cy="90.2" rx="0.7" ry="0.55" fill="#80cc5a" opacity="0.95" transform="rotate(148 50.38 90.2)"/>
<ellipse cx="50.48" cy="53.64" rx="1" ry="0.65" fill="#a0dc7c" opacity="0.8" transform="rotate(144 50.48 53.64)"/>
<ellipse cx="9.57" cy="28.54" rx="0.8" ry="0.55" fill="#8cd468" opacity="0.5" transform="rotate(176 9.57 28.54)"/>
<ellipse cx="97.74" cy="76.62" rx="0.8" ry="0.55" fill="#8cd468" opacity="0.95" transform="rotate(79 97.74 76.62)"/>
<ellipse cx="70.05" cy="105.73" rx="1.2" ry="0.75" fill="#b4e494" opacity="0.65" transform="rotate(16 70.05 105.73)"/>
<ellipse cx="24.96" cy="19.84" rx="2.1" ry="0.75" fill="#c8ecac" opacity="0.5" transform="rotate(46 24.96 19.84)"/>
<ellipse cx="53.92" cy="73.83" rx="0.7" ry="0.65" fill="#b4e494" opacity="0.95" transform="rotate(65 53.92 73.83)"/>
<ellipse cx="23.21" cy="61.98" rx="1" ry="0.65" fill="#8cd468" opacity="0.95" transform="rotate(23 23.21 61.98)"/>
<ellipse cx="55.12" cy="3.67" rx="0.8" ry="0.65" fill="#c8ecac" opacity="0.5" transform="rotate(169 55.12 3.67)"/>
<ellipse cx="55.62" cy="59.4" rx="1.2" ry="0.75" fill="#a0dc7c" opacity="0.95" transform="rotate(153 55.62 59.4)"/>
<ellipse cx="53.77" cy="83.2" rx="1.2" ry="0.55" fill="#80cc5a" opacity="0.5" transform="rotate(25 53.77 83.2)"/>
<ellipse cx="66.34" cy="40.33" rx="1.5" ry="0.75" fill="#a0dc7c" opacity="0.65" transform="rotate(86 66.34 40.33)"/>
<ellipse cx="39.49" cy="82.58" rx="0.8" ry="0.65" fill="#b4e494" opacity="0.65" transform="rotate(11 39.49 82.58)"/>
<ellipse cx="98.22" cy="98.38" rx="0.8" ry="0.75" fill="#b4e494" opacity="0.8" transform="rotate(149 98.22 98.38)"/>
<ellipse cx="66.99" cy="55.31" rx="0.7" ry="0.55" fill="#8cd468" opacity="0.8" transform="rotate(69 66.99 55.31)"/>
<ellipse cx="93.85" cy="21.56" rx="0.8" ry="0.65" fill="#80cc5a" opacity="0.8" transform="rotate(88 93.85 21.56)"/>
<ellipse cx="56.52" cy="14.13" rx="0.8" ry="0.65" fill="#80cc5a" opacity="0.95" transform="rotate(106 56.52 14.13)"/>
<ellipse cx="64.45" cy="9.89" rx="0.8" ry="0.55" fill="#b4e494" opacity="0.8" transform="rotate(80 64.45 9.89)"/>
<ellipse cx="56.75" cy="36.12" rx="1.2" ry="0.65" fill="#80cc5a" opacity="0.95" transform="rotate(142 56.75 36.12)"/>
<ellipse cx="25.73" cy="41.63" rx="1.2" ry="0.65" fill="#80cc5a" opacity="0.5" transform="rotate(86 25.73 41.63)"/>
<ellipse cx="105.94" cy="41.99" rx="1.2" ry="0.75" fill="#80cc5a" opacity="0.5" transform="rotate(152 105.94 41.99)"/>
<ellipse cx="58.14" cy="6.34" rx="1" ry="0.75" fill="#80cc5a" opacity="0.95" transform="rotate(142 58.14 6.34)"/>
<ellipse cx="20.74" cy="77.19" rx="0.8" ry="0.65" fill="#80cc5a" opacity="0.8" transform="rotate(168 20.74 77.19)"/>
<ellipse cx="81.75" cy="85.88" rx="0.8" ry="0.75" fill="#8cd468" opacity="0.65" transform="rotate(161 81.75 85.88)"/>
<ellipse cx="15.15" cy="73.91" rx="2.1" ry="0.55" fill="#b4e494" opacity="0.95" transform="rotate(55 15.15 73.91)"/>
<ellipse cx="48.78" cy="31.01" rx="1.5" ry="0.75" fill="#a0dc7c" opacity="0.65" transform="rotate(100 48.78 31.01)"/>
<ellipse cx="100.31" cy="29.21" rx="1.2" ry="0.55" fill="#c8ecac" opacity="0.8" transform="rotate(177 100.31 29.21)"/>
<ellipse cx="20.58" cy="24.21" rx="1.5" ry="0.75" fill="#8cd468" opacity="0.5" transform="rotate(122 20.58 24.21)"/>
<ellipse cx="28.81" cy="25.22" rx="1.2" ry="0.65" fill="#8cd468" opacity="0.5" transform="rotate(108 28.81 25.22)"/>
<ellipse cx="22" cy="84.78" rx="2.1" ry="0.55" fill="#b4e494" opacity="0.8" transform="rotate(45 22 84.78)"/>
<ellipse cx="20.59" cy="40.2" rx="1" ry="0.75" fill="#b4e494" opacity="0.5" transform="rotate(126 20.59 40.2)"/>
<ellipse cx="80.87" cy="92.94" rx="1.5" ry="0.65" fill="#a0dc7c" opacity="0.8" transform="rotate(172 80.87 92.94)"/>
<ellipse cx="53.18" cy="93.79" rx="1.5" ry="0.75" fill="#a0dc7c" opacity="0.5" transform="rotate(85 53.18 93.79)"/>
<ellipse cx="95.53" cy="15.11" rx="1.5" ry="0.75" fill="#c8ecac" opacity="0.95" transform="rotate(54 95.53 15.11)"/>
<ellipse cx="20.45" cy="53.95" rx="1.2" ry="0.55" fill="#c8ecac" opacity="0.65" transform="rotate(95 20.45 53.95)"/>
<ellipse cx="98.38" cy="25.99" rx="2.1" ry="0.75" fill="#c8ecac" opacity="0.5" transform="rotate(35 98.38 25.99)"/>
<ellipse cx="81.77" cy="90.93" rx="0.8" ry="0.65" fill="#a0dc7c" opacity="0.65" transform="rotate(177 81.77 90.93)"/>
<ellipse cx="81.83" cy="86.46" rx="0.8" ry="0.55" fill="#b4e494" opacity="0.65" transform="rotate(145 81.83 86.46)"/>
<ellipse cx="10.9" cy="87.35" rx="0.7" ry="0.65" fill="#a0dc7c" opacity="0.65" transform="rotate(78 10.9 87.35)"/>
<ellipse cx="71.28" cy="31.16" rx="0.7" ry="0.55" fill="#c8ecac" opacity="0.8" transform="rotate(100 71.28 31.16)"/>
<ellipse cx="50.35" cy="96.9" rx="1" ry="0.55" fill="#a0dc7c" opacity="0.8" transform="rotate(48 50.35 96.9)"/>
<ellipse cx="16.93" cy="105.07" rx="1.2" ry="0.65" fill="#a0dc7c" opacity="0.5" transform="rotate(0 16.93 105.07)"/>
<ellipse cx="54.18" cy="11.46" rx="0.7" ry="0.65" fill="#8cd468" opacity="0.5" transform="rotate(166 54.18 11.46)"/>
<ellipse cx="29.18" cy="14.28" rx="1.2" ry="0.75" fill="#b4e494" opacity="0.5" transform="rotate(120 29.18 14.28)"/>
<ellipse cx="103.33" cy="6.25" rx="2.1" ry="0.65" fill="#8cd468" opacity="0.65" transform="rotate(119 103.33 6.25)"/>
<ellipse cx="39.07" cy="30.62" rx="1.5" ry="0.65" fill="#a0dc7c" opacity="0.95" transform="rotate(117 39.07 30.62)"/>
<ellipse cx="98.97" cy="55.29" rx="0.7" ry="0.55" fill="#80cc5a" opacity="0.95" transform="rotate(173 98.97 55.29)"/>
<ellipse cx="74.24" cy="87.21" rx="2.1" ry="0.75" fill="#8cd468" opacity="0.65" transform="rotate(48 74.24 87.21)"/>
<ellipse cx="52.25" cy="43.94" rx="0.8" ry="0.65" fill="#c8ecac" opacity="0.8" transform="rotate(49 52.25 43.94)"/>
<ellipse cx="25.27" cy="65.06" rx="1.5" ry="0.75" fill="#c8ecac" opacity="0.65" transform="rotate(98 25.27 65.06)"/>
<ellipse cx="30.07" cy="69.81" rx="2.1" ry="0.55" fill="#a0dc7c" opacity="0.8" transform="rotate(38 30.07 69.81)"/>
<ellipse cx="47.2" cy="107.64" rx="1" ry="0.65" fill="#80cc5a" opacity="0.8" transform="rotate(36 47.2 107.64)"/>
<ellipse cx="21.55" cy="35.39" rx="1.5" ry="0.65" fill="#b4e494" opacity="0.8" transform="rotate(176 21.55 35.39)"/>
<ellipse cx="31.27" cy="13.32" rx="1.5" ry="0.75" fill="#a0dc7c" opacity="0.8" transform="rotate(104 31.27 13.32)"/>
<ellipse cx="106.59" cy="67.01" rx="1" ry="0.65" fill="#8cd468" opacity="0.65" transform="rotate(73 106.59 67.01)"/>
<ellipse cx="17.37" cy="11.19" rx="1" ry="0.75" fill="#b4e494" opacity="0.8" transform="rotate(123 17.37 11.19)"/>
<ellipse cx="42.77" cy="103.35" rx="2.1" ry="0.75" fill="#a0dc7c" opacity="0.5" transform="rotate(47 42.77 103.35)"/>
<ellipse cx="52.8" cy="88.01" rx="1" ry="0.55" fill="#8cd468" opacity="0.65" transform="rotate(129 52.8 88.01)"/>
<ellipse cx="91.45" cy="98.56" rx="1.2" ry="0.55" fill="#b4e494" opacity="0.5" transform="rotate(78 91.45 98.56)"/>
<ellipse cx="5.33" cy="3.84" rx="2.1" ry="0.75" fill="#8cd468" opacity="0.95" transform="rotate(80 5.33 3.84)"/>
<ellipse cx="6.76" cy="51.06" rx="0.7" ry="0.65" fill="#80cc5a" opacity="0.8" transform="rotate(155 6.76 51.06)"/>
<ellipse cx="31" cy="38.24" rx="1" ry="0.55" fill="#a0dc7c" opacity="0.65" transform="rotate(63 31 38.24)"/>
<ellipse cx="18.2" cy="94.71" rx="1.5" ry="0.55" fill="#c8ecac" opacity="0.8" transform="rotate(144 18.2 94.71)"/>
<ellipse cx="68" cy="60.79" rx="0.7" ry="0.75" fill="#a0dc7c" opacity="0.8" transform="rotate(123 68 60.79)"/>
<ellipse cx="103.05" cy="96.99" rx="0.8" ry="0.65" fill="#80cc5a" opacity="0.8" transform="rotate(54 103.05 96.99)"/>
<ellipse cx="10.57" cy="31.06" rx="1.2" ry="0.75" fill="#80cc5a" opacity="0.95" transform="rotate(146 10.57 31.06)"/>
<ellipse cx="49.84" cy="84.67" rx="1" ry="0.75" fill="#a0dc7c" opacity="0.8" transform="rotate(76 49.84 84.67)"/>
<ellipse cx="50.77" cy="64.4" rx="0.8" ry="0.65" fill="#c8ecac" opacity="0.5" transform="rotate(77 50.77 64.4)"/>
<ellipse cx="12.56" cy="75.97" rx="0.8" ry="0.75" fill="#c8ecac" opacity="0.95" transform="rotate(11 12.56 75.97)"/>
<ellipse cx="34.41" cy="100.49" rx="1.2" ry="0.75" fill="#8cd468" opacity="0.95" transform="rotate(1 34.41 100.49)"/>
<ellipse cx="37.47" cy="37.48" rx="0.7" ry="0.55" fill="#b4e494" opacity="0.95" transform="rotate(1 37.47 37.48)"/>
<ellipse cx="48.12" cy="64.77" rx="1" ry="0.55" fill="#a0dc7c" opacity="0.8" transform="rotate(129 48.12 64.77)"/>
<ellipse cx="59.05" cy="73.41" rx="0.7" ry="0.65" fill="#8cd468" opacity="0.95" transform="rotate(136 59.05 73.41)"/>
<ellipse cx="8.17" cy="2.52" rx="0.8" ry="0.75" fill="#a0dc7c" opacity="0.8" transform="rotate(72 8.17 2.52)"/>
<ellipse cx="2.44" cy="54.75" rx="2.1" ry="0.55" fill="#b4e494" opacity="0.95" transform="rotate(137 2.44 54.75)"/>
<ellipse cx="10.14" cy="95.02" rx="1.2" ry="0.75" fill="#8cd468" opacity="0.8" transform="rotate(110 10.14 95.02)"/>
<ellipse cx="79.45" cy="90.9" rx="1.2" ry="0.75" fill="#c8ecac" opacity="0.8" transform="rotate(90 79.45 90.9)"/>
<ellipse cx="27.99" cy="22.99" rx="0.7" ry="0.75" fill="#b4e494" opacity="0.5" transform="rotate(161 27.99 22.99)"/>
<ellipse cx="75.87" cy="12.06" rx="1" ry="0.55" fill="#80cc5a" opacity="0.8" transform="rotate(80 75.87 12.06)"/>
<ellipse cx="17.96" cy="43.42" rx="1.2" ry="0.55" fill="#c8ecac" opacity="0.95" transform="rotate(153 17.96 43.42)"/>
<ellipse cx="82.21" cy="54.05" rx="1.2" ry="0.65" fill="#b4e494" opacity="0.5" transform="rotate(13 82.21 54.05)"/>
<ellipse cx="27.01" cy="36.85" rx="0.7" ry="0.55" fill="#80cc5a" opacity="0.5" transform="rotate(122 27.01 36.85)"/>
<ellipse cx="24.81" cy="39.05" rx="0.7" ry="0.65" fill="#8cd468" opacity="0.65" transform="rotate(128 24.81 39.05)"/>
<ellipse cx="107.58" cy="66.05" rx="0.7" ry="0.75" fill="#c8ecac" opacity="0.65" transform="rotate(160 107.58 66.05)"/>
<ellipse cx="95.14" cy="72.32" rx="0.8" ry="0.75" fill="#b4e494" opacity="0.65" transform="rotate(60 95.14 72.32)"/>
<ellipse cx="61.86" cy="38.74" rx="0.7" ry="0.75" fill="#c8ecac" opacity="0.65" transform="rotate(69 61.86 38.74)"/>
<ellipse cx="98.75" cy="43.17" rx="1" ry="0.55" fill="#c8ecac" opacity="0.65" transform="rotate(161 98.75 43.17)"/>
<ellipse cx="59.82" cy="43" rx="1.2" ry="0.75" fill="#80cc5a" opacity="0.95" transform="rotate(39 59.82 43)"/>
<ellipse cx="19.63" cy="75.52" rx="2.1" ry="0.75" fill="#b4e494" opacity="0.65" transform="rotate(116 19.63 75.52)"/>
<ellipse cx="34.17" cy="17.56" rx="0.7" ry="0.75" fill="#c8ecac" opacity="0.65" transform="rotate(54 34.17 17.56)"/>
<ellipse cx="30.32" cy="4.33" rx="0.8" ry="0.55" fill="#b4e494" opacity="0.8" transform="rotate(24 30.32 4.33)"/>
<ellipse cx="79.66" cy="51.13" rx="0.7" ry="0.55" fill="#a0dc7c" opacity="0.65" transform="rotate(141 79.66 51.13)"/>
<ellipse cx="11.35" cy="106.22" rx="1.2" ry="0.75" fill="#a0dc7c" opacity="0.95" transform="rotate(26 11.35 106.22)"/>
<ellipse cx="71" cy="23.09" rx="1" ry="0.65" fill="#a0dc7c" opacity="0.95" transform="rotate(168 71 23.09)"/>
<ellipse cx="11.05" cy="62.92" rx="1.5" ry="0.55" fill="#80cc5a" opacity="0.8" transform="rotate(145 11.05 62.92)"/>
<ellipse cx="101.44" cy="102.21" rx="0.8" ry="0.65" fill="#c8ecac" opacity="0.5" transform="rotate(157 101.44 102.21)"/>
<ellipse cx="7.21" cy="45.08" rx="1.5" ry="0.75" fill="#80cc5a" opacity="0.65" transform="rotate(178 7.21 45.08)"/>
<ellipse cx="98.37" cy="56.92" rx="1.2" ry="0.65" fill="#a0dc7c" opacity="0.65" transform="rotate(99 98.37 56.92)"/>
<ellipse cx="101.46" cy="93.67" rx="1.5" ry="0.65" fill="#8cd468" opacity="0.65" transform="rotate(80 101.46 93.67)"/>
<ellipse cx="20.32" cy="22.96" rx="1.2" ry="0.75" fill="#80cc5a" opacity="0.8" transform="rotate(111 20.32 22.96)"/>
<ellipse cx="47.43" cy="88.71" rx="2.1" ry="0.65" fill="#a0dc7c" opacity="0.8" transform="rotate(125 47.43 88.71)"/>
<ellipse cx="88.17" cy="95.81" rx="1" ry="0.65" fill="#c8ecac" opacity="0.5" transform="rotate(177 88.17 95.81)"/>
<ellipse cx="2.76" cy="62.52" rx="0.7" ry="0.65" fill="#8cd468" opacity="0.95" transform="rotate(163 2.76 62.52)"/>
<ellipse cx="40.95" cy="53.34" rx="2.1" ry="0.55" fill="#a0dc7c" opacity="0.65" transform="rotate(85 40.95 53.34)"/>
<ellipse cx="9.07" cy="65.03" rx="0.8" ry="0.75" fill="#c8ecac" opacity="0.65" transform="rotate(167 9.07 65.03)"/>
<ellipse cx="30.39" cy="29.61" rx="2.1" ry="0.65" fill="#b4e494" opacity="0.8" transform="rotate(9 30.39 29.61)"/>
<ellipse cx="62.44" cy="35.78" rx="0.7" ry="0.65" fill="#c8ecac" opacity="0.65" transform="rotate(12 62.44 35.78)"/>
<ellipse cx="86.71" cy="81.95" rx="1" ry="0.55" fill="#a0dc7c" opacity="0.65" transform="rotate(87 86.71 81.95)"/>
<ellipse cx="46.85" cy="102.37" rx="0.7" ry="0.75" fill="#8cd468" opacity="0.8" transform="rotate(107 46.85 102.37)"/>
<ellipse cx="13.46" cy="52.1" rx="2.1" ry="0.75" fill="#c8ecac" opacity="0.95" transform="rotate(171 13.46 52.1)"/>
<ellipse cx="98.91" cy="16.5" rx="1.5" ry="0.65" fill="#b4e494" opacity="0.95" transform="rotate(95 98.91 16.5)"/>
<ellipse cx="30.21" cy="91.91" rx="1.2" ry="0.75" fill="#a0dc7c" opacity="0.8" transform="rotate(135 30.21 91.91)"/>
<ellipse cx="92.89" cy="53.82" rx="0.8" ry="0.65" fill="#a0dc7c" opacity="0.95" transform="rotate(13 92.89 53.82)"/>
<ellipse cx="55.74" cy="69.42" rx="0.8" ry="0.55" fill="#b4e494" opacity="0.8" transform="rotate(48 55.74 69.42)"/>
<ellipse cx="55.91" cy="38.6" rx="0.8" ry="0.55" fill="#80cc5a" opacity="0.65" transform="rotate(174 55.91 38.6)"/>
<ellipse cx="69.84" cy="5.84" rx="2.1" ry="0.75" fill="#80cc5a" opacity="0.8" transform="rotate(6 69.84 5.84)"/>
<ellipse cx="42.57" cy="74.19" rx="0.8" ry="0.55" fill="#c8ecac" opacity="0.65" transform="rotate(21 42.57 74.19)"/>
<ellipse cx="62.63" cy="92.55" rx="1" ry="0.65" fill="#c8ecac" opacity="0.95" transform="rotate(36 62.63 92.55)"/>
<ellipse cx="13.62" cy="31.78" rx="2.1" ry="0.55" fill="#b4e494" opacity="0.95" transform="rotate(101 13.62 31.78)"/>
<ellipse cx="22.8" cy="24.27" rx="2.1" ry="0.65" fill="#80cc5a" opacity="0.65" transform="rotate(176 22.8 24.27)"/>
<ellipse cx="30.8" cy="61.82" rx="1" ry="0.65" fill="#b4e494" opacity="0.5" transform="rotate(108 30.8 61.82)"/>
<ellipse cx="83.04" cy="3.2" rx="2.1" ry="0.65" fill="#a0dc7c" opacity="0.65" transform="rotate(33 83.04 3.2)"/>
<ellipse cx="67.13" cy="40.15" rx="1.2" ry="0.55" fill="#8cd468" opacity="0.5" transform="rotate(133 67.13 40.15)"/>
<ellipse cx="32.86" cy="100.55" rx="2.1" ry="0.75" fill="#80cc5a" opacity="0.95" transform="rotate(47 32.86 100.55)"/>
<ellipse cx="55.94" cy="93.6" rx="1.5" ry="0.75" fill="#8cd468" opacity="0.95" transform="rotate(110 55.94 93.6)"/>
<ellipse cx="22.26" cy="36.7" rx="0.8" ry="0.65" fill="#b4e494" opacity="0.8" transform="rotate(90 22.26 36.7)"/>
<ellipse cx="23.72" cy="50.54" rx="1.5" ry="0.55" fill="#c8ecac" opacity="0.8" transform="rotate(64 23.72 50.54)"/>
<ellipse cx="32.17" cy="8.15" rx="1" ry="0.75" fill="#a0dc7c" opacity="0.95" transform="rotate(152 32.17 8.15)"/>
<ellipse cx="92.12" cy="30.69" rx="0.7" ry="0.55" fill="#a0dc7c" opacity="0.65" transform="rotate(28 92.12 30.69)"/>
<ellipse cx="102.98" cy="106.78" rx="0.7" ry="0.65" fill="#c8ecac" opacity="0.65" transform="rotate(101 102.98 106.78)"/>
<ellipse cx="83.96" cy="49.03" rx="1" ry="0.75" fill="#80cc5a" opacity="0.95" transform="rotate(101 83.96 49.03)"/>
<ellipse cx="39.64" cy="48.94" rx="0.8" ry="0.75" fill="#b4e494" opacity="0.95" transform="rotate(16 39.64 48.94)"/>
<ellipse cx="14.32" cy="55.81" rx="0.8" ry="0.65" fill="#b4e494" opacity="0.5" transform="rotate(36 14.32 55.81)"/>
<ellipse cx="87.1" cy="47.27" rx="1.5" ry="0.65" fill="#a0dc7c" opacity="0.65" transform="rotate(172 87.1 47.27)"/>
<ellipse cx="105.05" cy="96.11" rx="1" ry="0.65" fill="#b4e494" opacity="0.8" transform="rotate(30 105.05 96.11)"/>
<ellipse cx="16.02" cy="86.08" rx="1" ry="0.55" fill="#a0dc7c" opacity="0.8" transform="rotate(70 16.02 86.08)"/>
<ellipse cx="59.75" cy="77.31" rx="1.2" ry="0.55" fill="#b4e494" opacity="0.65" transform="rotate(166 59.75 77.31)"/>
<ellipse cx="9.96" cy="49.4" rx="0.8" ry="0.75" fill="#80cc5a" opacity="0.65" transform="rotate(94 9.96 49.4)"/>
<ellipse cx="32.24" cy="101.66" rx="1.2" ry="0.55" fill="#a0dc7c" opacity="0.95" transform="rotate(137 32.24 101.66)"/>
<ellipse cx="7.88" cy="22.17" rx="2.1" ry="0.75" fill="#a0dc7c" opacity="0.5" transform="rotate(150 7.88 22.17)"/>
<ellipse cx="44.99" cy="16.19" rx="1.5" ry="0.65" fill="#a0dc7c" opacity="0.95" transform="rotate(44 44.99 16.19)"/>
<ellipse cx="26.15" cy="106.77" rx="1.5" ry="0.55" fill="#80cc5a" opacity="0.95" transform="rotate(94 26.15 106.77)"/>
<ellipse cx="70.01" cy="9.75" rx="1" ry="0.75" fill="#a0dc7c" opacity="0.5" transform="rotate(60 70.01 9.75)"/>
<ellipse cx="35.78" cy="42.95" rx="1.2" ry="0.75" fill="#8cd468" opacity="0.5" transform="rotate(142 35.78 42.95)"/>
<ellipse cx="37.86" cy="95.8" rx="0.8" ry="0.55" fill="#a0dc7c" opacity="0.95" transform="rotate(136 37.86 95.8)"/>
<ellipse cx="4.64" cy="63.57" rx="0.8" ry="0.75" fill="#80cc5a" opacity="0.5" transform="rotate(125 4.64 63.57)"/>
<ellipse cx="27.22" cy="19.33" rx="2.1" ry="0.55" fill="#8cd468" opacity="0.8" transform="rotate(2 27.22 19.33)"/>
<ellipse cx="59.5" cy="30.73" rx="0.8" ry="0.65" fill="#c8ecac" opacity="0.8" transform="rotate(5 59.5 30.73)"/>
<ellipse cx="34.78" cy="67.07" rx="1" ry="0.75" fill="#8cd468" opacity="0.5" transform="rotate(0 34.78 67.07)"/>
<ellipse cx="102.63" cy="7.22" rx="0.8" ry="0.55" fill="#a0dc7c" opacity="0.5" transform="rotate(81 102.63 7.22)"/>
<ellipse cx="68.39" cy="53.27" rx="1.2" ry="0.65" fill="#c8ecac" opacity="0.5" transform="rotate(142 68.39 53.27)"/>
<ellipse cx="43.94" cy="107.12" rx="1.2" ry="0.75" fill="#b4e494" opacity="0.8" transform="rotate(0 43.94 107.12)"/>
<ellipse cx="34.85" cy="79.96" rx="1.2" ry="0.65" fill="#b4e494" opacity="0.65" transform="rotate(103 34.85 79.96)"/>
<ellipse cx="104.33" cy="99.24" rx="1.5" ry="0.65" fill="#8cd468" opacity="0.65" transform="rotate(21 104.33 99.24)"/>
<ellipse cx="40.61" cy="38.07" rx="1.5" ry="0.75" fill="#80cc5a" opacity="0.65" transform="rotate(84 40.61 38.07)"/>
<ellipse cx="23.64" cy="44.9" rx="0.7" ry="0.65" fill="#a0dc7c" opacity="0.5" transform="rotate(68 23.64 44.9)"/>
<ellipse cx="105.73" cy="90.29" rx="0.8" ry="0.65" fill="#80cc5a" opacity="0.95" transform="rotate(142 105.73 90.29)"/>
<ellipse cx="60.82" cy="65.2" rx="1.2" ry="0.65" fill="#c8ecac" opacity="0.65" transform="rotate(50 60.82 65.2)"/>
<ellipse cx="107.8" cy="5.21" rx="0.8" ry="0.55" fill="#b4e494" opacity="0.5" transform="rotate(9 107.8 5.21)"/>
<ellipse cx="52.61" cy="54.88" rx="1" ry="0.55" fill="#a0dc7c" opacity="0.95" transform="rotate(23 52.61 54.88)"/>
<ellipse cx="26.42" cy="96.22" rx="0.7" ry="0.65" fill="#80cc5a" opacity="0.65" transform="rotate(58 26.42 96.22)"/>
</g></g>
<g transform="translate(87.35 411.1)">
<rect x="0" y="0" width="109.55" height="109.7" fill="#020202"/>
<g clip-path="url(#cp10)" filter="url(#soft3)">
<ellipse cx="16.09" cy="4.53" rx="1.36" ry="1.17" fill="#3153cc" opacity="0.34"/>
<ellipse cx="34.53" cy="2.01" rx="1.36" ry="1.17" fill="#3153cc" opacity="0.39"/>
<ellipse cx="46.27" cy="5.36" rx="1.36" ry="1.17" fill="#3153cc" opacity="0.44"/>
<ellipse cx="78.96" cy="10.39" rx="1.36" ry="1.17" fill="#3153cc" opacity="0.43"/>
<ellipse cx="11.06" cy="24.64" rx="1.36" ry="1.17" fill="#3153cc" opacity="0.43"/>
<ellipse cx="21.12" cy="22.97" rx="1.36" ry="1.17" fill="#3153cc" opacity="0.38"/>
<ellipse cx="28.67" cy="19.61" rx="1.36" ry="1.17" fill="#3153cc" opacity="0.44"/>
<ellipse cx="33.7" cy="24.64" rx="1.36" ry="1.17" fill="#3153cc" opacity="0.4"/>
<ellipse cx="13.58" cy="33.03" rx="1.66" ry="1.43" fill="#3153cc" opacity="0.38"/>
<ellipse cx="16.09" cy="41.41" rx="1.58" ry="1.37" fill="#3153cc" opacity="0.43"/>
<ellipse cx="54.65" cy="35.54" rx="1.36" ry="1.17" fill="#3153cc" opacity="0.32"/>
<ellipse cx="85.67" cy="28" rx="1.36" ry="1.17" fill="#3153cc" opacity="0.46"/>
<ellipse cx="102.43" cy="24.64" rx="1.36" ry="1.17" fill="#3153cc" opacity="0.47"/>
<ellipse cx="99.08" cy="37.22" rx="1.36" ry="1.17" fill="#3153cc" opacity="0.37"/>
<ellipse cx="83.15" cy="38.89" rx="1.36" ry="1.17" fill="#3153cc" opacity="0.37"/>
<ellipse cx="76.45" cy="48.95" rx="1.58" ry="1.37" fill="#3153cc" opacity="0.48"/>
<ellipse cx="32.02" cy="54.82" rx="1.36" ry="1.17" fill="#3153cc" opacity="0.35"/>
<ellipse cx="38.73" cy="53.98" rx="1.36" ry="1.17" fill="#3153cc" opacity="0.34"/>
<ellipse cx="51.3" cy="56.5" rx="1.36" ry="1.17" fill="#3153cc" opacity="0.35"/>
<ellipse cx="79.8" cy="60.69" rx="1.36" ry="1.17" fill="#3153cc" opacity="0.37"/>
<ellipse cx="69.74" cy="65.72" rx="1.36" ry="1.17" fill="#3153cc" opacity="0.42"/>
<ellipse cx="45.43" cy="69.91" rx="1.36" ry="1.17" fill="#3153cc" opacity="0.47"/>
<ellipse cx="29.51" cy="74.94" rx="1.36" ry="1.17" fill="#3153cc" opacity="0.35"/>
<ellipse cx="92.37" cy="67.39" rx="1.36" ry="1.17" fill="#3153cc" opacity="0.47"/>
<ellipse cx="11.06" cy="83.32" rx="1.36" ry="1.17" fill="#3153cc" opacity="0.4"/>
<ellipse cx="59.68" cy="83.32" rx="1.36" ry="1.17" fill="#3153cc" opacity="0.46"/>
<ellipse cx="89.02" cy="85" rx="1.58" ry="1.37" fill="#3153cc" opacity="0.49"/>
<ellipse cx="104.95" cy="84.16" rx="1.36" ry="1.17" fill="#3153cc" opacity="0.34"/>
<ellipse cx="37.05" cy="95.89" rx="1.36" ry="1.17" fill="#3153cc" opacity="0.42"/>
<ellipse cx="56.33" cy="98.41" rx="1.36" ry="1.17" fill="#3153cc" opacity="0.34"/>
<ellipse cx="71.42" cy="96.73" rx="1.36" ry="1.17" fill="#3153cc" opacity="0.32"/>
<ellipse cx="47.95" cy="106.79" rx="1.36" ry="1.17" fill="#3153cc" opacity="0.38"/>
<ellipse cx="58.84" cy="107.63" rx="1.36" ry="1.17" fill="#3153cc" opacity="0.44"/>
<ellipse cx="89.02" cy="106.79" rx="1.36" ry="1.17" fill="#3153cc" opacity="0.41"/>
<ellipse cx="106.62" cy="105.95" rx="1.36" ry="1.17" fill="#3153cc" opacity="0.35"/>
<ellipse cx="2.68" cy="90.86" rx="1.36" ry="1.17" fill="#3153cc" opacity="0.45"/>
</g></g>
<g transform="translate(201.2 411.1)">
<rect x="0" y="0" width="109.7" height="109.7" fill="#020202"/>
<g clip-path="url(#cp11)" filter="url(#soft3)">
<ellipse cx="10.39" cy="2.85" rx="1.81" ry="1.56" fill="#3153cc" opacity="0.77"/>
<ellipse cx="22.97" cy="33.86" rx="2.33" ry="2.01" fill="#3153cc" opacity="0.86"/>
<ellipse cx="29.67" cy="55.66" rx="2.4" ry="2.08" fill="#3153cc" opacity="1"/>
<ellipse cx="35.54" cy="55.66" rx="1.73" ry="1.5" fill="#3153cc" opacity="0.8"/>
<ellipse cx="35.54" cy="47.28" rx="1.73" ry="1.5" fill="#3153cc" opacity="0.73"/>
<ellipse cx="3.69" cy="53.98" rx="2.11" ry="1.82" fill="#3153cc" opacity="0.87"/>
<ellipse cx="2.01" cy="76.61" rx="1.81" ry="1.56" fill="#3153cc" opacity="0.71"/>
<ellipse cx="0.8" cy="71.58" rx="1.36" ry="1.17" fill="#3153cc" opacity="0.58"/>
<ellipse cx="44.76" cy="17.94" rx="1.36" ry="1.17" fill="#3153cc" opacity="0.59"/>
<ellipse cx="38.89" cy="24.64" rx="1.36" ry="1.17" fill="#3153cc" opacity="0.65"/>
<ellipse cx="33.86" cy="28.83" rx="1.36" ry="1.17" fill="#3153cc" opacity="0.58"/>
<ellipse cx="58.17" cy="26.32" rx="1.36" ry="1.17" fill="#3153cc" opacity="0.7"/>
<ellipse cx="56.5" cy="50.63" rx="1.66" ry="1.43" fill="#3153cc" opacity="0.64"/>
<ellipse cx="56.5" cy="59.85" rx="1.36" ry="1.17" fill="#3153cc" opacity="0.57"/>
<ellipse cx="59.85" cy="64.88" rx="1.58" ry="1.37" fill="#3153cc" opacity="0.62"/>
<ellipse cx="77.45" cy="28" rx="1.36" ry="1.17" fill="#3153cc" opacity="0.66"/>
<ellipse cx="88.35" cy="25.48" rx="1.36" ry="1.17" fill="#3153cc" opacity="0.6"/>
<ellipse cx="82.48" cy="33.86" rx="1.58" ry="1.37" fill="#3153cc" opacity="0.68"/>
<ellipse cx="79.13" cy="38.06" rx="1.36" ry="1.17" fill="#3153cc" opacity="0.59"/>
<ellipse cx="89.19" cy="51.47" rx="1.36" ry="1.17" fill="#3153cc" opacity="0.64"/>
<ellipse cx="105.11" cy="46.44" rx="1.36" ry="1.17" fill="#3153cc" opacity="0.61"/>
<ellipse cx="107.63" cy="12.91" rx="1.36" ry="1.17" fill="#3153cc" opacity="0.57"/>
<ellipse cx="103.44" cy="66.55" rx="1.66" ry="1.43" fill="#3153cc" opacity="0.7"/>
<ellipse cx="107.63" cy="67.39" rx="1.36" ry="1.17" fill="#3153cc" opacity="0.59"/>
<ellipse cx="75.78" cy="70.75" rx="1.36" ry="1.17" fill="#3153cc" opacity="0.56"/>
<ellipse cx="88.35" cy="75.78" rx="1.66" ry="1.43" fill="#3153cc" opacity="0.76"/>
<ellipse cx="89.19" cy="86.67" rx="1.81" ry="1.56" fill="#3153cc" opacity="0.78"/>
<ellipse cx="85.83" cy="85.83" rx="1.36" ry="1.17" fill="#3153cc" opacity="0.65"/>
<ellipse cx="95.05" cy="90.86" rx="1.36" ry="1.17" fill="#3153cc" opacity="0.68"/>
<ellipse cx="48.11" cy="90.03" rx="1.36" ry="1.17" fill="#3153cc" opacity="0.6"/>
<ellipse cx="42.25" cy="92.54" rx="1.36" ry="1.17" fill="#3153cc" opacity="0.6"/>
<ellipse cx="62.36" cy="95.05" rx="1.66" ry="1.43" fill="#3153cc" opacity="0.7"/>
<ellipse cx="65.72" cy="95.89" rx="1.36" ry="1.17" fill="#3153cc" opacity="0.61"/>
<ellipse cx="16.26" cy="95.05" rx="1.36" ry="1.17" fill="#3153cc" opacity="0.65"/>
<ellipse cx="48.11" cy="105.95" rx="1.66" ry="1.43" fill="#3153cc" opacity="0.63"/>
<ellipse cx="59.01" cy="105.95" rx="1.36" ry="1.17" fill="#3153cc" opacity="0.62"/>
<ellipse cx="86.67" cy="100.08" rx="1.58" ry="1.37" fill="#3153cc" opacity="0.69"/>
<ellipse cx="89.19" cy="103.44" rx="1.58" ry="1.37" fill="#3153cc" opacity="0.66"/>
<ellipse cx="92.54" cy="105.95" rx="1.36" ry="1.17" fill="#3153cc" opacity="0.54"/>
<ellipse cx="43.08" cy="107.63" rx="1.36" ry="1.17" fill="#3153cc" opacity="0.65"/>
</g></g>
<g transform="translate(315.2 411.1)">
<rect x="0" y="0" width="109.2" height="109.7" fill="#020202"/>
<g clip-path="url(#cp12)" filter="url(#soft3)">
<ellipse cx="29" cy="2.85" rx="1.36" ry="1.17" fill="#3153cc" opacity="0.43"/>
<ellipse cx="22.3" cy="18.78" rx="1.73" ry="1.5" fill="#3153cc" opacity="0.6"/>
<ellipse cx="34.03" cy="25.48" rx="1.36" ry="1.17" fill="#3153cc" opacity="0.44"/>
<ellipse cx="37.38" cy="27.16" rx="1.36" ry="1.17" fill="#3153cc" opacity="0.52"/>
<ellipse cx="54.99" cy="22.13" rx="1.58" ry="1.37" fill="#3153cc" opacity="0.56"/>
<ellipse cx="58.34" cy="22.97" rx="1.36" ry="1.17" fill="#3153cc" opacity="0.47"/>
<ellipse cx="79.3" cy="11.23" rx="1.36" ry="1.17" fill="#3153cc" opacity="0.51"/>
<ellipse cx="75.1" cy="18.78" rx="1.36" ry="1.17" fill="#3153cc" opacity="0.5"/>
<ellipse cx="77.62" cy="18.78" rx="1.36" ry="1.17" fill="#3153cc" opacity="0.42"/>
<ellipse cx="69.24" cy="30.51" rx="1.36" ry="1.17" fill="#3153cc" opacity="0.49"/>
<ellipse cx="28.16" cy="40.57" rx="1.36" ry="1.17" fill="#3153cc" opacity="0.51"/>
<ellipse cx="33.19" cy="38.89" rx="1.73" ry="1.5" fill="#3153cc" opacity="0.58"/>
<ellipse cx="2.18" cy="42.25" rx="1.36" ry="1.17" fill="#3153cc" opacity="0.55"/>
<ellipse cx="64.21" cy="46.44" rx="1.36" ry="1.17" fill="#3153cc" opacity="0.53"/>
<ellipse cx="91.03" cy="48.95" rx="2.26" ry="1.95" fill="#3153cc" opacity="0.68"/>
<ellipse cx="96.06" cy="48.11" rx="1.36" ry="1.17" fill="#3153cc" opacity="0.45"/>
<ellipse cx="102.77" cy="42.25" rx="1.66" ry="1.43" fill="#3153cc" opacity="0.5"/>
<ellipse cx="100.25" cy="47.28" rx="1.36" ry="1.17" fill="#3153cc" opacity="0.54"/>
<ellipse cx="27.33" cy="52.31" rx="1.36" ry="1.17" fill="#3153cc" opacity="0.52"/>
<ellipse cx="13.91" cy="59.01" rx="1.36" ry="1.17" fill="#3153cc" opacity="0.51"/>
<ellipse cx="18.11" cy="64.88" rx="1.73" ry="1.5" fill="#3153cc" opacity="0.57"/>
<ellipse cx="46.61" cy="66.55" rx="1.58" ry="1.37" fill="#3153cc" opacity="0.54"/>
<ellipse cx="74.27" cy="59.85" rx="2.03" ry="1.75" fill="#3153cc" opacity="0.6"/>
<ellipse cx="101.93" cy="61.53" rx="1.36" ry="1.17" fill="#3153cc" opacity="0.49"/>
<ellipse cx="106.12" cy="71.58" rx="2.26" ry="1.95" fill="#3153cc" opacity="0.64"/>
<ellipse cx="50.8" cy="76.61" rx="1.36" ry="1.17" fill="#3153cc" opacity="0.51"/>
<ellipse cx="60.02" cy="75.78" rx="1.58" ry="1.37" fill="#3153cc" opacity="0.56"/>
<ellipse cx="71.75" cy="79.13" rx="1.36" ry="1.17" fill="#3153cc" opacity="0.52"/>
<ellipse cx="33.19" cy="79.13" rx="1.36" ry="1.17" fill="#3153cc" opacity="0.45"/>
<ellipse cx="38.22" cy="82.48" rx="1.58" ry="1.37" fill="#3153cc" opacity="0.48"/>
<ellipse cx="8.05" cy="79.97" rx="1.73" ry="1.5" fill="#3153cc" opacity="0.55"/>
<ellipse cx="3.02" cy="88.35" rx="1.36" ry="1.17" fill="#3153cc" opacity="0.52"/>
<ellipse cx="83.49" cy="80.8" rx="1.36" ry="1.17" fill="#3153cc" opacity="0.49"/>
<ellipse cx="86.84" cy="78.29" rx="1.36" ry="1.17" fill="#3153cc" opacity="0.53"/>
<ellipse cx="95.22" cy="76.61" rx="1.36" ry="1.17" fill="#3153cc" opacity="0.48"/>
<ellipse cx="15.59" cy="101.76" rx="1.36" ry="1.17" fill="#3153cc" opacity="0.47"/>
<ellipse cx="85.16" cy="104.27" rx="1.36" ry="1.17" fill="#3153cc" opacity="0.56"/>
<ellipse cx="100.25" cy="99.25" rx="1.36" ry="1.17" fill="#3153cc" opacity="0.44"/>
</g></g>
<g transform="translate(428.8 411.1)">
<rect x="0" y="0" width="109.1" height="109.7" fill="#020202"/>
<g clip-path="url(#cp13)" filter="url(#soft3)">
<ellipse cx="5.7" cy="2.01" rx="1.36" ry="1.17" fill="#3153cc" opacity="0.65"/>
<ellipse cx="12.41" cy="5.36" rx="1.36" ry="1.17" fill="#3153cc" opacity="0.56"/>
<ellipse cx="60.18" cy="2.01" rx="1.36" ry="1.17" fill="#3153cc" opacity="0.6"/>
<ellipse cx="61.02" cy="11.23" rx="1.36" ry="1.17" fill="#3153cc" opacity="0.61"/>
<ellipse cx="71.92" cy="12.91" rx="1.36" ry="1.17" fill="#3153cc" opacity="0.52"/>
<ellipse cx="81.98" cy="8.72" rx="1.36" ry="1.17" fill="#3153cc" opacity="0.5"/>
<ellipse cx="81.98" cy="15.42" rx="1.58" ry="1.37" fill="#3153cc" opacity="0.65"/>
<ellipse cx="83.65" cy="22.13" rx="1.36" ry="1.17" fill="#3153cc" opacity="0.51"/>
<ellipse cx="103.77" cy="23.81" rx="1.36" ry="1.17" fill="#3153cc" opacity="0.55"/>
<ellipse cx="6.54" cy="19.61" rx="1.36" ry="1.17" fill="#3153cc" opacity="0.63"/>
<ellipse cx="24.14" cy="17.1" rx="1.36" ry="1.17" fill="#3153cc" opacity="0.63"/>
<ellipse cx="13.24" cy="26.32" rx="1.66" ry="1.43" fill="#3153cc" opacity="0.59"/>
<ellipse cx="4.86" cy="29.67" rx="1.58" ry="1.37" fill="#3153cc" opacity="0.56"/>
<ellipse cx="9.05" cy="36.38" rx="1.36" ry="1.17" fill="#3153cc" opacity="0.52"/>
<ellipse cx="34.2" cy="29.67" rx="1.36" ry="1.17" fill="#3153cc" opacity="0.62"/>
<ellipse cx="26.66" cy="33.03" rx="1.36" ry="1.17" fill="#3153cc" opacity="0.49"/>
<ellipse cx="62.7" cy="23.81" rx="1.36" ry="1.17" fill="#3153cc" opacity="0.52"/>
<ellipse cx="58.51" cy="28" rx="1.36" ry="1.17" fill="#3153cc" opacity="0.51"/>
<ellipse cx="51.8" cy="33.86" rx="1.36" ry="1.17" fill="#3153cc" opacity="0.51"/>
<ellipse cx="20.79" cy="43.92" rx="1.36" ry="1.17" fill="#3153cc" opacity="0.57"/>
<ellipse cx="45.93" cy="48.11" rx="1.66" ry="1.43" fill="#3153cc" opacity="0.6"/>
<ellipse cx="65.21" cy="46.44" rx="1.36" ry="1.17" fill="#3153cc" opacity="0.55"/>
<ellipse cx="80.3" cy="42.25" rx="1.96" ry="1.69" fill="#3153cc" opacity="0.77"/>
<ellipse cx="92.88" cy="38.06" rx="1.36" ry="1.17" fill="#3153cc" opacity="0.6"/>
<ellipse cx="93.71" cy="41.41" rx="1.36" ry="1.17" fill="#3153cc" opacity="0.56"/>
<ellipse cx="95.39" cy="48.95" rx="1.36" ry="1.17" fill="#3153cc" opacity="0.61"/>
<ellipse cx="29.17" cy="53.14" rx="1.66" ry="1.43" fill="#3153cc" opacity="0.66"/>
<ellipse cx="27.49" cy="57.33" rx="1.58" ry="1.37" fill="#3153cc" opacity="0.68"/>
<ellipse cx="28.33" cy="60.69" rx="1.58" ry="1.37" fill="#3153cc" opacity="0.59"/>
<ellipse cx="30.85" cy="62.36" rx="1.36" ry="1.17" fill="#3153cc" opacity="0.55"/>
<ellipse cx="37.55" cy="61.53" rx="1.36" ry="1.17" fill="#3153cc" opacity="0.58"/>
<ellipse cx="9.05" cy="60.69" rx="1.88" ry="1.62" fill="#3153cc" opacity="0.78"/>
<ellipse cx="54.32" cy="59.01" rx="1.66" ry="1.43" fill="#3153cc" opacity="0.67"/>
<ellipse cx="57.67" cy="56.5" rx="1.36" ry="1.17" fill="#3153cc" opacity="0.56"/>
<ellipse cx="64.38" cy="55.66" rx="1.66" ry="1.43" fill="#3153cc" opacity="0.61"/>
<ellipse cx="73.6" cy="57.33" rx="1.36" ry="1.17" fill="#3153cc" opacity="0.53"/>
<ellipse cx="60.18" cy="64.88" rx="1.36" ry="1.17" fill="#3153cc" opacity="0.52"/>
<ellipse cx="26.66" cy="66.55" rx="1.36" ry="1.17" fill="#3153cc" opacity="0.65"/>
<ellipse cx="89.52" cy="64.88" rx="1.58" ry="1.37" fill="#3153cc" opacity="0.69"/>
<ellipse cx="92.04" cy="65.72" rx="1.36" ry="1.17" fill="#3153cc" opacity="0.63"/>
<ellipse cx="47.61" cy="70.75" rx="1.66" ry="1.43" fill="#3153cc" opacity="0.65"/>
<ellipse cx="46.77" cy="74.1" rx="1.36" ry="1.17" fill="#3153cc" opacity="0.6"/>
<ellipse cx="15.76" cy="82.48" rx="1.36" ry="1.17" fill="#3153cc" opacity="0.54"/>
<ellipse cx="14.92" cy="86.67" rx="1.36" ry="1.17" fill="#3153cc" opacity="0.57"/>
<ellipse cx="8.21" cy="88.35" rx="1.36" ry="1.17" fill="#3153cc" opacity="0.51"/>
<ellipse cx="28.33" cy="90.03" rx="1.36" ry="1.17" fill="#3153cc" opacity="0.56"/>
<ellipse cx="75.27" cy="85" rx="1.36" ry="1.17" fill="#3153cc" opacity="0.53"/>
<ellipse cx="84.49" cy="78.29" rx="1.36" ry="1.17" fill="#3153cc" opacity="0.5"/>
<ellipse cx="93.71" cy="79.97" rx="1.36" ry="1.17" fill="#3153cc" opacity="0.64"/>
<ellipse cx="102.93" cy="77.45" rx="1.36" ry="1.17" fill="#3153cc" opacity="0.5"/>
<ellipse cx="50.96" cy="94.22" rx="1.36" ry="1.17" fill="#3153cc" opacity="0.62"/>
<ellipse cx="48.45" cy="98.41" rx="1.36" ry="1.17" fill="#3153cc" opacity="0.6"/>
<ellipse cx="14.08" cy="101.76" rx="1.58" ry="1.37" fill="#3153cc" opacity="0.56"/>
<ellipse cx="14.08" cy="104.27" rx="1.36" ry="1.17" fill="#3153cc" opacity="0.57"/>
<ellipse cx="59.35" cy="103.44" rx="1.36" ry="1.17" fill="#3153cc" opacity="0.65"/>
</g></g>
<g transform="translate(542.1 411.1)">
<rect x="0" y="0" width="109.8" height="109.7" fill="#020202"/>
<g clip-path="url(#cp14)" filter="url(#soft3)">
<ellipse cx="30.95" cy="5.36" rx="1.36" ry="1.17" fill="#3153cc" opacity="0.67"/>
<ellipse cx="35.98" cy="4.53" rx="1.36" ry="1.17" fill="#3153cc" opacity="0.65"/>
<ellipse cx="43.52" cy="17.1" rx="2.03" ry="1.75" fill="#3153cc" opacity="0.82"/>
<ellipse cx="35.14" cy="20.45" rx="1.36" ry="1.17" fill="#3153cc" opacity="0.55"/>
<ellipse cx="31.79" cy="18.78" rx="1.36" ry="1.17" fill="#3153cc" opacity="0.57"/>
<ellipse cx="67.83" cy="19.61" rx="1.36" ry="1.17" fill="#3153cc" opacity="0.63"/>
<ellipse cx="67.83" cy="26.32" rx="1.36" ry="1.17" fill="#3153cc" opacity="0.64"/>
<ellipse cx="89.62" cy="25.48" rx="1.36" ry="1.17" fill="#3153cc" opacity="0.52"/>
<ellipse cx="95.49" cy="30.51" rx="1.36" ry="1.17" fill="#3153cc" opacity="0.54"/>
<ellipse cx="103.03" cy="28" rx="1.36" ry="1.17" fill="#3153cc" opacity="0.66"/>
<ellipse cx="77.05" cy="31.35" rx="1.36" ry="1.17" fill="#3153cc" opacity="0.53"/>
<ellipse cx="81.24" cy="31.35" rx="1.36" ry="1.17" fill="#3153cc" opacity="0.62"/>
<ellipse cx="2.45" cy="28" rx="1.36" ry="1.17" fill="#3153cc" opacity="0.57"/>
<ellipse cx="0.8" cy="33.03" rx="1.36" ry="1.17" fill="#3153cc" opacity="0.62"/>
<ellipse cx="8.32" cy="27.16" rx="1.36" ry="1.17" fill="#3153cc" opacity="0.65"/>
<ellipse cx="21.73" cy="27.16" rx="1.36" ry="1.17" fill="#3153cc" opacity="0.61"/>
<ellipse cx="25.92" cy="31.35" rx="1.36" ry="1.17" fill="#3153cc" opacity="0.58"/>
<ellipse cx="27.59" cy="38.06" rx="1.36" ry="1.17" fill="#3153cc" opacity="0.57"/>
<ellipse cx="53.58" cy="34.7" rx="1.96" ry="1.69" fill="#3153cc" opacity="0.78"/>
<ellipse cx="57.77" cy="38.06" rx="1.36" ry="1.17" fill="#3153cc" opacity="0.62"/>
<ellipse cx="53.58" cy="40.57" rx="1.66" ry="1.43" fill="#3153cc" opacity="0.67"/>
<ellipse cx="86.27" cy="36.38" rx="1.36" ry="1.17" fill="#3153cc" opacity="0.59"/>
<ellipse cx="87.11" cy="39.73" rx="1.36" ry="1.17" fill="#3153cc" opacity="0.6"/>
<ellipse cx="76.21" cy="40.57" rx="1.36" ry="1.17" fill="#3153cc" opacity="0.56"/>
<ellipse cx="9.15" cy="43.08" rx="2.03" ry="1.75" fill="#3153cc" opacity="0.74"/>
<ellipse cx="19.21" cy="43.92" rx="1.36" ry="1.17" fill="#3153cc" opacity="0.61"/>
<ellipse cx="20.05" cy="48.11" rx="2.11" ry="1.82" fill="#3153cc" opacity="0.74"/>
<ellipse cx="16.7" cy="50.63" rx="1.36" ry="1.17" fill="#3153cc" opacity="0.61"/>
<ellipse cx="29.27" cy="43.08" rx="1.36" ry="1.17" fill="#3153cc" opacity="0.64"/>
<ellipse cx="9.15" cy="49.79" rx="1.36" ry="1.17" fill="#3153cc" opacity="0.65"/>
<ellipse cx="9.99" cy="55.66" rx="1.58" ry="1.37" fill="#3153cc" opacity="0.62"/>
<ellipse cx="80.4" cy="46.44" rx="1.36" ry="1.17" fill="#3153cc" opacity="0.58"/>
<ellipse cx="83.76" cy="48.95" rx="1.36" ry="1.17" fill="#3153cc" opacity="0.66"/>
<ellipse cx="104.71" cy="48.95" rx="1.36" ry="1.17" fill="#3153cc" opacity="0.57"/>
<ellipse cx="103.87" cy="53.14" rx="1.36" ry="1.17" fill="#3153cc" opacity="0.67"/>
<ellipse cx="51.9" cy="52.31" rx="1.36" ry="1.17" fill="#3153cc" opacity="0.55"/>
<ellipse cx="54.42" cy="55.66" rx="1.36" ry="1.17" fill="#3153cc" opacity="0.65"/>
<ellipse cx="48.55" cy="57.33" rx="1.36" ry="1.17" fill="#3153cc" opacity="0.52"/>
<ellipse cx="44.36" cy="59.85" rx="1.58" ry="1.37" fill="#3153cc" opacity="0.69"/>
<ellipse cx="68.67" cy="59.01" rx="1.66" ry="1.43" fill="#3153cc" opacity="0.73"/>
<ellipse cx="15.86" cy="63.2" rx="1.36" ry="1.17" fill="#3153cc" opacity="0.6"/>
<ellipse cx="19.21" cy="64.04" rx="1.36" ry="1.17" fill="#3153cc" opacity="0.62"/>
<ellipse cx="9.15" cy="64.04" rx="1.36" ry="1.17" fill="#3153cc" opacity="0.66"/>
<ellipse cx="34.3" cy="63.2" rx="1.36" ry="1.17" fill="#3153cc" opacity="0.67"/>
<ellipse cx="30.11" cy="65.72" rx="1.36" ry="1.17" fill="#3153cc" opacity="0.54"/>
<ellipse cx="24.24" cy="66.55" rx="1.36" ry="1.17" fill="#3153cc" opacity="0.6"/>
<ellipse cx="28.43" cy="69.91" rx="1.66" ry="1.43" fill="#3153cc" opacity="0.61"/>
<ellipse cx="29.27" cy="73.26" rx="1.36" ry="1.17" fill="#3153cc" opacity="0.58"/>
<ellipse cx="4.12" cy="69.07" rx="1.36" ry="1.17" fill="#3153cc" opacity="0.54"/>
<ellipse cx="4.96" cy="72.42" rx="1.36" ry="1.17" fill="#3153cc" opacity="0.54"/>
<ellipse cx="0.8" cy="71.58" rx="1.36" ry="1.17" fill="#3153cc" opacity="0.61"/>
<ellipse cx="77.05" cy="69.91" rx="1.36" ry="1.17" fill="#3153cc" opacity="0.53"/>
<ellipse cx="81.24" cy="74.94" rx="1.36" ry="1.17" fill="#3153cc" opacity="0.54"/>
<ellipse cx="83.76" cy="79.13" rx="1.36" ry="1.17" fill="#3153cc" opacity="0.52"/>
<ellipse cx="87.11" cy="80.8" rx="1.36" ry="1.17" fill="#3153cc" opacity="0.65"/>
<ellipse cx="47.71" cy="76.61" rx="1.36" ry="1.17" fill="#3153cc" opacity="0.55"/>
<ellipse cx="46.87" cy="79.97" rx="1.36" ry="1.17" fill="#3153cc" opacity="0.53"/>
<ellipse cx="14.18" cy="82.48" rx="1.36" ry="1.17" fill="#3153cc" opacity="0.61"/>
<ellipse cx="16.7" cy="87.51" rx="1.36" ry="1.17" fill="#3153cc" opacity="0.63"/>
<ellipse cx="19.21" cy="89.19" rx="1.36" ry="1.17" fill="#3153cc" opacity="0.62"/>
<ellipse cx="24.24" cy="85.83" rx="1.36" ry="1.17" fill="#3153cc" opacity="0.6"/>
<ellipse cx="27.59" cy="85.83" rx="1.36" ry="1.17" fill="#3153cc" opacity="0.6"/>
<ellipse cx="28.43" cy="89.19" rx="1.36" ry="1.17" fill="#3153cc" opacity="0.63"/>
<ellipse cx="35.98" cy="91.7" rx="1.36" ry="1.17" fill="#3153cc" opacity="0.56"/>
<ellipse cx="50.23" cy="97.57" rx="1.36" ry="1.17" fill="#3153cc" opacity="0.65"/>
<ellipse cx="29.27" cy="103.44" rx="1.36" ry="1.17" fill="#3153cc" opacity="0.63"/>
<ellipse cx="81.24" cy="102.6" rx="1.36" ry="1.17" fill="#3153cc" opacity="0.65"/>
</g></g>
<g transform="translate(87.35 525)">
<rect x="0" y="0" width="109.55" height="109.4" fill="#020202"/>
<g clip-path="url(#cp20)" filter="url(#cell)">
<polyline points="5,29 19,23 30,22 40,27.5" fill="none" stroke="#fa1e24" stroke-width="1.5" stroke-linecap="round" stroke-linejoin="round" opacity="0.55"/>
<polyline points="30,22 31,18" fill="none" stroke="#fa1e24" stroke-width="1.2" stroke-linecap="round" stroke-linejoin="round" opacity="0.5"/>
<circle cx="14.4" cy="33.2" r="2.6" fill="none" stroke="#fa1e24" stroke-width="1.2" opacity="0.7"/>
<polyline points="15,36 15.5,43.5" fill="none" stroke="#fa1e24" stroke-width="1.3" stroke-linecap="round" stroke-linejoin="round" opacity="0.45"/>
<polyline points="86.5,25.6 82,38 77,48 73.9,54.1" fill="none" stroke="#fa1e24" stroke-width="2" stroke-linecap="round" stroke-linejoin="round" opacity="0.7"/>
<polyline points="74,9 83,11.4" fill="none" stroke="#fa1e24" stroke-width="1.8" stroke-linecap="round" stroke-linejoin="round" opacity="0.6"/>
<ellipse cx="99.5" cy="33.5" rx="5" ry="2.5" fill="#fa1e24" opacity="0.65"/>
<ellipse cx="55.5" cy="37.4" rx="1.6" ry="1.6" fill="#fa1e24" opacity="0.5"/>
<circle cx="31.2" cy="54.1" r="2.6" fill="none" stroke="#fa1e24" stroke-width="1.2" opacity="0.7"/>
<polyline points="34,55 45,55.5 54.7,56.7" fill="none" stroke="#fa1e24" stroke-width="1.4" stroke-linecap="round" stroke-linejoin="round" opacity="0.55"/>
<ellipse cx="44.6" cy="68.4" rx="1.7" ry="1.7" fill="#fa1e24" opacity="0.65"/>
<polyline points="63,66.7 73,65" fill="none" stroke="#fa1e24" stroke-width="1.8" stroke-linecap="round" stroke-linejoin="round" opacity="0.5"/>
<polyline points="84.8,73.4 96.6,65" fill="none" stroke="#fa1e24" stroke-width="1.8" stroke-linecap="round" stroke-linejoin="round" opacity="0.55"/>
<ellipse cx="58.8" cy="82.6" rx="2.4" ry="2.2" fill="#fa1e24" opacity="0.6"/>
<polyline points="83.1,86.8 94.9,83.5" fill="none" stroke="#fa1e24" stroke-width="1.6" stroke-linecap="round" stroke-linejoin="round" opacity="0.5"/>
<ellipse cx="72.3" cy="95.2" rx="1.8" ry="2.4" fill="#fa1e24" opacity="0.45"/>
<polyline points="31.2,93.5 39.6,96.9" fill="none" stroke="#fa1e24" stroke-width="1.6" stroke-linecap="round" stroke-linejoin="round" opacity="0.4"/>
<polyline points="7.7,81.8 14.4,86.8" fill="none" stroke="#fa1e24" stroke-width="1.4" stroke-linecap="round" stroke-linejoin="round" opacity="0.3"/>
<ellipse cx="56.3" cy="106.5" rx="5.5" ry="2.6" fill="#fa1e24" opacity="0.8"/>
<ellipse cx="45.4" cy="5.5" rx="1.8" ry="2.2" fill="#fa1e24" opacity="0.5"/>
<ellipse cx="105" cy="24" rx="2" ry="1.3" fill="#fa1e24" opacity="0.5"/>
<polyline points="56.3,94 57.5,100" fill="none" stroke="#fa1e24" stroke-width="1.4" stroke-linecap="round" stroke-linejoin="round" opacity="0.4"/>
<polyline points="44,104 50,107" fill="none" stroke="#fa1e24" stroke-width="1.3" stroke-linecap="round" stroke-linejoin="round" opacity="0.5"/>
<polyline points="101,2 105,5" fill="none" stroke="#fa1e24" stroke-width="1.3" stroke-linecap="round" stroke-linejoin="round" opacity="0.5"/>
<ellipse cx="30" cy="69" rx="1.2" ry="1.8" fill="#fa1e24" opacity="0.35"/>
<ellipse cx="4.5" cy="71" rx="1.5" ry="1.2" fill="#fa1e24" opacity="0.3"/>
<polyline points="104,78 102,86" fill="none" stroke="#fa1e24" stroke-width="1.2" stroke-linecap="round" stroke-linejoin="round" opacity="0.3"/>
</g></g>
<g transform="translate(201.2 525)">
<rect x="0" y="0" width="109.7" height="109.4" fill="#020202"/>
<g clip-path="url(#cp21)" filter="url(#cell)">
<polygon points="16.3,39.9 23,30.7 31.3,29 47.3,18.4 32.2,32.4 23,37.4" fill="#fa1e24" stroke="#fa1e24" stroke-width="0.8" stroke-linejoin="round" opacity="0.85"/>
<polygon points="21.3,56.7 30,52.5 38,50 38.5,60.9 24.6,62.5" fill="#fa1e24" stroke="#fa1e24" stroke-width="0.8" stroke-linejoin="round" opacity="0.9"/>
<polygon points="0.3,77 14.6,77.6 1.2,82.5" fill="#fa1e24" stroke="#fa1e24" stroke-width="0.8" stroke-linejoin="round" opacity="0.9"/>
<ellipse cx="4.5" cy="53.3" rx="2.2" ry="3" fill="#fa1e24" opacity="0.5"/>
<polygon points="51.5,47.4 62.4,48.3 56.5,54.1" fill="#fa1e24" fill-opacity="0.25" stroke="#fa1e24" stroke-width="1.3" stroke-linejoin="round" opacity="0.6"/>
<polyline points="56.5,54.1 58,62 59.8,68.4" fill="none" stroke="#fa1e24" stroke-width="1.2" stroke-linecap="round" stroke-linejoin="round" opacity="0.35"/>
<polyline points="75.8,43.3 81,36 86.7,29" fill="none" stroke="#fa1e24" stroke-width="2" stroke-linecap="round" stroke-linejoin="round" opacity="0.6"/>
<ellipse cx="57.5" cy="25.5" rx="2.4" ry="2.4" fill="#fa1e24" opacity="0.4"/>
<polygon points="85,85.2 88.3,75.9 98.4,91.9" fill="#fa1e24" stroke="#fa1e24" stroke-width="0.8" stroke-linejoin="round" opacity="0.85"/>
<polyline points="97,90 103.4,98.6" fill="none" stroke="#fa1e24" stroke-width="1.3" stroke-linecap="round" stroke-linejoin="round" opacity="0.6"/>
<polyline points="54.8,92.7 70,97 85,100.3" fill="none" stroke="#fa1e24" stroke-width="1.6" stroke-linecap="round" stroke-linejoin="round" opacity="0.45"/>
<polygon points="46.4,104.5 54,102.5 61.5,105.3 54,107.5" fill="#fa1e24" fill-opacity="0.25" stroke="#fa1e24" stroke-width="1.2" stroke-linejoin="round" opacity="0.6"/>
<ellipse cx="88.3" cy="105" rx="3" ry="2.5" fill="#fa1e24" opacity="0.6"/>
<ellipse cx="105" cy="46.6" rx="1.7" ry="1.7" fill="#fa1e24" opacity="0.5"/>
<ellipse cx="89.2" cy="50.8" rx="1.6" ry="1.6" fill="#fa1e24" opacity="0.4"/>
<ellipse cx="75.8" cy="70" rx="1.8" ry="1.6" fill="#fa1e24" opacity="0.45"/>
<polyline points="106,62 107.5,70" fill="none" stroke="#fa1e24" stroke-width="1.5" stroke-linecap="round" stroke-linejoin="round" opacity="0.4"/>
<ellipse cx="9.6" cy="3" rx="2.2" ry="1.3" fill="#fa1e24" opacity="0.35"/>
<ellipse cx="75.8" cy="4.7" rx="1.2" ry="2.2" fill="#fa1e24" opacity="0.35"/>
<ellipse cx="105" cy="6" rx="1.3" ry="2.2" fill="#fa1e24" opacity="0.35"/>
<ellipse cx="17" cy="95" rx="2" ry="1.5" fill="#fa1e24" opacity="0.3"/>
<ellipse cx="43" cy="89.4" rx="2.2" ry="1.6" fill="#fa1e24" opacity="0.3"/>
<ellipse cx="79" cy="26" rx="1.5" ry="1.5" fill="#fa1e24" opacity="0.35"/>
<ellipse cx="90" cy="2.5" rx="2.5" ry="1.2" fill="#fa1e24" opacity="0.4"/>
</g></g>
<g transform="translate(315.2 525)">
<rect x="0" y="0" width="109.2" height="109.4" fill="#020202"/>
<g clip-path="url(#cp22)" filter="url(#cell)">
<polygon points="83.5,56.7 87,50.5 91.9,46.6 105.3,39.9 96.9,48.3 88.5,55.8" fill="#fa1e24" stroke="#fa1e24" stroke-width="0.8" stroke-linejoin="round" opacity="0.95"/>
<polygon points="102.8,56.7 107,65 106.5,80.1 103.6,71.8" fill="#fa1e24" stroke="#fa1e24" stroke-width="0.8" stroke-linejoin="round" opacity="0.9"/>
<polygon points="71.8,16.4 76.8,24.8 83.5,6.4 77,17" fill="#fa1e24" stroke="#fa1e24" stroke-width="0.8" stroke-linejoin="round" opacity="0.6"/>
<polygon points="62.5,1.3 66,1.5 68.4,8.9 65,6.5" fill="#fa1e24" stroke="#fa1e24" stroke-width="0.8" stroke-linejoin="round" opacity="0.65"/>
<polygon points="50.8,14.8 55.8,24 61.7,24.8 62.5,18.9 57,22" fill="#fa1e24" fill-opacity="0.25" stroke="#fa1e24" stroke-width="1.2" stroke-linejoin="round" opacity="0.6"/>
<polygon points="16.4,19.8 22.3,13.9 25.6,20.6 21.5,24" fill="#fa1e24" stroke="#fa1e24" stroke-width="0.8" stroke-linejoin="round" opacity="0.6"/>
<polygon points="26.5,1.3 34.9,2.2 30.7,6.4" fill="#fa1e24" fill-opacity="0.25" stroke="#fa1e24" stroke-width="1.2" stroke-linejoin="round" opacity="0.5"/>
<polygon points="24.8,39 35.7,36.5 36.5,40 25.6,42.4" fill="#fa1e24" fill-opacity="0.25" stroke="#fa1e24" stroke-width="1.1" stroke-linejoin="round" opacity="0.4"/>
<ellipse cx="65.4" cy="47" rx="3.3" ry="1.7" fill="#fa1e24" opacity="0.7"/>
<ellipse cx="66.7" cy="30.7" rx="2.2" ry="1.5" fill="#fa1e24" opacity="0.65"/>
<polygon points="13.9,61.7 24,60 14.8,69.2" fill="#fa1e24" fill-opacity="0.25" stroke="#fa1e24" stroke-width="1.4" stroke-linejoin="round" opacity="0.65"/>
<polyline points="44.9,68.4 49.1,62.5" fill="none" stroke="#fa1e24" stroke-width="1.6" stroke-linecap="round" stroke-linejoin="round" opacity="0.45"/>
<ellipse cx="52.5" cy="76.3" rx="4.2" ry="1.6" fill="#fa1e24" opacity="0.6"/>
<polyline points="6.4,76.8 10.6,83.5" fill="none" stroke="#fa1e24" stroke-width="1.6" stroke-linecap="round" stroke-linejoin="round" opacity="0.4"/>
<polyline points="92,79 95,72" fill="none" stroke="#fa1e24" stroke-width="1.4" stroke-linecap="round" stroke-linejoin="round" opacity="0.3"/>
<ellipse cx="98.6" cy="101" rx="1.2" ry="1.2" fill="#fa1e24" opacity="0.7"/>
<ellipse cx="25.6" cy="48.3" rx="1.5" ry="1.5" fill="#fa1e24" opacity="0.3"/>
<ellipse cx="15" cy="1.5" rx="3" ry="1.2" fill="#fa1e24" opacity="0.5"/>
<ellipse cx="2.5" cy="42" rx="2.5" ry="1.2" fill="#fa1e24" opacity="0.25"/>
<ellipse cx="34" cy="26" rx="2.5" ry="1.2" fill="#fa1e24" opacity="0.25"/>
<ellipse cx="32" cy="78" rx="1.5" ry="1.5" fill="#fa1e24" opacity="0.2"/>
<ellipse cx="84" cy="80" rx="1.5" ry="1.5" fill="#fa1e24" opacity="0.25"/>
</g></g>
<g transform="translate(428.8 525)">
<rect x="0" y="0" width="109.1" height="109.4" fill="#020202"/>
<g clip-path="url(#cp23)" filter="url(#cell)">
<polygon points="23.3,58.3 26.6,50.8 36.7,50 30.8,58.3 26.6,65.9" fill="#fa1e24" stroke="#fa1e24" stroke-width="0.8" stroke-linejoin="round" opacity="1"/>
<polyline points="45.9,38.2 54,31 62.6,24" fill="none" stroke="#fa1e24" stroke-width="1.6" stroke-linecap="round" stroke-linejoin="round" opacity="0.55"/>
<polyline points="42.5,46.6 55.9,54.1" fill="none" stroke="#fa1e24" stroke-width="1.4" stroke-linecap="round" stroke-linejoin="round" opacity="0.4"/>
<polyline points="0.6,26.5 6,33 12.4,42.4" fill="none" stroke="#fa1e24" stroke-width="1.6" stroke-linecap="round" stroke-linejoin="round" opacity="0.55"/>
<circle cx="13.2" cy="25.6" r="2.4" fill="none" stroke="#fa1e24" stroke-width="1.1" opacity="0.4"/>
<polyline points="82,1.3 80.2,13 83.6,19.8" fill="none" stroke="#fa1e24" stroke-width="1.4" stroke-linecap="round" stroke-linejoin="round" opacity="0.55"/>
<ellipse cx="82.2" cy="16.5" rx="2.2" ry="3" fill="#fa1e24" opacity="0.6"/>
<polyline points="98.7,22.3 107,25.6" fill="none" stroke="#fa1e24" stroke-width="2" stroke-linecap="round" stroke-linejoin="round" opacity="0.5"/>
<ellipse cx="92.8" cy="37.4" rx="1.8" ry="2.4" fill="#fa1e24" opacity="0.35"/>
<ellipse cx="80.2" cy="42.4" rx="2.5" ry="1.5" fill="#fa1e24" opacity="0.3"/>
<ellipse cx="97" cy="51.6" rx="2" ry="1.5" fill="#fa1e24" opacity="0.3"/>
<circle cx="47.6" cy="71.8" r="2.2" fill="none" stroke="#fa1e24" stroke-width="1.2" opacity="0.5"/>
<polyline points="14,83 17.4,77" fill="none" stroke="#fa1e24" stroke-width="2" stroke-linecap="round" stroke-linejoin="round" opacity="0.55"/>
<ellipse cx="51.7" cy="93.5" rx="2" ry="2.4" fill="#fa1e24" opacity="0.4"/>
<ellipse cx="30.8" cy="31.5" rx="2.4" ry="1.3" fill="#fa1e24" opacity="0.4"/>
<ellipse cx="19.9" cy="43.3" rx="1.8" ry="1.5" fill="#fa1e24" opacity="0.35"/>
<ellipse cx="9.8" cy="4.7" rx="2" ry="1.6" fill="#fa1e24" opacity="0.35"/>
<ellipse cx="64.3" cy="45" rx="1.6" ry="1.4" fill="#fa1e24" opacity="0.3"/>
<ellipse cx="60" cy="65" rx="1.8" ry="1.4" fill="#fa1e24" opacity="0.3"/>
<ellipse cx="93.6" cy="82.6" rx="1.8" ry="1.3" fill="#fa1e24" opacity="0.3"/>
<ellipse cx="13.2" cy="100.3" rx="2.4" ry="1.4" fill="#fa1e24" opacity="0.3"/>
<polyline points="7,18 6.5,27" fill="none" stroke="#fa1e24" stroke-width="1.1" stroke-linecap="round" stroke-linejoin="round" opacity="0.4"/>
<polyline points="38,60 52,60.5 62,59.5" fill="none" stroke="#fa1e24" stroke-width="1" stroke-linecap="round" stroke-linejoin="round" opacity="0.3"/>
<ellipse cx="48" cy="99" rx="1.2" ry="2" fill="#fa1e24" opacity="0.35"/>
<ellipse cx="57" cy="103.5" rx="1.5" ry="1.2" fill="#fa1e24" opacity="0.3"/>
<ellipse cx="71" cy="14" rx="1.3" ry="1.3" fill="#fa1e24" opacity="0.3"/>
<polyline points="61,12 61.5,17" fill="none" stroke="#fa1e24" stroke-width="1" stroke-linecap="round" stroke-linejoin="round" opacity="0.35"/>
<ellipse cx="3.5" cy="89" rx="1.5" ry="1.2" fill="#fa1e24" opacity="0.3"/>
</g></g>
<g transform="translate(542.1 525)">
<rect x="0" y="0" width="109.8" height="109.4" fill="#020202"/>
<g clip-path="url(#cp24)" filter="url(#cell)">
<polygon points="67,15.4 68,20.6 76.2,24.7 86.5,21.6 91.7,21.6 95.8,25.7 92.7,30.9 96.8,38.1 88.6,41.2 86.5,54.6 81.4,49.4 76.2,40.1 71.1,34 74.2,28.8 69,23.7" fill="#fa1e24" stroke="#fa1e24" stroke-width="0.8" stroke-linejoin="round" opacity="0.82"/>
<ellipse cx="82.4" cy="36.2" rx="3.4" ry="2.6" fill="#000" opacity="0.75"/>
<ellipse cx="89.5" cy="24.6" rx="1.6" ry="1.3" fill="#000" opacity="0.6"/>
<polyline points="69,23.7 60.8,29.9 52.5,35 51.5,48.4 46.4,58.7" fill="none" stroke="#fa1e24" stroke-width="2" stroke-linecap="round" stroke-linejoin="round" opacity="0.83"/>
<polyline points="46.4,58.7 57.7,56.6 72.1,59.7" fill="none" stroke="#fa1e24" stroke-width="2" stroke-linecap="round" stroke-linejoin="round" opacity="0.78"/>
<polyline points="52.5,35 62.8,36 71,34" fill="none" stroke="#fa1e24" stroke-width="1.4" stroke-linecap="round" stroke-linejoin="round" opacity="0.63"/>
<polyline points="51.5,48.4 56,52 57.7,56.6" fill="none" stroke="#fa1e24" stroke-width="1.3" stroke-linecap="round" stroke-linejoin="round" opacity="0.58"/>
<polyline points="95.8,25.7 100,27" fill="none" stroke="#fa1e24" stroke-width="1.5" stroke-linecap="round" stroke-linejoin="round" opacity="0.68"/>
<polyline points="96.8,38.1 99,41" fill="none" stroke="#fa1e24" stroke-width="1.3" stroke-linecap="round" stroke-linejoin="round" opacity="0.58"/>
<polyline points="104,48.4 102,57.6" fill="none" stroke="#fa1e24" stroke-width="2.2" stroke-linecap="round" stroke-linejoin="round" opacity="0.78"/>
<polyline points="103,10.3 107,4.1" fill="none" stroke="#fa1e24" stroke-width="1.6" stroke-linecap="round" stroke-linejoin="round" opacity="0.53"/>
<polyline points="19.2,22.3 25,34 30.1,46.6" fill="none" stroke="#fa1e24" stroke-width="1.8" stroke-linecap="round" stroke-linejoin="round" opacity="0.78"/>
<polyline points="18.4,39.9 20.9,51.6" fill="none" stroke="#fa1e24" stroke-width="2.2" stroke-linecap="round" stroke-linejoin="round" opacity="0.78"/>
<polyline points="9.2,39.9 10.8,60" fill="none" stroke="#fa1e24" stroke-width="1.8" stroke-linecap="round" stroke-linejoin="round" opacity="0.73"/>
<polygon points="15,61.7 31.8,63.4 27,68 25.1,74.5 22,68" fill="#fa1e24" stroke="#fa1e24" stroke-width="0.8" stroke-linejoin="round" opacity="0.65"/>
<ellipse cx="25" cy="84.5" rx="2.4" ry="5" fill="#fa1e24" opacity="0.88"/>
<polyline points="4.1,66.7 5.8,73.4" fill="none" stroke="#fa1e24" stroke-width="2.4" stroke-linecap="round" stroke-linejoin="round" opacity="0.78"/>
<polygon points="28.4,3 38.5,2.2 31.8,9.7" fill="#fa1e24" fill-opacity="0.25" stroke="#fa1e24" stroke-width="1.5" stroke-linejoin="round" opacity="0.73"/>
<polyline points="40.2,19.8 48.5,14.8" fill="none" stroke="#fa1e24" stroke-width="1.8" stroke-linecap="round" stroke-linejoin="round" opacity="0.63"/>
<ellipse cx="87.1" cy="80.1" rx="2.6" ry="2.6" fill="#fa1e24" opacity="0.78"/>
<ellipse cx="46.9" cy="75.9" rx="2" ry="2.6" fill="#fa1e24" opacity="0.73"/>
<polyline points="43.5,93.5 56.9,98.6" fill="none" stroke="#fa1e24" stroke-width="1.5" stroke-linecap="round" stroke-linejoin="round" opacity="0.58"/>
<ellipse cx="82.1" cy="103.6" rx="2.4" ry="1.4" fill="#fa1e24" opacity="1"/>
<polyline points="1.6,28.2 8.3,26.5" fill="none" stroke="#fa1e24" stroke-width="1.6" stroke-linecap="round" stroke-linejoin="round" opacity="0.58"/>
<polyline points="77,70 85.4,76.8" fill="none" stroke="#fa1e24" stroke-width="1.4" stroke-linecap="round" stroke-linejoin="round" opacity="0.53"/>
<ellipse cx="30" cy="16" rx="3" ry="1.5" fill="#fa1e24" opacity="0.58"/>
<ellipse cx="105" cy="3.5" rx="1.5" ry="2.5" fill="#fa1e24" opacity="0.58"/>
<polyline points="3,60 5,66" fill="none" stroke="#fa1e24" stroke-width="1.6" stroke-linecap="round" stroke-linejoin="round" opacity="0.58"/>
<ellipse cx="14" cy="80" rx="1.5" ry="1.5" fill="#fa1e24" opacity="0.58"/>
<ellipse cx="96" cy="30" rx="3" ry="1.2" fill="#fa1e24" opacity="0.58"/>
<polyline points="27,46 30,53" fill="none" stroke="#fa1e24" stroke-width="1.3" stroke-linecap="round" stroke-linejoin="round" opacity="0.58"/>
<ellipse cx="35" cy="99" rx="2.5" ry="1.2" fill="#fa1e24" opacity="0.48"/>
</g></g>
<g transform="translate(87.35 638.75)">
<rect x="0" y="0" width="109.55" height="108.85" fill="#020202"/>
<g clip-path="url(#cp30)">
<g filter="url(#cell)">
<polyline points="5,29 19,23 30,22 40,27.5" fill="none" stroke="#f8202c" stroke-width="1.5" stroke-linecap="round" stroke-linejoin="round" opacity="0.58"/>
<polyline points="30,22 31,18" fill="none" stroke="#f8202c" stroke-width="1.2" stroke-linecap="round" stroke-linejoin="round" opacity="0.53"/>
<circle cx="14.4" cy="33.2" r="2.6" fill="none" stroke="#f8202c" stroke-width="1.2" opacity="0.73"/>
<polyline points="15,36 15.5,43.5" fill="none" stroke="#f8202c" stroke-width="1.3" stroke-linecap="round" stroke-linejoin="round" opacity="0.47"/>
<polyline points="86.5,25.6 82,38 77,48 73.9,54.1" fill="none" stroke="#f8202c" stroke-width="2" stroke-linecap="round" stroke-linejoin="round" opacity="0.73"/>
<polyline points="74,9 83,11.4" fill="none" stroke="#f8202c" stroke-width="1.8" stroke-linecap="round" stroke-linejoin="round" opacity="0.63"/>
<ellipse cx="99.5" cy="33.5" rx="5" ry="2.5" fill="#f8202c" opacity="0.68"/>
<ellipse cx="55.5" cy="37.4" rx="1.6" ry="1.6" fill="#f8202c" opacity="0.53"/>
<circle cx="31.2" cy="54.1" r="2.6" fill="none" stroke="#f8202c" stroke-width="1.2" opacity="0.73"/>
<polyline points="34,55 45,55.5 54.7,56.7" fill="none" stroke="#f8202c" stroke-width="1.4" stroke-linecap="round" stroke-linejoin="round" opacity="0.58"/>
<ellipse cx="44.6" cy="68.4" rx="1.7" ry="1.7" fill="#f8202c" opacity="0.68"/>
<polyline points="63,66.7 73,65" fill="none" stroke="#f8202c" stroke-width="1.8" stroke-linecap="round" stroke-linejoin="round" opacity="0.53"/>
<polyline points="84.8,73.4 96.6,65" fill="none" stroke="#f8202c" stroke-width="1.8" stroke-linecap="round" stroke-linejoin="round" opacity="0.58"/>
<ellipse cx="58.8" cy="82.6" rx="2.4" ry="2.2" fill="#f8202c" opacity="0.63"/>
<polyline points="83.1,86.8 94.9,83.5" fill="none" stroke="#f8202c" stroke-width="1.6" stroke-linecap="round" stroke-linejoin="round" opacity="0.53"/>
<ellipse cx="72.3" cy="95.2" rx="1.8" ry="2.4" fill="#f8202c" opacity="0.47"/>
<polyline points="31.2,93.5 39.6,96.9" fill="none" stroke="#f8202c" stroke-width="1.6" stroke-linecap="round" stroke-linejoin="round" opacity="0.42"/>
<polyline points="7.7,81.8 14.4,86.8" fill="none" stroke="#f8202c" stroke-width="1.4" stroke-linecap="round" stroke-linejoin="round" opacity="0.32"/>
<ellipse cx="56.3" cy="106.5" rx="5.5" ry="2.6" fill="#f8202c" opacity="0.84"/>
<ellipse cx="45.4" cy="5.5" rx="1.8" ry="2.2" fill="#f8202c" opacity="0.53"/>
<ellipse cx="105" cy="24" rx="2" ry="1.3" fill="#f8202c" opacity="0.53"/>
<polyline points="56.3,94 57.5,100" fill="none" stroke="#f8202c" stroke-width="1.4" stroke-linecap="round" stroke-linejoin="round" opacity="0.42"/>
<polyline points="44,104 50,107" fill="none" stroke="#f8202c" stroke-width="1.3" stroke-linecap="round" stroke-linejoin="round" opacity="0.53"/>
<polyline points="101,2 105,5" fill="none" stroke="#f8202c" stroke-width="1.3" stroke-linecap="round" stroke-linejoin="round" opacity="0.53"/>
<ellipse cx="30" cy="69" rx="1.2" ry="1.8" fill="#f8202c" opacity="0.37"/>
<ellipse cx="4.5" cy="71" rx="1.5" ry="1.2" fill="#f8202c" opacity="0.32"/>
<polyline points="104,78 102,86" fill="none" stroke="#f8202c" stroke-width="1.2" stroke-linecap="round" stroke-linejoin="round" opacity="0.32"/>
</g>
<g filter="url(#soft3)">
<ellipse cx="16.09" cy="4.53" rx="1.17" ry="1.01" fill="#6c62d2" opacity="0.51"/>
<ellipse cx="34.53" cy="2.01" rx="1.17" ry="1.01" fill="#6c62d2" opacity="0.51"/>
<ellipse cx="46.27" cy="5.36" rx="1.17" ry="1.01" fill="#6c62d2" opacity="0.51"/>
<ellipse cx="78.96" cy="10.39" rx="1.17" ry="1.01" fill="#6c62d2" opacity="0.51"/>
<ellipse cx="11.06" cy="24.64" rx="1.17" ry="1.01" fill="#6c62d2" opacity="0.51"/>
<ellipse cx="21.12" cy="22.97" rx="1.17" ry="1.01" fill="#6c62d2" opacity="0.51"/>
<ellipse cx="28.67" cy="19.61" rx="1.17" ry="1.01" fill="#6c62d2" opacity="0.51"/>
<ellipse cx="33.7" cy="24.64" rx="1.17" ry="1.01" fill="#6c62d2" opacity="0.51"/>
<ellipse cx="13.58" cy="33.03" rx="1.43" ry="1.23" fill="#6c62d2" opacity="0.55"/>
<ellipse cx="16.09" cy="41.41" rx="1.36" ry="1.18" fill="#6c62d2" opacity="0.54"/>
<ellipse cx="54.65" cy="35.54" rx="1.17" ry="1.01" fill="#6c62d2" opacity="0.51"/>
<ellipse cx="85.67" cy="28" rx="1.17" ry="1.01" fill="#6c62d2" opacity="0.51"/>
<ellipse cx="102.43" cy="24.64" rx="1.17" ry="1.01" fill="#6c62d2" opacity="0.51"/>
<ellipse cx="99.08" cy="37.22" rx="1.17" ry="1.01" fill="#6c62d2" opacity="0.51"/>
<ellipse cx="83.15" cy="38.89" rx="1.17" ry="1.01" fill="#6c62d2" opacity="0.51"/>
<ellipse cx="76.45" cy="48.95" rx="1.36" ry="1.18" fill="#6c62d2" opacity="0.54"/>
<ellipse cx="32.02" cy="54.82" rx="1.17" ry="1.01" fill="#6c62d2" opacity="0.51"/>
<ellipse cx="38.73" cy="53.98" rx="1.17" ry="1.01" fill="#6c62d2" opacity="0.51"/>
<ellipse cx="51.3" cy="56.5" rx="1.17" ry="1.01" fill="#6c62d2" opacity="0.51"/>
<ellipse cx="79.8" cy="60.69" rx="1.17" ry="1.01" fill="#6c62d2" opacity="0.51"/>
<ellipse cx="69.74" cy="65.72" rx="1.17" ry="1.01" fill="#6c62d2" opacity="0.51"/>
<ellipse cx="45.43" cy="69.91" rx="1.17" ry="1.01" fill="#6c62d2" opacity="0.51"/>
<ellipse cx="29.51" cy="74.94" rx="1.17" ry="1.01" fill="#6c62d2" opacity="0.51"/>
<ellipse cx="92.37" cy="67.39" rx="1.17" ry="1.01" fill="#6c62d2" opacity="0.51"/>
<ellipse cx="11.06" cy="83.32" rx="1.17" ry="1.01" fill="#6c62d2" opacity="0.51"/>
<ellipse cx="59.68" cy="83.32" rx="1.17" ry="1.01" fill="#6c62d2" opacity="0.51"/>
<ellipse cx="89.02" cy="85" rx="1.36" ry="1.18" fill="#6c62d2" opacity="0.54"/>
<ellipse cx="104.95" cy="84.16" rx="1.17" ry="1.01" fill="#6c62d2" opacity="0.51"/>
<ellipse cx="37.05" cy="95.89" rx="1.17" ry="1.01" fill="#6c62d2" opacity="0.51"/>
<ellipse cx="56.33" cy="98.41" rx="1.17" ry="1.01" fill="#6c62d2" opacity="0.51"/>
<ellipse cx="71.42" cy="96.73" rx="1.17" ry="1.01" fill="#6c62d2" opacity="0.51"/>
<ellipse cx="47.95" cy="106.79" rx="1.17" ry="1.01" fill="#6c62d2" opacity="0.51"/>
<ellipse cx="58.84" cy="107.63" rx="1.17" ry="1.01" fill="#6c62d2" opacity="0.51"/>
<ellipse cx="89.02" cy="106.79" rx="1.17" ry="1.01" fill="#6c62d2" opacity="0.51"/>
<ellipse cx="106.62" cy="105.95" rx="1.17" ry="1.01" fill="#6c62d2" opacity="0.51"/>
<ellipse cx="2.68" cy="90.86" rx="1.17" ry="1.01" fill="#6c62d2" opacity="0.51"/>
</g>
</g></g>
<g transform="translate(201.2 638.75)">
<rect x="0" y="0" width="109.7" height="108.85" fill="#020202"/>
<g clip-path="url(#cp31)">
<g filter="url(#cell)">
<polygon points="16.3,39.9 23,30.7 31.3,29 47.3,18.4 32.2,32.4 23,37.4" fill="#f8202c" stroke="#f8202c" stroke-width="0.8" stroke-linejoin="round" opacity="0.89"/>
<polygon points="21.3,56.7 30,52.5 38,50 38.5,60.9 24.6,62.5" fill="#f8202c" stroke="#f8202c" stroke-width="0.8" stroke-linejoin="round" opacity="0.95"/>
<polygon points="0.3,77 14.6,77.6 1.2,82.5" fill="#f8202c" stroke="#f8202c" stroke-width="0.8" stroke-linejoin="round" opacity="0.95"/>
<ellipse cx="4.5" cy="53.3" rx="2.2" ry="3" fill="#f8202c" opacity="0.53"/>
<polygon points="51.5,47.4 62.4,48.3 56.5,54.1" fill="#f8202c" fill-opacity="0.25" stroke="#f8202c" stroke-width="1.3" stroke-linejoin="round" opacity="0.63"/>
<polyline points="56.5,54.1 58,62 59.8,68.4" fill="none" stroke="#f8202c" stroke-width="1.2" stroke-linecap="round" stroke-linejoin="round" opacity="0.37"/>
<polyline points="75.8,43.3 81,36 86.7,29" fill="none" stroke="#f8202c" stroke-width="2" stroke-linecap="round" stroke-linejoin="round" opacity="0.63"/>
<ellipse cx="57.5" cy="25.5" rx="2.4" ry="2.4" fill="#f8202c" opacity="0.42"/>
<polygon points="85,85.2 88.3,75.9 98.4,91.9" fill="#f8202c" stroke="#f8202c" stroke-width="0.8" stroke-linejoin="round" opacity="0.89"/>
<polyline points="97,90 103.4,98.6" fill="none" stroke="#f8202c" stroke-width="1.3" stroke-linecap="round" stroke-linejoin="round" opacity="0.63"/>
<polyline points="54.8,92.7 70,97 85,100.3" fill="none" stroke="#f8202c" stroke-width="1.6" stroke-linecap="round" stroke-linejoin="round" opacity="0.47"/>
<polygon points="46.4,104.5 54,102.5 61.5,105.3 54,107.5" fill="#f8202c" fill-opacity="0.25" stroke="#f8202c" stroke-width="1.2" stroke-linejoin="round" opacity="0.63"/>
<ellipse cx="88.3" cy="105" rx="3" ry="2.5" fill="#f8202c" opacity="0.63"/>
<ellipse cx="105" cy="46.6" rx="1.7" ry="1.7" fill="#f8202c" opacity="0.53"/>
<ellipse cx="89.2" cy="50.8" rx="1.6" ry="1.6" fill="#f8202c" opacity="0.42"/>
<ellipse cx="75.8" cy="70" rx="1.8" ry="1.6" fill="#f8202c" opacity="0.47"/>
<polyline points="106,62 107.5,70" fill="none" stroke="#f8202c" stroke-width="1.5" stroke-linecap="round" stroke-linejoin="round" opacity="0.42"/>
<ellipse cx="9.6" cy="3" rx="2.2" ry="1.3" fill="#f8202c" opacity="0.37"/>
<ellipse cx="75.8" cy="4.7" rx="1.2" ry="2.2" fill="#f8202c" opacity="0.37"/>
<ellipse cx="105" cy="6" rx="1.3" ry="2.2" fill="#f8202c" opacity="0.37"/>
<ellipse cx="17" cy="95" rx="2" ry="1.5" fill="#f8202c" opacity="0.32"/>
<ellipse cx="43" cy="89.4" rx="2.2" ry="1.6" fill="#f8202c" opacity="0.32"/>
<ellipse cx="79" cy="26" rx="1.5" ry="1.5" fill="#f8202c" opacity="0.37"/>
<ellipse cx="90" cy="2.5" rx="2.5" ry="1.2" fill="#f8202c" opacity="0.42"/>
</g>
<g filter="url(#soft3)">
<ellipse cx="10.39" cy="2.85" rx="1.56" ry="1.34" fill="#6c62d2" opacity="0.79"/>
<ellipse cx="22.97" cy="33.86" rx="2.01" ry="1.73" fill="#6c62d2" opacity="0.85"/>
<ellipse cx="29.67" cy="55.66" rx="2.07" ry="1.79" fill="#6c62d2" opacity="0.86"/>
<ellipse cx="35.54" cy="55.66" rx="1.49" ry="1.29" fill="#6c62d2" opacity="0.78"/>
<ellipse cx="35.54" cy="47.28" rx="1.49" ry="1.29" fill="#6c62d2" opacity="0.78"/>
<ellipse cx="3.69" cy="53.98" rx="1.81" ry="1.57" fill="#6c62d2" opacity="0.82"/>
<ellipse cx="2.01" cy="76.61" rx="1.56" ry="1.34" fill="#6c62d2" opacity="0.79"/>
<ellipse cx="0.8" cy="71.58" rx="1.17" ry="1.01" fill="#6c62d2" opacity="0.72"/>
<ellipse cx="44.76" cy="17.94" rx="1.17" ry="1.01" fill="#6c62d2" opacity="0.72"/>
<ellipse cx="38.89" cy="24.64" rx="1.17" ry="1.01" fill="#6c62d2" opacity="0.72"/>
<ellipse cx="33.86" cy="28.83" rx="1.17" ry="1.01" fill="#6c62d2" opacity="0.72"/>
<ellipse cx="58.17" cy="26.32" rx="1.17" ry="1.01" fill="#6c62d2" opacity="0.72"/>
<ellipse cx="56.5" cy="50.63" rx="1.43" ry="1.23" fill="#6c62d2" opacity="0.77"/>
<ellipse cx="56.5" cy="59.85" rx="1.17" ry="1.01" fill="#6c62d2" opacity="0.72"/>
<ellipse cx="59.85" cy="64.88" rx="1.36" ry="1.18" fill="#6c62d2" opacity="0.76"/>
<ellipse cx="77.45" cy="28" rx="1.17" ry="1.01" fill="#6c62d2" opacity="0.72"/>
<ellipse cx="88.35" cy="25.48" rx="1.17" ry="1.01" fill="#6c62d2" opacity="0.72"/>
<ellipse cx="82.48" cy="33.86" rx="1.36" ry="1.18" fill="#6c62d2" opacity="0.76"/>
<ellipse cx="79.13" cy="38.06" rx="1.17" ry="1.01" fill="#6c62d2" opacity="0.72"/>
<ellipse cx="89.19" cy="51.47" rx="1.17" ry="1.01" fill="#6c62d2" opacity="0.72"/>
<ellipse cx="105.11" cy="46.44" rx="1.17" ry="1.01" fill="#6c62d2" opacity="0.72"/>
<ellipse cx="107.63" cy="12.91" rx="1.17" ry="1.01" fill="#6c62d2" opacity="0.72"/>
<ellipse cx="103.44" cy="66.55" rx="1.43" ry="1.23" fill="#6c62d2" opacity="0.77"/>
<ellipse cx="107.63" cy="67.39" rx="1.17" ry="1.01" fill="#6c62d2" opacity="0.72"/>
<ellipse cx="75.78" cy="70.75" rx="1.17" ry="1.01" fill="#6c62d2" opacity="0.72"/>
<ellipse cx="88.35" cy="75.78" rx="1.43" ry="1.23" fill="#6c62d2" opacity="0.77"/>
<ellipse cx="89.19" cy="86.67" rx="1.56" ry="1.34" fill="#6c62d2" opacity="0.79"/>
<ellipse cx="85.83" cy="85.83" rx="1.17" ry="1.01" fill="#6c62d2" opacity="0.72"/>
<ellipse cx="95.05" cy="90.86" rx="1.17" ry="1.01" fill="#6c62d2" opacity="0.72"/>
<ellipse cx="48.11" cy="90.03" rx="1.17" ry="1.01" fill="#6c62d2" opacity="0.72"/>
<ellipse cx="42.25" cy="92.54" rx="1.17" ry="1.01" fill="#6c62d2" opacity="0.72"/>
<ellipse cx="62.36" cy="95.05" rx="1.43" ry="1.23" fill="#6c62d2" opacity="0.77"/>
<ellipse cx="65.72" cy="95.89" rx="1.17" ry="1.01" fill="#6c62d2" opacity="0.72"/>
<ellipse cx="16.26" cy="95.05" rx="1.17" ry="1.01" fill="#6c62d2" opacity="0.72"/>
<ellipse cx="48.11" cy="105.95" rx="1.43" ry="1.23" fill="#6c62d2" opacity="0.77"/>
<ellipse cx="59.01" cy="105.95" rx="1.17" ry="1.01" fill="#6c62d2" opacity="0.72"/>
<ellipse cx="86.67" cy="100.08" rx="1.36" ry="1.18" fill="#6c62d2" opacity="0.76"/>
<ellipse cx="89.19" cy="103.44" rx="1.36" ry="1.18" fill="#6c62d2" opacity="0.76"/>
<ellipse cx="92.54" cy="105.95" rx="1.17" ry="1.01" fill="#6c62d2" opacity="0.72"/>
<ellipse cx="43.08" cy="107.63" rx="1.17" ry="1.01" fill="#6c62d2" opacity="0.72"/>
</g>
</g></g>
<g transform="translate(315.2 638.75)">
<rect x="0" y="0" width="109.2" height="108.85" fill="#020202"/>
<g clip-path="url(#cp32)">
<g filter="url(#cell)">
<polygon points="83.5,56.7 87,50.5 91.9,46.6 105.3,39.9 96.9,48.3 88.5,55.8" fill="#f8202c" stroke="#f8202c" stroke-width="0.8" stroke-linejoin="round" opacity="1"/>
<polygon points="102.8,56.7 107,65 106.5,80.1 103.6,71.8" fill="#f8202c" stroke="#f8202c" stroke-width="0.8" stroke-linejoin="round" opacity="0.95"/>
<polygon points="71.8,16.4 76.8,24.8 83.5,6.4 77,17" fill="#f8202c" stroke="#f8202c" stroke-width="0.8" stroke-linejoin="round" opacity="0.63"/>
<polygon points="62.5,1.3 66,1.5 68.4,8.9 65,6.5" fill="#f8202c" stroke="#f8202c" stroke-width="0.8" stroke-linejoin="round" opacity="0.68"/>
<polygon points="50.8,14.8 55.8,24 61.7,24.8 62.5,18.9 57,22" fill="#f8202c" fill-opacity="0.25" stroke="#f8202c" stroke-width="1.2" stroke-linejoin="round" opacity="0.63"/>
<polygon points="16.4,19.8 22.3,13.9 25.6,20.6 21.5,24" fill="#f8202c" stroke="#f8202c" stroke-width="0.8" stroke-linejoin="round" opacity="0.63"/>
<polygon points="26.5,1.3 34.9,2.2 30.7,6.4" fill="#f8202c" fill-opacity="0.25" stroke="#f8202c" stroke-width="1.2" stroke-linejoin="round" opacity="0.53"/>
<polygon points="24.8,39 35.7,36.5 36.5,40 25.6,42.4" fill="#f8202c" fill-opacity="0.25" stroke="#f8202c" stroke-width="1.1" stroke-linejoin="round" opacity="0.42"/>
<ellipse cx="65.4" cy="47" rx="3.3" ry="1.7" fill="#f8202c" opacity="0.73"/>
<ellipse cx="66.7" cy="30.7" rx="2.2" ry="1.5" fill="#f8202c" opacity="0.68"/>
<polygon points="13.9,61.7 24,60 14.8,69.2" fill="#f8202c" fill-opacity="0.25" stroke="#f8202c" stroke-width="1.4" stroke-linejoin="round" opacity="0.68"/>
<polyline points="44.9,68.4 49.1,62.5" fill="none" stroke="#f8202c" stroke-width="1.6" stroke-linecap="round" stroke-linejoin="round" opacity="0.47"/>
<ellipse cx="52.5" cy="76.3" rx="4.2" ry="1.6" fill="#f8202c" opacity="0.63"/>
<polyline points="6.4,76.8 10.6,83.5" fill="none" stroke="#f8202c" stroke-width="1.6" stroke-linecap="round" stroke-linejoin="round" opacity="0.42"/>
<polyline points="92,79 95,72" fill="none" stroke="#f8202c" stroke-width="1.4" stroke-linecap="round" stroke-linejoin="round" opacity="0.32"/>
<ellipse cx="98.6" cy="101" rx="1.2" ry="1.2" fill="#f8202c" opacity="0.73"/>
<ellipse cx="25.6" cy="48.3" rx="1.5" ry="1.5" fill="#f8202c" opacity="0.32"/>
<ellipse cx="15" cy="1.5" rx="3" ry="1.2" fill="#f8202c" opacity="0.53"/>
<ellipse cx="2.5" cy="42" rx="2.5" ry="1.2" fill="#f8202c" opacity="0.26"/>
<ellipse cx="34" cy="26" rx="2.5" ry="1.2" fill="#f8202c" opacity="0.26"/>
<ellipse cx="32" cy="78" rx="1.5" ry="1.5" fill="#f8202c" opacity="0.21"/>
<ellipse cx="84" cy="80" rx="1.5" ry="1.5" fill="#f8202c" opacity="0.26"/>
</g>
<g filter="url(#soft3)">
<ellipse cx="29" cy="2.85" rx="1.17" ry="1.01" fill="#6c62d2" opacity="0.6"/>
<ellipse cx="22.3" cy="18.78" rx="1.49" ry="1.29" fill="#6c62d2" opacity="0.65"/>
<ellipse cx="34.03" cy="25.48" rx="1.17" ry="1.01" fill="#6c62d2" opacity="0.6"/>
<ellipse cx="37.38" cy="27.16" rx="1.17" ry="1.01" fill="#6c62d2" opacity="0.6"/>
<ellipse cx="54.99" cy="22.13" rx="1.36" ry="1.18" fill="#6c62d2" opacity="0.63"/>
<ellipse cx="58.34" cy="22.97" rx="1.17" ry="1.01" fill="#6c62d2" opacity="0.6"/>
<ellipse cx="79.3" cy="11.23" rx="1.17" ry="1.01" fill="#6c62d2" opacity="0.6"/>
<ellipse cx="75.1" cy="18.78" rx="1.17" ry="1.01" fill="#6c62d2" opacity="0.6"/>
<ellipse cx="77.62" cy="18.78" rx="1.17" ry="1.01" fill="#6c62d2" opacity="0.6"/>
<ellipse cx="69.24" cy="30.51" rx="1.17" ry="1.01" fill="#6c62d2" opacity="0.6"/>
<ellipse cx="28.16" cy="40.57" rx="1.17" ry="1.01" fill="#6c62d2" opacity="0.6"/>
<ellipse cx="33.19" cy="38.89" rx="1.49" ry="1.29" fill="#6c62d2" opacity="0.65"/>
<ellipse cx="2.18" cy="42.25" rx="1.17" ry="1.01" fill="#6c62d2" opacity="0.6"/>
<ellipse cx="64.21" cy="46.44" rx="1.17" ry="1.01" fill="#6c62d2" opacity="0.6"/>
<ellipse cx="91.03" cy="48.95" rx="1.94" ry="1.68" fill="#6c62d2" opacity="0.72"/>
<ellipse cx="96.06" cy="48.11" rx="1.17" ry="1.01" fill="#6c62d2" opacity="0.6"/>
<ellipse cx="102.77" cy="42.25" rx="1.43" ry="1.23" fill="#6c62d2" opacity="0.64"/>
<ellipse cx="100.25" cy="47.28" rx="1.17" ry="1.01" fill="#6c62d2" opacity="0.6"/>
<ellipse cx="27.33" cy="52.31" rx="1.17" ry="1.01" fill="#6c62d2" opacity="0.6"/>
<ellipse cx="13.91" cy="59.01" rx="1.17" ry="1.01" fill="#6c62d2" opacity="0.6"/>
<ellipse cx="18.11" cy="64.88" rx="1.49" ry="1.29" fill="#6c62d2" opacity="0.65"/>
<ellipse cx="46.61" cy="66.55" rx="1.36" ry="1.18" fill="#6c62d2" opacity="0.63"/>
<ellipse cx="74.27" cy="59.85" rx="1.75" ry="1.51" fill="#6c62d2" opacity="0.69"/>
<ellipse cx="101.93" cy="61.53" rx="1.17" ry="1.01" fill="#6c62d2" opacity="0.6"/>
<ellipse cx="106.12" cy="71.58" rx="1.94" ry="1.68" fill="#6c62d2" opacity="0.72"/>
<ellipse cx="50.8" cy="76.61" rx="1.17" ry="1.01" fill="#6c62d2" opacity="0.6"/>
<ellipse cx="60.02" cy="75.78" rx="1.36" ry="1.18" fill="#6c62d2" opacity="0.63"/>
<ellipse cx="71.75" cy="79.13" rx="1.17" ry="1.01" fill="#6c62d2" opacity="0.6"/>
<ellipse cx="33.19" cy="79.13" rx="1.17" ry="1.01" fill="#6c62d2" opacity="0.6"/>
<ellipse cx="38.22" cy="82.48" rx="1.36" ry="1.18" fill="#6c62d2" opacity="0.63"/>
<ellipse cx="8.05" cy="79.97" rx="1.49" ry="1.29" fill="#6c62d2" opacity="0.65"/>
<ellipse cx="3.02" cy="88.35" rx="1.17" ry="1.01" fill="#6c62d2" opacity="0.6"/>
<ellipse cx="83.49" cy="80.8" rx="1.17" ry="1.01" fill="#6c62d2" opacity="0.6"/>
<ellipse cx="86.84" cy="78.29" rx="1.17" ry="1.01" fill="#6c62d2" opacity="0.6"/>
<ellipse cx="95.22" cy="76.61" rx="1.17" ry="1.01" fill="#6c62d2" opacity="0.6"/>
<ellipse cx="15.59" cy="101.76" rx="1.17" ry="1.01" fill="#6c62d2" opacity="0.6"/>
<ellipse cx="85.16" cy="104.27" rx="1.17" ry="1.01" fill="#6c62d2" opacity="0.6"/>
<ellipse cx="100.25" cy="99.25" rx="1.17" ry="1.01" fill="#6c62d2" opacity="0.6"/>
</g>
</g></g>
<g transform="translate(428.8 638.75)">
<rect x="0" y="0" width="109.1" height="108.85" fill="#020202"/>
<g clip-path="url(#cp33)">
<g filter="url(#cell)">
<polygon points="23.3,58.3 26.6,50.8 36.7,50 30.8,58.3 26.6,65.9" fill="#f8202c" stroke="#f8202c" stroke-width="0.8" stroke-linejoin="round" opacity="1"/>
<polyline points="45.9,38.2 54,31 62.6,24" fill="none" stroke="#f8202c" stroke-width="1.6" stroke-linecap="round" stroke-linejoin="round" opacity="0.58"/>
<polyline points="42.5,46.6 55.9,54.1" fill="none" stroke="#f8202c" stroke-width="1.4" stroke-linecap="round" stroke-linejoin="round" opacity="0.42"/>
<polyline points="0.6,26.5 6,33 12.4,42.4" fill="none" stroke="#f8202c" stroke-width="1.6" stroke-linecap="round" stroke-linejoin="round" opacity="0.58"/>
<circle cx="13.2" cy="25.6" r="2.4" fill="none" stroke="#f8202c" stroke-width="1.1" opacity="0.42"/>
<polyline points="82,1.3 80.2,13 83.6,19.8" fill="none" stroke="#f8202c" stroke-width="1.4" stroke-linecap="round" stroke-linejoin="round" opacity="0.58"/>
<ellipse cx="82.2" cy="16.5" rx="2.2" ry="3" fill="#f8202c" opacity="0.63"/>
<polyline points="98.7,22.3 107,25.6" fill="none" stroke="#f8202c" stroke-width="2" stroke-linecap="round" stroke-linejoin="round" opacity="0.53"/>
<ellipse cx="92.8" cy="37.4" rx="1.8" ry="2.4" fill="#f8202c" opacity="0.37"/>
<ellipse cx="80.2" cy="42.4" rx="2.5" ry="1.5" fill="#f8202c" opacity="0.32"/>
<ellipse cx="97" cy="51.6" rx="2" ry="1.5" fill="#f8202c" opacity="0.32"/>
<circle cx="47.6" cy="71.8" r="2.2" fill="none" stroke="#f8202c" stroke-width="1.2" opacity="0.53"/>
<polyline points="14,83 17.4,77" fill="none" stroke="#f8202c" stroke-width="2" stroke-linecap="round" stroke-linejoin="round" opacity="0.58"/>
<ellipse cx="51.7" cy="93.5" rx="2" ry="2.4" fill="#f8202c" opacity="0.42"/>
<ellipse cx="30.8" cy="31.5" rx="2.4" ry="1.3" fill="#f8202c" opacity="0.42"/>
<ellipse cx="19.9" cy="43.3" rx="1.8" ry="1.5" fill="#f8202c" opacity="0.37"/>
<ellipse cx="9.8" cy="4.7" rx="2" ry="1.6" fill="#f8202c" opacity="0.37"/>
<ellipse cx="64.3" cy="45" rx="1.6" ry="1.4" fill="#f8202c" opacity="0.32"/>
<ellipse cx="60" cy="65" rx="1.8" ry="1.4" fill="#f8202c" opacity="0.32"/>
<ellipse cx="93.6" cy="82.6" rx="1.8" ry="1.3" fill="#f8202c" opacity="0.32"/>
<ellipse cx="13.2" cy="100.3" rx="2.4" ry="1.4" fill="#f8202c" opacity="0.32"/>
<polyline points="7,18 6.5,27" fill="none" stroke="#f8202c" stroke-width="1.1" stroke-linecap="round" stroke-linejoin="round" opacity="0.42"/>
<polyline points="38,60 52,60.5 62,59.5" fill="none" stroke="#f8202c" stroke-width="1" stroke-linecap="round" stroke-linejoin="round" opacity="0.32"/>
<ellipse cx="48" cy="99" rx="1.2" ry="2" fill="#f8202c" opacity="0.37"/>
<ellipse cx="57" cy="103.5" rx="1.5" ry="1.2" fill="#f8202c" opacity="0.32"/>
<ellipse cx="71" cy="14" rx="1.3" ry="1.3" fill="#f8202c" opacity="0.32"/>
<polyline points="61,12 61.5,17" fill="none" stroke="#f8202c" stroke-width="1" stroke-linecap="round" stroke-linejoin="round" opacity="0.37"/>
<ellipse cx="3.5" cy="89" rx="1.5" ry="1.2" fill="#f8202c" opacity="0.32"/>
</g>
<g filter="url(#soft3)">
<ellipse cx="5.7" cy="2.01" rx="1.17" ry="1.01" fill="#6c62d2" opacity="0.68"/>
<ellipse cx="12.41" cy="5.36" rx="1.17" ry="1.01" fill="#6c62d2" opacity="0.68"/>
<ellipse cx="60.18" cy="2.01" rx="1.17" ry="1.01" fill="#6c62d2" opacity="0.68"/>
<ellipse cx="61.02" cy="11.23" rx="1.17" ry="1.01" fill="#6c62d2" opacity="0.68"/>
<ellipse cx="71.92" cy="12.91" rx="1.17" ry="1.01" fill="#6c62d2" opacity="0.68"/>
<ellipse cx="81.98" cy="8.72" rx="1.17" ry="1.01" fill="#6c62d2" opacity="0.68"/>
<ellipse cx="81.98" cy="15.42" rx="1.36" ry="1.18" fill="#6c62d2" opacity="0.71"/>
<ellipse cx="83.65" cy="22.13" rx="1.17" ry="1.01" fill="#6c62d2" opacity="0.68"/>
<ellipse cx="103.77" cy="23.81" rx="1.17" ry="1.01" fill="#6c62d2" opacity="0.68"/>
<ellipse cx="6.54" cy="19.61" rx="1.17" ry="1.01" fill="#6c62d2" opacity="0.68"/>
<ellipse cx="24.14" cy="17.1" rx="1.17" ry="1.01" fill="#6c62d2" opacity="0.68"/>
<ellipse cx="13.24" cy="26.32" rx="1.43" ry="1.23" fill="#6c62d2" opacity="0.72"/>
<ellipse cx="4.86" cy="29.67" rx="1.36" ry="1.18" fill="#6c62d2" opacity="0.71"/>
<ellipse cx="9.05" cy="36.38" rx="1.17" ry="1.01" fill="#6c62d2" opacity="0.68"/>
<ellipse cx="34.2" cy="29.67" rx="1.17" ry="1.01" fill="#6c62d2" opacity="0.68"/>
<ellipse cx="26.66" cy="33.03" rx="1.17" ry="1.01" fill="#6c62d2" opacity="0.68"/>
<ellipse cx="62.7" cy="23.81" rx="1.17" ry="1.01" fill="#6c62d2" opacity="0.68"/>
<ellipse cx="58.51" cy="28" rx="1.17" ry="1.01" fill="#6c62d2" opacity="0.68"/>
<ellipse cx="51.8" cy="33.86" rx="1.17" ry="1.01" fill="#6c62d2" opacity="0.68"/>
<ellipse cx="20.79" cy="43.92" rx="1.17" ry="1.01" fill="#6c62d2" opacity="0.68"/>
<ellipse cx="45.93" cy="48.11" rx="1.43" ry="1.23" fill="#6c62d2" opacity="0.72"/>
<ellipse cx="65.21" cy="46.44" rx="1.17" ry="1.01" fill="#6c62d2" opacity="0.68"/>
<ellipse cx="80.3" cy="42.25" rx="1.69" ry="1.46" fill="#6c62d2" opacity="0.76"/>
<ellipse cx="92.88" cy="38.06" rx="1.17" ry="1.01" fill="#6c62d2" opacity="0.68"/>
<ellipse cx="93.71" cy="41.41" rx="1.17" ry="1.01" fill="#6c62d2" opacity="0.68"/>
<ellipse cx="95.39" cy="48.95" rx="1.17" ry="1.01" fill="#6c62d2" opacity="0.68"/>
<ellipse cx="29.17" cy="53.14" rx="1.43" ry="1.23" fill="#6c62d2" opacity="0.72"/>
<ellipse cx="27.49" cy="57.33" rx="1.36" ry="1.18" fill="#6c62d2" opacity="0.71"/>
<ellipse cx="28.33" cy="60.69" rx="1.36" ry="1.18" fill="#6c62d2" opacity="0.71"/>
<ellipse cx="30.85" cy="62.36" rx="1.17" ry="1.01" fill="#6c62d2" opacity="0.68"/>
<ellipse cx="37.55" cy="61.53" rx="1.17" ry="1.01" fill="#6c62d2" opacity="0.68"/>
<ellipse cx="9.05" cy="60.69" rx="1.62" ry="1.4" fill="#6c62d2" opacity="0.74"/>
<ellipse cx="54.32" cy="59.01" rx="1.43" ry="1.23" fill="#6c62d2" opacity="0.72"/>
<ellipse cx="57.67" cy="56.5" rx="1.17" ry="1.01" fill="#6c62d2" opacity="0.68"/>
<ellipse cx="64.38" cy="55.66" rx="1.43" ry="1.23" fill="#6c62d2" opacity="0.72"/>
<ellipse cx="73.6" cy="57.33" rx="1.17" ry="1.01" fill="#6c62d2" opacity="0.68"/>
<ellipse cx="60.18" cy="64.88" rx="1.17" ry="1.01" fill="#6c62d2" opacity="0.68"/>
<ellipse cx="26.66" cy="66.55" rx="1.17" ry="1.01" fill="#6c62d2" opacity="0.68"/>
<ellipse cx="89.52" cy="64.88" rx="1.36" ry="1.18" fill="#6c62d2" opacity="0.71"/>
<ellipse cx="92.04" cy="65.72" rx="1.17" ry="1.01" fill="#6c62d2" opacity="0.68"/>
<ellipse cx="47.61" cy="70.75" rx="1.43" ry="1.23" fill="#6c62d2" opacity="0.72"/>
<ellipse cx="46.77" cy="74.1" rx="1.17" ry="1.01" fill="#6c62d2" opacity="0.68"/>
<ellipse cx="15.76" cy="82.48" rx="1.17" ry="1.01" fill="#6c62d2" opacity="0.68"/>
<ellipse cx="14.92" cy="86.67" rx="1.17" ry="1.01" fill="#6c62d2" opacity="0.68"/>
<ellipse cx="8.21" cy="88.35" rx="1.17" ry="1.01" fill="#6c62d2" opacity="0.68"/>
<ellipse cx="28.33" cy="90.03" rx="1.17" ry="1.01" fill="#6c62d2" opacity="0.68"/>
<ellipse cx="75.27" cy="85" rx="1.17" ry="1.01" fill="#6c62d2" opacity="0.68"/>
<ellipse cx="84.49" cy="78.29" rx="1.17" ry="1.01" fill="#6c62d2" opacity="0.68"/>
<ellipse cx="93.71" cy="79.97" rx="1.17" ry="1.01" fill="#6c62d2" opacity="0.68"/>
<ellipse cx="102.93" cy="77.45" rx="1.17" ry="1.01" fill="#6c62d2" opacity="0.68"/>
<ellipse cx="50.96" cy="94.22" rx="1.17" ry="1.01" fill="#6c62d2" opacity="0.68"/>
<ellipse cx="48.45" cy="98.41" rx="1.17" ry="1.01" fill="#6c62d2" opacity="0.68"/>
<ellipse cx="14.08" cy="101.76" rx="1.36" ry="1.18" fill="#6c62d2" opacity="0.71"/>
<ellipse cx="14.08" cy="104.27" rx="1.17" ry="1.01" fill="#6c62d2" opacity="0.68"/>
<ellipse cx="59.35" cy="103.44" rx="1.17" ry="1.01" fill="#6c62d2" opacity="0.68"/>
</g>
</g></g>
<g transform="translate(542.1 638.75)">
<rect x="0" y="0" width="109.8" height="108.85" fill="#020202"/>
<g clip-path="url(#cp34)">
<g filter="url(#cell)">
<polygon points="67,15.4 68,20.6 76.2,24.7 86.5,21.6 91.7,21.6 95.8,25.7 92.7,30.9 96.8,38.1 88.6,41.2 86.5,54.6 81.4,49.4 76.2,40.1 71.1,34 74.2,28.8 69,23.7" fill="#f8202c" stroke="#f8202c" stroke-width="0.8" stroke-linejoin="round" opacity="0.86"/>
<ellipse cx="82.4" cy="36.2" rx="3.4" ry="2.6" fill="#000" opacity="0.75"/>
<ellipse cx="89.5" cy="24.6" rx="1.6" ry="1.3" fill="#000" opacity="0.6"/>
<polyline points="69,23.7 60.8,29.9 52.5,35 51.5,48.4 46.4,58.7" fill="none" stroke="#f8202c" stroke-width="2" stroke-linecap="round" stroke-linejoin="round" opacity="0.87"/>
<polyline points="46.4,58.7 57.7,56.6 72.1,59.7" fill="none" stroke="#f8202c" stroke-width="2" stroke-linecap="round" stroke-linejoin="round" opacity="0.82"/>
<polyline points="52.5,35 62.8,36 71,34" fill="none" stroke="#f8202c" stroke-width="1.4" stroke-linecap="round" stroke-linejoin="round" opacity="0.66"/>
<polyline points="51.5,48.4 56,52 57.7,56.6" fill="none" stroke="#f8202c" stroke-width="1.3" stroke-linecap="round" stroke-linejoin="round" opacity="0.61"/>
<polyline points="95.8,25.7 100,27" fill="none" stroke="#f8202c" stroke-width="1.5" stroke-linecap="round" stroke-linejoin="round" opacity="0.71"/>
<polyline points="96.8,38.1 99,41" fill="none" stroke="#f8202c" stroke-width="1.3" stroke-linecap="round" stroke-linejoin="round" opacity="0.61"/>
<polyline points="104,48.4 102,57.6" fill="none" stroke="#f8202c" stroke-width="2.2" stroke-linecap="round" stroke-linejoin="round" opacity="0.82"/>
<polyline points="103,10.3 107,4.1" fill="none" stroke="#f8202c" stroke-width="1.6" stroke-linecap="round" stroke-linejoin="round" opacity="0.56"/>
<polyline points="19.2,22.3 25,34 30.1,46.6" fill="none" stroke="#f8202c" stroke-width="1.8" stroke-linecap="round" stroke-linejoin="round" opacity="0.82"/>
<polyline points="18.4,39.9 20.9,51.6" fill="none" stroke="#f8202c" stroke-width="2.2" stroke-linecap="round" stroke-linejoin="round" opacity="0.82"/>
<polyline points="9.2,39.9 10.8,60" fill="none" stroke="#f8202c" stroke-width="1.8" stroke-linecap="round" stroke-linejoin="round" opacity="0.77"/>
<polygon points="15,61.7 31.8,63.4 27,68 25.1,74.5 22,68" fill="#f8202c" stroke="#f8202c" stroke-width="0.8" stroke-linejoin="round" opacity="0.68"/>
<ellipse cx="25" cy="84.5" rx="2.4" ry="5" fill="#f8202c" opacity="0.92"/>
<polyline points="4.1,66.7 5.8,73.4" fill="none" stroke="#f8202c" stroke-width="2.4" stroke-linecap="round" stroke-linejoin="round" opacity="0.82"/>
<polygon points="28.4,3 38.5,2.2 31.8,9.7" fill="#f8202c" fill-opacity="0.25" stroke="#f8202c" stroke-width="1.5" stroke-linejoin="round" opacity="0.77"/>
<polyline points="40.2,19.8 48.5,14.8" fill="none" stroke="#f8202c" stroke-width="1.8" stroke-linecap="round" stroke-linejoin="round" opacity="0.66"/>
<ellipse cx="87.1" cy="80.1" rx="2.6" ry="2.6" fill="#f8202c" opacity="0.82"/>
<ellipse cx="46.9" cy="75.9" rx="2" ry="2.6" fill="#f8202c" opacity="0.77"/>
<polyline points="43.5,93.5 56.9,98.6" fill="none" stroke="#f8202c" stroke-width="1.5" stroke-linecap="round" stroke-linejoin="round" opacity="0.61"/>
<ellipse cx="82.1" cy="103.6" rx="2.4" ry="1.4" fill="#f8202c" opacity="1"/>
<polyline points="1.6,28.2 8.3,26.5" fill="none" stroke="#f8202c" stroke-width="1.6" stroke-linecap="round" stroke-linejoin="round" opacity="0.61"/>
<polyline points="77,70 85.4,76.8" fill="none" stroke="#f8202c" stroke-width="1.4" stroke-linecap="round" stroke-linejoin="round" opacity="0.56"/>
<ellipse cx="30" cy="16" rx="3" ry="1.5" fill="#f8202c" opacity="0.61"/>
<ellipse cx="105" cy="3.5" rx="1.5" ry="2.5" fill="#f8202c" opacity="0.61"/>
<polyline points="3,60 5,66" fill="none" stroke="#f8202c" stroke-width="1.6" stroke-linecap="round" stroke-linejoin="round" opacity="0.61"/>
<ellipse cx="14" cy="80" rx="1.5" ry="1.5" fill="#f8202c" opacity="0.61"/>
<ellipse cx="96" cy="30" rx="3" ry="1.2" fill="#f8202c" opacity="0.61"/>
<polyline points="27,46 30,53" fill="none" stroke="#f8202c" stroke-width="1.3" stroke-linecap="round" stroke-linejoin="round" opacity="0.61"/>
<ellipse cx="35" cy="99" rx="2.5" ry="1.2" fill="#f8202c" opacity="0.5"/>
</g>
<g filter="url(#soft3)">
<ellipse cx="30.95" cy="5.36" rx="1.17" ry="1.01" fill="#6c62d2" opacity="0.7"/>
<ellipse cx="35.98" cy="4.53" rx="1.17" ry="1.01" fill="#6c62d2" opacity="0.7"/>
<ellipse cx="43.52" cy="17.1" rx="1.75" ry="1.51" fill="#6c62d2" opacity="0.79"/>
<ellipse cx="35.14" cy="20.45" rx="1.17" ry="1.01" fill="#6c62d2" opacity="0.7"/>
<ellipse cx="31.79" cy="18.78" rx="1.17" ry="1.01" fill="#6c62d2" opacity="0.7"/>
<ellipse cx="67.83" cy="19.61" rx="1.17" ry="1.01" fill="#6c62d2" opacity="0.7"/>
<ellipse cx="67.83" cy="26.32" rx="1.17" ry="1.01" fill="#6c62d2" opacity="0.7"/>
<ellipse cx="89.62" cy="25.48" rx="1.17" ry="1.01" fill="#6c62d2" opacity="0.7"/>
<ellipse cx="95.49" cy="30.51" rx="1.17" ry="1.01" fill="#6c62d2" opacity="0.7"/>
<ellipse cx="103.03" cy="28" rx="1.17" ry="1.01" fill="#6c62d2" opacity="0.7"/>
<ellipse cx="77.05" cy="31.35" rx="1.17" ry="1.01" fill="#6c62d2" opacity="0.7"/>
<ellipse cx="81.24" cy="31.35" rx="1.17" ry="1.01" fill="#6c62d2" opacity="0.7"/>
<ellipse cx="2.45" cy="28" rx="1.17" ry="1.01" fill="#6c62d2" opacity="0.7"/>
<ellipse cx="0.8" cy="33.03" rx="1.17" ry="1.01" fill="#6c62d2" opacity="0.7"/>
<ellipse cx="8.32" cy="27.16" rx="1.17" ry="1.01" fill="#6c62d2" opacity="0.7"/>
<ellipse cx="21.73" cy="27.16" rx="1.17" ry="1.01" fill="#6c62d2" opacity="0.7"/>
<ellipse cx="25.92" cy="31.35" rx="1.17" ry="1.01" fill="#6c62d2" opacity="0.7"/>
<ellipse cx="27.59" cy="38.06" rx="1.17" ry="1.01" fill="#6c62d2" opacity="0.7"/>
<ellipse cx="53.58" cy="34.7" rx="1.69" ry="1.46" fill="#6c62d2" opacity="0.78"/>
<ellipse cx="57.77" cy="38.06" rx="1.17" ry="1.01" fill="#6c62d2" opacity="0.7"/>
<ellipse cx="53.58" cy="40.57" rx="1.43" ry="1.23" fill="#6c62d2" opacity="0.74"/>
<ellipse cx="86.27" cy="36.38" rx="1.17" ry="1.01" fill="#6c62d2" opacity="0.7"/>
<ellipse cx="87.11" cy="39.73" rx="1.17" ry="1.01" fill="#6c62d2" opacity="0.7"/>
<ellipse cx="76.21" cy="40.57" rx="1.17" ry="1.01" fill="#6c62d2" opacity="0.7"/>
<ellipse cx="9.15" cy="43.08" rx="1.75" ry="1.51" fill="#6c62d2" opacity="0.79"/>
<ellipse cx="19.21" cy="43.92" rx="1.17" ry="1.01" fill="#6c62d2" opacity="0.7"/>
<ellipse cx="20.05" cy="48.11" rx="1.81" ry="1.57" fill="#6c62d2" opacity="0.8"/>
<ellipse cx="16.7" cy="50.63" rx="1.17" ry="1.01" fill="#6c62d2" opacity="0.7"/>
<ellipse cx="29.27" cy="43.08" rx="1.17" ry="1.01" fill="#6c62d2" opacity="0.7"/>
<ellipse cx="9.15" cy="49.79" rx="1.17" ry="1.01" fill="#6c62d2" opacity="0.7"/>
<ellipse cx="9.99" cy="55.66" rx="1.36" ry="1.18" fill="#6c62d2" opacity="0.73"/>
<ellipse cx="80.4" cy="46.44" rx="1.17" ry="1.01" fill="#6c62d2" opacity="0.7"/>
<ellipse cx="83.76" cy="48.95" rx="1.17" ry="1.01" fill="#6c62d2" opacity="0.7"/>
<ellipse cx="104.71" cy="48.95" rx="1.17" ry="1.01" fill="#6c62d2" opacity="0.7"/>
<ellipse cx="103.87" cy="53.14" rx="1.17" ry="1.01" fill="#6c62d2" opacity="0.7"/>
<ellipse cx="51.9" cy="52.31" rx="1.17" ry="1.01" fill="#6c62d2" opacity="0.7"/>
<ellipse cx="54.42" cy="55.66" rx="1.17" ry="1.01" fill="#6c62d2" opacity="0.7"/>
<ellipse cx="48.55" cy="57.33" rx="1.17" ry="1.01" fill="#6c62d2" opacity="0.7"/>
<ellipse cx="44.36" cy="59.85" rx="1.36" ry="1.18" fill="#6c62d2" opacity="0.73"/>
<ellipse cx="68.67" cy="59.01" rx="1.43" ry="1.23" fill="#6c62d2" opacity="0.74"/>
<ellipse cx="15.86" cy="63.2" rx="1.17" ry="1.01" fill="#6c62d2" opacity="0.7"/>
<ellipse cx="19.21" cy="64.04" rx="1.17" ry="1.01" fill="#6c62d2" opacity="0.7"/>
<ellipse cx="9.15" cy="64.04" rx="1.17" ry="1.01" fill="#6c62d2" opacity="0.7"/>
<ellipse cx="34.3" cy="63.2" rx="1.17" ry="1.01" fill="#6c62d2" opacity="0.7"/>
<ellipse cx="30.11" cy="65.72" rx="1.17" ry="1.01" fill="#6c62d2" opacity="0.7"/>
<ellipse cx="24.24" cy="66.55" rx="1.17" ry="1.01" fill="#6c62d2" opacity="0.7"/>
<ellipse cx="28.43" cy="69.91" rx="1.43" ry="1.23" fill="#6c62d2" opacity="0.74"/>
<ellipse cx="29.27" cy="73.26" rx="1.17" ry="1.01" fill="#6c62d2" opacity="0.7"/>
<ellipse cx="4.12" cy="69.07" rx="1.17" ry="1.01" fill="#6c62d2" opacity="0.7"/>
<ellipse cx="4.96" cy="72.42" rx="1.17" ry="1.01" fill="#6c62d2" opacity="0.7"/>
<ellipse cx="0.8" cy="71.58" rx="1.17" ry="1.01" fill="#6c62d2" opacity="0.7"/>
<ellipse cx="77.05" cy="69.91" rx="1.17" ry="1.01" fill="#6c62d2" opacity="0.7"/>
<ellipse cx="81.24" cy="74.94" rx="1.17" ry="1.01" fill="#6c62d2" opacity="0.7"/>
<ellipse cx="83.76" cy="79.13" rx="1.17" ry="1.01" fill="#6c62d2" opacity="0.7"/>
<ellipse cx="87.11" cy="80.8" rx="1.17" ry="1.01" fill="#6c62d2" opacity="0.7"/>
<ellipse cx="47.71" cy="76.61" rx="1.17" ry="1.01" fill="#6c62d2" opacity="0.7"/>
<ellipse cx="46.87" cy="79.97" rx="1.17" ry="1.01" fill="#6c62d2" opacity="0.7"/>
<ellipse cx="14.18" cy="82.48" rx="1.17" ry="1.01" fill="#6c62d2" opacity="0.7"/>
<ellipse cx="16.7" cy="87.51" rx="1.17" ry="1.01" fill="#6c62d2" opacity="0.7"/>
<ellipse cx="19.21" cy="89.19" rx="1.17" ry="1.01" fill="#6c62d2" opacity="0.7"/>
<ellipse cx="24.24" cy="85.83" rx="1.17" ry="1.01" fill="#6c62d2" opacity="0.7"/>
<ellipse cx="27.59" cy="85.83" rx="1.17" ry="1.01" fill="#6c62d2" opacity="0.7"/>
<ellipse cx="28.43" cy="89.19" rx="1.17" ry="1.01" fill="#6c62d2" opacity="0.7"/>
<ellipse cx="35.98" cy="91.7" rx="1.17" ry="1.01" fill="#6c62d2" opacity="0.7"/>
<ellipse cx="50.23" cy="97.57" rx="1.17" ry="1.01" fill="#6c62d2" opacity="0.7"/>
<ellipse cx="29.27" cy="103.44" rx="1.17" ry="1.01" fill="#6c62d2" opacity="0.7"/>
<ellipse cx="81.24" cy="102.6" rx="1.17" ry="1.01" fill="#6c62d2" opacity="0.7"/>
</g>
</g></g>
<rect x="629.6" y="399" width="20.3" height="2" fill="#fff"/>
<text x="639.9" y="397.3" text-anchor="middle" font-family="'Liberation Sans','Noto Sans CJK SC',sans-serif" font-weight="bold" font-size="5.8" fill="#fff">200µm</text>
<rect x="629.6" y="512.2" width="20.3" height="2" fill="#fff"/>
<text x="639.9" y="509.1" text-anchor="middle" font-family="'Liberation Sans','Noto Sans CJK SC',sans-serif" font-weight="bold" font-size="5.8" fill="#fff">100µm</text>
<rect x="629.6" y="625.8" width="20.3" height="2" fill="#fff"/>
<text x="639.9" y="622.6" text-anchor="middle" font-family="'Liberation Sans','Noto Sans CJK SC',sans-serif" font-weight="bold" font-size="5.8" fill="#fff">100µm</text>
<text x="640.4" y="735" text-anchor="middle" font-family="'Liberation Sans','Noto Sans CJK SC',sans-serif" font-weight="bold" font-size="3.6" fill="#eee">100µm</text>
<text x="531.6" y="740.3" font-family="'Liberation Sans','Noto Sans CJK SC',sans-serif" font-weight="bold" font-size="27.1" fill="#b2b2b2" stroke="#b2b2b2" stroke-width="0.7" opacity="0.66" textLength="135.6" lengthAdjust="spacingAndGlyphs">嘉峪检测网</text>
<text x="530.6" y="758.2" font-family="'Liberation Sans','Noto Sans CJK SC',sans-serif" font-weight="bold" font-style="italic" font-size="11.3" fill="#d6d6d6" textLength="138" lengthAdjust="spacingAndGlyphs">AnyTesting.com</text>
<g>
<path d="M441.2 729.1c-5.2 0-9.4 3.4-9.4 7.6 0 2.4 1.4 4.5 3.5 5.9l-1 3 3.4-1.8c1.1.3 2.3.5 3.5.5 5.2 0 9.4-3.4 9.4-7.6s-4.200-7.600-9.400-7.600z" fill="#ececec"/>
<path d="M450 736.300c-4.500 0-8.100 3-8.100 6.700s3.600 6.700 8.100 6.700c1 0 2-.2 2.900-.4l3 1.600-.8-2.600c1.800-1.200 3-3.100 3-5.300 0-3.700-3.600-6.700-8.100-6.700z" fill="#ececec" stroke="#1a1a1a" stroke-width="0.7"/>
<circle cx="436.6" cy="734.2" r="1.1" fill="#222"/><circle cx="443" cy="734.2" r="1.1" fill="#222"/>
<circle cx="447" cy="741" r="0.9" fill="#222"/><circle cx="452.6" cy="741" r="0.9" fill="#222"/>
</g>
<g fill="#fff" font-size="16.7" style="paint-order:stroke" stroke="#000" stroke-opacity="0.25" stroke-width="0.8">
<text x="462.3" y="746.3" font-family="'Liberation Sans','Noto Sans CJK SC',sans-serif" textLength="94.6" lengthAdjust="spacingAndGlyphs">BioactMater</text>
<text x="557.2" y="747.1" font-size="17.5" font-family="'Liberation Sans','Noto Sans CJK SC',sans-serif" textLength="99.5" lengthAdjust="spacingAndGlyphs">生物活性材料</text>
</g>
</svg>
</body></html>
